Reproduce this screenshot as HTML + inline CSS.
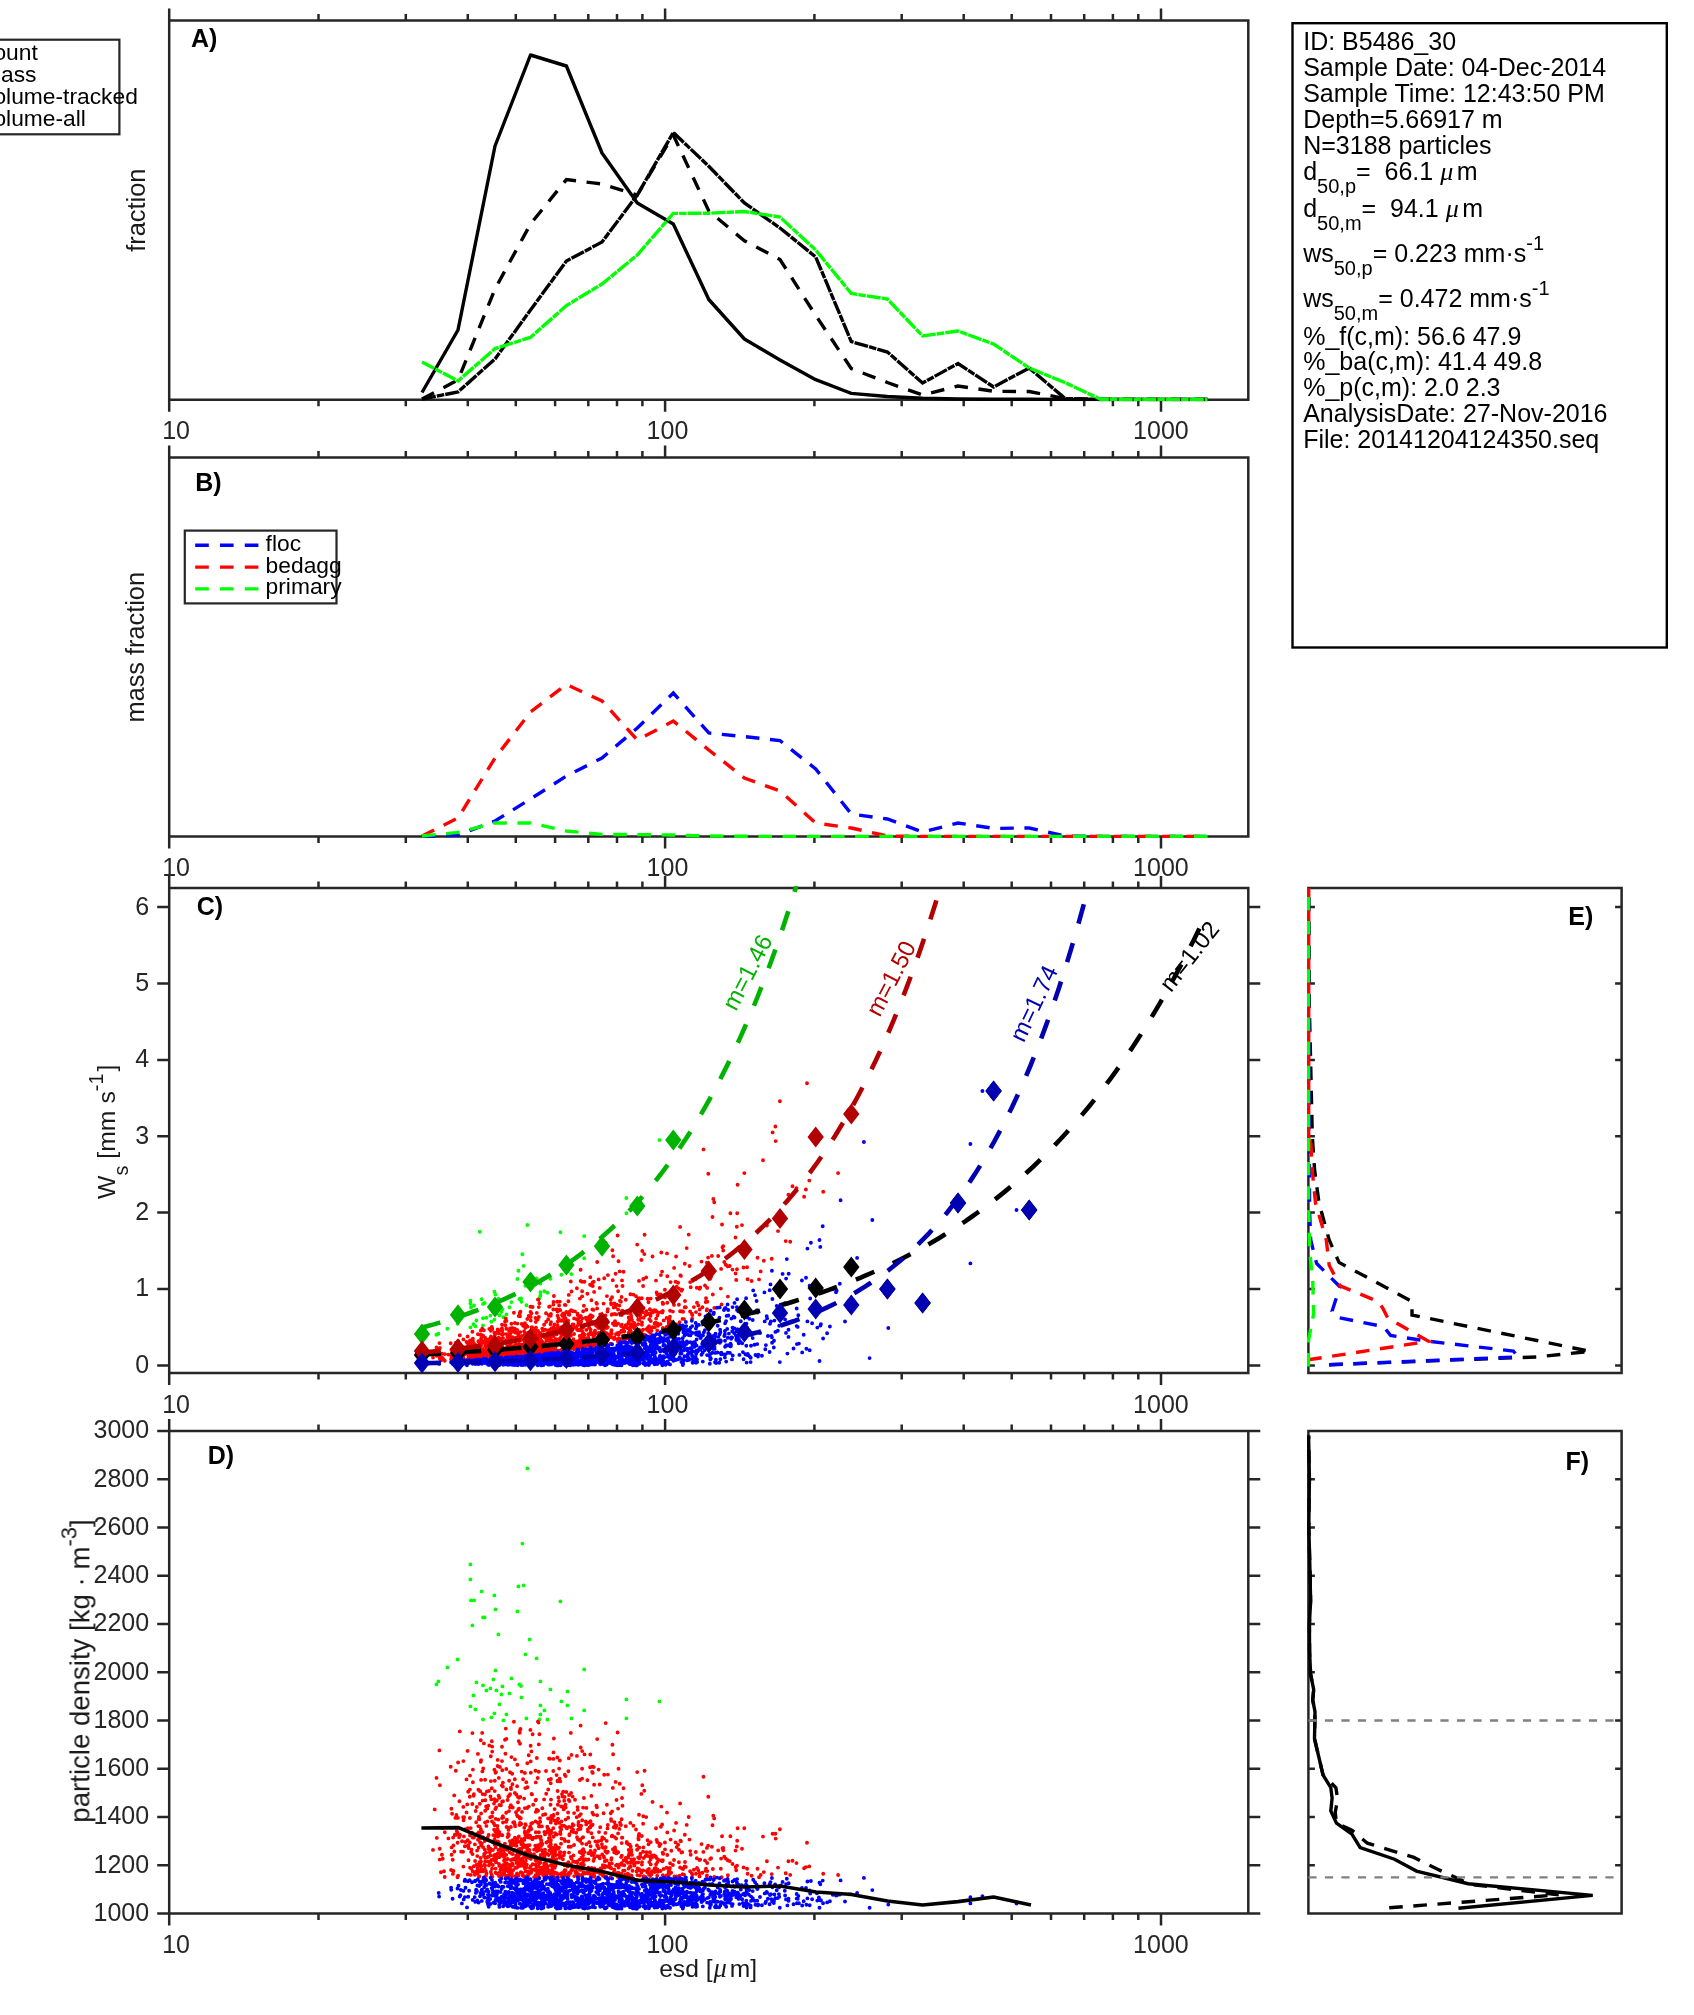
<!DOCTYPE html>
<html lang="en"><head><meta charset="utf-8"><title>Particle analysis B5486_30</title>
<style>html,body{margin:0;padding:0;background:#fff}svg{display:block}</style></head>
<body>
<svg width="1694" height="2015" viewBox="0 0 1694 2015">
<defs>
<clipPath id="cA"><rect x="167.6" y="19" width="1082.3" height="382.3"/></clipPath>
<clipPath id="cB"><rect x="167.6" y="456" width="1082.3" height="382.1"/></clipPath>
<clipPath id="cC"><rect x="167.6" y="886.3" width="1082.3" height="488.2"/></clipPath>
<clipPath id="cD"><rect x="167.6" y="1429.3" width="1082.3" height="485.8"/></clipPath>
<clipPath id="cE"><rect x="1306.8" y="886.3" width="316.4" height="488.2"/></clipPath>
<clipPath id="cF"><rect x="1306.8" y="1429.3" width="316.4" height="485.8"/></clipPath>
</defs>
<rect width="1694" height="2015" fill="#fff"/>
<g opacity="0.999">
<path d="M169.2 20.6H1248.3V399.7H169.2ZM169.2 399.7v12M169.2 20.6v-12M318.5 399.7v6.5M318.5 20.6v-6.5M405.8 399.7v6.5M405.8 20.6v-6.5M467.8 399.7v6.5M467.8 20.6v-6.5M515.8 399.7v6.5M515.8 20.6v-6.5M555.1 399.7v6.5M555.1 20.6v-6.5M588.3 399.7v6.5M588.3 20.6v-6.5M617 399.7v6.5M617 20.6v-6.5M642.4 399.7v6.5M642.4 20.6v-6.5M665.1 399.7v12M665.1 20.6v-12M814.4 399.7v6.5M814.4 20.6v-6.5M901.7 399.7v6.5M901.7 20.6v-6.5M963.7 399.7v6.5M963.7 20.6v-6.5M1011.7 399.7v6.5M1011.7 20.6v-6.5M1051 399.7v6.5M1051 20.6v-6.5M1084.2 399.7v6.5M1084.2 20.6v-6.5M1112.9 399.7v6.5M1112.9 20.6v-6.5M1138.3 399.7v6.5M1138.3 20.6v-6.5M1161 399.7v12M1161 20.6v-12M169.2 457.6H1248.3V836.5H169.2ZM169.2 836.5v12M169.2 457.6v-12M318.5 836.5v6.5M318.5 457.6v-6.5M405.8 836.5v6.5M405.8 457.6v-6.5M467.8 836.5v6.5M467.8 457.6v-6.5M515.8 836.5v6.5M515.8 457.6v-6.5M555.1 836.5v6.5M555.1 457.6v-6.5M588.3 836.5v6.5M588.3 457.6v-6.5M617 836.5v6.5M617 457.6v-6.5M642.4 836.5v6.5M642.4 457.6v-6.5M665.1 836.5v12M665.1 457.6v-12M814.4 836.5v6.5M814.4 457.6v-6.5M901.7 836.5v6.5M901.7 457.6v-6.5M963.7 836.5v6.5M963.7 457.6v-6.5M1011.7 836.5v6.5M1011.7 457.6v-6.5M1051 836.5v6.5M1051 457.6v-6.5M1084.2 836.5v6.5M1084.2 457.6v-6.5M1112.9 836.5v6.5M1112.9 457.6v-6.5M1138.3 836.5v6.5M1138.3 457.6v-6.5M1161 836.5v12M1161 457.6v-12M169.2 887.9H1248.3V1372.9H169.2ZM169.2 1372.9v12M169.2 887.9v-12M318.5 1372.9v6.5M318.5 887.9v-6.5M405.8 1372.9v6.5M405.8 887.9v-6.5M467.8 1372.9v6.5M467.8 887.9v-6.5M515.8 1372.9v6.5M515.8 887.9v-6.5M555.1 1372.9v6.5M555.1 887.9v-6.5M588.3 1372.9v6.5M588.3 887.9v-6.5M617 1372.9v6.5M617 887.9v-6.5M642.4 1372.9v6.5M642.4 887.9v-6.5M665.1 1372.9v12M665.1 887.9v-12M814.4 1372.9v6.5M814.4 887.9v-6.5M901.7 1372.9v6.5M901.7 887.9v-6.5M963.7 1372.9v6.5M963.7 887.9v-6.5M1011.7 1372.9v6.5M1011.7 887.9v-6.5M1051 1372.9v6.5M1051 887.9v-6.5M1084.2 1372.9v6.5M1084.2 887.9v-6.5M1112.9 1372.9v6.5M1112.9 887.9v-6.5M1138.3 1372.9v6.5M1138.3 887.9v-6.5M1161 1372.9v12M1161 887.9v-12M169.2 1430.9H1248.3V1913.5H169.2ZM169.2 1913.5v12M169.2 1430.9v-12M318.5 1913.5v6.5M318.5 1430.9v-6.5M405.8 1913.5v6.5M405.8 1430.9v-6.5M467.8 1913.5v6.5M467.8 1430.9v-6.5M515.8 1913.5v6.5M515.8 1430.9v-6.5M555.1 1913.5v6.5M555.1 1430.9v-6.5M588.3 1913.5v6.5M588.3 1430.9v-6.5M617 1913.5v6.5M617 1430.9v-6.5M642.4 1913.5v6.5M642.4 1430.9v-6.5M665.1 1913.5v12M665.1 1430.9v-12M814.4 1913.5v6.5M814.4 1430.9v-6.5M901.7 1913.5v6.5M901.7 1430.9v-6.5M963.7 1913.5v6.5M963.7 1430.9v-6.5M1011.7 1913.5v6.5M1011.7 1430.9v-6.5M1051 1913.5v6.5M1051 1430.9v-6.5M1084.2 1913.5v6.5M1084.2 1430.9v-6.5M1112.9 1913.5v6.5M1112.9 1430.9v-6.5M1138.3 1913.5v6.5M1138.3 1430.9v-6.5M1161 1913.5v12M1161 1430.9v-12M169.2 1365.4h-12M1248.3 1365.4h12M169.2 1289h-12M1248.3 1289h12M169.2 1212.6h-12M1248.3 1212.6h12M169.2 1136.3h-12M1248.3 1136.3h12M169.2 1059.9h-12M1248.3 1059.9h12M169.2 983.5h-12M1248.3 983.5h12M169.2 907.1h-12M1248.3 907.1h12M169.2 1913.5h-12M1248.3 1913.5h12M169.2 1865.2h-12M1248.3 1865.2h12M169.2 1817h-12M1248.3 1817h12M169.2 1768.7h-12M1248.3 1768.7h12M169.2 1720.5h-12M1248.3 1720.5h12M169.2 1672.2h-12M1248.3 1672.2h12M169.2 1623.9h-12M1248.3 1623.9h12M169.2 1575.7h-12M1248.3 1575.7h12M169.2 1527.4h-12M1248.3 1527.4h12M169.2 1479.2h-12M1248.3 1479.2h12M169.2 1430.9h-12M1248.3 1430.9h12M1308.4 887.9H1621.6V1372.9H1308.4ZM1308.4 1430.9H1621.6V1913.5H1308.4ZM1308.4 1365.4h6.5M1621.6 1365.4h-6.5M1308.4 1289h6.5M1621.6 1289h-6.5M1308.4 1212.6h6.5M1621.6 1212.6h-6.5M1308.4 1136.3h6.5M1621.6 1136.3h-6.5M1308.4 1059.9h6.5M1621.6 1059.9h-6.5M1308.4 983.5h6.5M1621.6 983.5h-6.5M1308.4 907.1h6.5M1621.6 907.1h-6.5M1308.4 1865.2h6.5M1621.6 1865.2h-6.5M1308.4 1817h6.5M1621.6 1817h-6.5M1308.4 1768.7h6.5M1621.6 1768.7h-6.5M1308.4 1720.5h6.5M1621.6 1720.5h-6.5M1308.4 1672.2h6.5M1621.6 1672.2h-6.5M1308.4 1623.9h6.5M1621.6 1623.9h-6.5M1308.4 1575.7h6.5M1621.6 1575.7h-6.5M1308.4 1527.4h6.5M1621.6 1527.4h-6.5M1308.4 1479.2h6.5M1621.6 1479.2h-6.5" fill="none" stroke="#262626" stroke-width="2.5" stroke-linecap="butt" stroke-linejoin="miter"/>
<g font-family="'Liberation Sans',Arial,Helvetica,sans-serif" font-size="25" fill="#262626">
<text x="162.2" y="439.3">10</text><text x="646.6" y="439.3">100</text><text x="1133.1" y="439.3">1000</text>
<text x="162.2" y="876.1">10</text><text x="646.6" y="876.1">100</text><text x="1133.1" y="876.1">1000</text>
<text x="162.2" y="1412.5">10</text><text x="646.6" y="1412.5">100</text><text x="1133.1" y="1412.5">1000</text>
<text x="162.2" y="1953.1">10</text><text x="646.6" y="1953.1">100</text><text x="1133.1" y="1953.1">1000</text>
<g text-anchor="end">
<text x="149.2" y="1372.8">0</text>
<text x="149.2" y="1296.4">1</text>
<text x="149.2" y="1220">2</text>
<text x="149.2" y="1143.7">3</text>
<text x="149.2" y="1067.3">4</text>
<text x="149.2" y="990.9">5</text>
<text x="149.2" y="914.5">6</text>
<text x="149.2" y="1920.9">1000</text>
<text x="149.2" y="1872.6">1200</text>
<text x="149.2" y="1824.4">1400</text>
<text x="149.2" y="1776.1">1600</text>
<text x="149.2" y="1727.9">1800</text>
<text x="149.2" y="1679.6">2000</text>
<text x="149.2" y="1631.3">2200</text>
<text x="149.2" y="1583.1">2400</text>
<text x="149.2" y="1534.8">2600</text>
<text x="149.2" y="1486.6">2800</text>
<text x="149.2" y="1438.3">3000</text>
</g></g>
<g font-family="'Liberation Sans',Arial,Helvetica,sans-serif" fill="#1a1a1a" text-anchor="middle">
<text transform="translate(144.6 210.2) rotate(-90)" font-size="25.4">fraction</text>
<text transform="translate(144.4 647.2) rotate(-90)" font-size="25.3">mass fraction</text>
<text transform="translate(115.2 1131.8) rotate(-90)" font-size="24.8">W<tspan font-size="19.8" dy="12.5">s</tspan><tspan dy="-12.5"> [mm s</tspan><tspan font-size="19.8" dy="-12">-1</tspan><tspan dy="12" dx="2">]</tspan></text>
<text transform="translate(89.4 1671.0) rotate(-90)" font-size="27.6">particle density [kg · m<tspan font-size="22" dy="-13.5">-3</tspan><tspan dy="13.5">]</tspan></text>
<text x="659.2" y="1976.8" font-size="24.6" text-anchor="start">esd [<tspan font-family="'Liberation Serif','DejaVu Serif',serif" font-style="italic" font-size="26.5" dx="1">μ</tspan><tspan dx="3">m]</tspan></text>
</g>
<g clip-path="url(#cA)" fill="none" stroke-width="3.4" stroke-linejoin="miter" stroke-miterlimit="3">
<path d="M422 392.5L458 330L495 146L530.5 55L566.4 66L602 153L637.3 203L673.3 224L708.8 299.5L744.4 339L780 360L815.7 379.7L851.3 393.4L887.4 396.5L922.6 398.3L958 399L993.6 399.2L1029.2 399.2L1064.8 399.4L1100.5 399.5L1136.2 399.5L1171.9 399.5L1207.6 399.5" stroke="#000" stroke-linejoin="round"/>
<path d="M422 399L458 380L495 289L530.5 224L566.4 179.6L602 184L637.3 195L673.3 135L708.8 211L744.4 240.8L780 259.5L815.7 315.4L851.3 368.6L887.4 382.5L922.6 395L958 386L993.6 391.3L1029.2 391.5L1064.8 398.5L1100.5 399.5L1136.2 399.5L1171.9 399.5L1207.6 399.5" stroke="#000" stroke-dasharray="13.6 10.6"/>
<path d="M422 399L458 392L495 359L530.5 310L566.4 261L602 242L637.3 195L673.3 132.5L708.8 166.3L744.4 203L780 228L815.7 257L851.3 341.6L887.4 352L922.6 383L958 363.5L993.6 387L1029.2 368L1064.8 398.3L1100.5 399.5L1136.2 399.5L1171.9 399.5L1207.6 399.5" stroke="#000" stroke-dasharray="14 1.1 7.5 1.1"/>
<path d="M422 362L458 381L495 348.6L530.5 337.4L566.4 305.6L602 284L637.3 255L673.3 213.4L708.8 213.2L744.4 211.5L780 217L815.7 250L851.3 293.5L887.4 299L922.6 336L958 331L993.6 344L1029.2 368L1064.8 382.5L1100.5 399.2L1136.2 399.5L1171.9 399.5L1207.6 399.5" stroke="#00ff00" stroke-dasharray="14 1.1 7.5 1.1"/>
</g>
<rect x="-60" y="39.7" width="179.4" height="94.6" fill="#fff" stroke="#262626" stroke-width="2.2"/>
<g font-family="'Liberation Sans',Arial,Helvetica,sans-serif" font-size="22.8" fill="#000">
<text x="-18.0" y="60.1">count</text>
<text x="-18.0" y="81.9">mass</text>
<text x="-18.0" y="103.7">volume-tracked</text>
<text x="-18.0" y="125.5">volume-all</text>
</g>
<g clip-path="url(#cB)" fill="none" stroke-width="3.4" stroke-dasharray="13.6 10.6">
<path d="M422 836.5L458 835L495 821L530.5 799L566.4 776L602 758L637.3 728L673.3 693L708.8 733L744.4 736.6L780 740.6L815.7 769L851.3 814L887.4 819L922.6 832L958 823L993.6 828.4L1029.2 828L1064.8 836L1100.5 836.5L1136.2 836.5L1171.9 836.5L1207.6 836.5" stroke="#0000ff"/>
<path d="M422 836L458 818L495 758L530.5 712L566.4 684.4L602 701L637.3 740L673.3 721L708.8 750L744.4 778L780 791L815.7 823L851.3 828L887.4 836L922.6 836.5L958 836.5L993.6 836.5L1029.2 836.5L1064.8 836.5L1100.5 836.5L1136.2 836.5L1171.9 836.5L1207.6 836.5" stroke="#ff0000"/>
<path d="M422 836L458 832.4L495 823L530.5 823L566.4 831L602 834.4L637.3 834.6L673.3 835L708.8 836L744.4 836.3L780 836.5L815.7 836.5L851.3 836.5L887.4 836.5L922.6 836.5L958 836.5L993.6 836.5L1029.2 836.5L1064.8 836.5L1100.5 836.5L1136.2 836.5L1171.9 836.5L1207.6 836.5" stroke="#00ff00"/>
</g>
<rect x="184.8" y="530.6" width="151.7" height="72.8" fill="#fff" stroke="#262626" stroke-width="2.2"/>
<path d="M195.2 545.3H259" stroke="#0000ff" stroke-width="3.4" stroke-dasharray="13.6 11.2" fill="none"/>
<path d="M195.2 567.1H259" stroke="#ff0000" stroke-width="3.4" stroke-dasharray="13.6 11.2" fill="none"/>
<path d="M195.2 588.9H259" stroke="#00ff00" stroke-width="3.4" stroke-dasharray="13.6 11.2" fill="none"/>
<g font-family="'Liberation Sans',Arial,Helvetica,sans-serif" font-size="22.8" fill="#000">
<text x="265.6" y="550.8">floc</text>
<text x="265.6" y="572.6">bedagg</text>
<text x="265.6" y="594.4">primary</text>
</g>
<g clip-path="url(#cC)" fill="none" stroke-width="3.9" stroke-linecap="round">
<path d="M527.4 1225h0M522.4 1254.2h0M470.4 1300.7h0M470.4 1303.5h0M518.4 1270.8h0M523.6 1265.9h0M481.6 1299.3h0M494.4 1291.8h0M471 1307.2h0M474 1305.5h0M560.4 1232.2h0M495.4 1294.5h0M517.4 1279h0M483 1303.9h0M484.6 1303h0M472.4 1311.2h0M498.4 1298.6h0M529.6 1277.7h0M525.4 1285.8h0M536.6 1278.4h0M457.6 1323.8h0M447.4 1328.8h0M495.4 1308.9h0M584.2 1236.1h0M511.4 1302.1h0M493.4 1312.1h0M438.4 1333.7h0M436.4 1334.7h0M476.4 1320.5h0M540.4 1283.6h0M483 1318.2h0M502.4 1309.2h0M519.4 1299h0M521 1298.5h0M490.4 1315.6h0M486.4 1317.8h0M496.4 1313.2h0M550.4 1278.8h0M567.4 1264.9h0M509.4 1307.3h0M501.4 1311.7h0M473.4 1324.2h0M521.4 1301.7h0M626.4 1198h0M659.4 1140.1h0M561.4 1274.7h0M499.4 1315.2h0M540.4 1292.2h0M567.4 1271.4h0M470.4 1327.4h0M475.4 1326.2h0M544.4 1291.3h0M584.2 1258.2h0M494.4 1319.6h0M506.4 1314.4h0M540.4 1295.5h0M491.4 1321.7h0M483 1325.4h0M526.4 1305.3h0M539.4 1297.9h0M547.4 1292.7h0M503.4 1317.3h0M571.4 1274.1h0M626.4 1213.2h0M479.8 1231.7h0" stroke="#00ff00"/>
<path d="M450.7 1343.2h0M439.7 1356.9h0M577.6 1313.8h0M584.5 1281.8h0M479.5 1355.9h0M690.7 1287.2h0M706.9 1262.8h0M550.8 1339.9h0M579.6 1340h0M442 1353.8h0M545 1337.5h0M557.8 1321.5h0M496 1354.2h0M508.7 1345.5h0M583.9 1305.8h0M592.2 1285.8h0M507.5 1354.8h0M541.8 1352.1h0M535.9 1352.3h0M500.2 1351h0M550.7 1315.7h0M634.1 1322.9h0M718.2 1256h0M511.1 1353.7h0M467.6 1336.5h0M478.7 1347.2h0M618 1341.8h0M606.4 1337.3h0M511.5 1348h0M522.6 1355.2h0M714.2 1202.3h0M523.7 1355.5h0M647.6 1314h0M490.1 1351.8h0M558.4 1318.1h0M454.8 1353.4h0M580.5 1323.7h0M551.6 1351.6h0M671.1 1321.7h0M631.2 1316h0M588.4 1342.3h0M512.5 1347.2h0M546.2 1348.6h0M550.2 1329.7h0M650.7 1298.6h0M480.7 1357.7h0M454.3 1356.2h0M512.7 1350.2h0M507.6 1343.9h0M616.2 1314.4h0M591.4 1300.2h0M457.9 1350.2h0M666.6 1326.9h0M538.5 1299.6h0M626.7 1327.6h0M484.9 1340.9h0M482.2 1328.6h0M603.9 1331.5h0M555.9 1343.1h0M588.5 1337.7h0M542.2 1346.6h0M509.8 1350.2h0M476.8 1345.1h0M526.9 1341h0M504 1352.2h0M625.8 1299.7h0M542.2 1341.8h0M550.5 1338.9h0M561.8 1351.4h0M536.8 1312.9h0M513.1 1354.7h0M486.7 1354.2h0M472.6 1358.2h0M541.3 1341.3h0M516.6 1350.4h0M464.8 1354.3h0M488.6 1352.1h0M492.4 1343.2h0M499.9 1356.4h0M511 1332.6h0M702.4 1307.3h0M491.3 1340.5h0M498.8 1333.4h0M636.9 1309.6h0M626.7 1312.8h0M478.7 1349.9h0M457.6 1354.4h0M614.2 1325.1h0M568.4 1334h0M528.1 1342.5h0M516.8 1345.8h0M513.7 1346.6h0M616.5 1286.1h0M537.9 1352h0M536.3 1348.7h0M496.1 1341.3h0M510.8 1352.1h0M625.7 1325.1h0M586.2 1319h0M497.4 1352.2h0M535.5 1347.4h0M596.9 1343.2h0M478.9 1357.7h0M548.1 1351.6h0M613.7 1307.5h0M557 1328.5h0M570.7 1340.7h0M723.2 1246.2h0M433 1357.6h0M628.1 1323.9h0M676.7 1286.8h0M552.4 1348.9h0M499.3 1354.7h0M603 1344.3h0M585.8 1317.6h0M485.1 1355.3h0M510.9 1343h0M544.5 1345.4h0M564 1348.9h0M621.5 1340.9h0M616.8 1304.7h0M568.1 1320.6h0M528.7 1315.9h0M582.1 1330.9h0M456.8 1352.6h0M614.4 1303.5h0M499.4 1339.9h0M548.2 1334.4h0M533.8 1352.2h0M556 1340.1h0M506.2 1342.6h0M621.6 1297h0M686.7 1248.1h0M542.7 1350.9h0M471.2 1357.8h0M805.9 1189.5h0M492.9 1351.8h0M553.7 1343.8h0M607.8 1327.1h0M502 1324.6h0M548.9 1337.9h0M608.9 1337h0M568.6 1336.4h0M480.8 1348.9h0M582.8 1341h0M535.8 1339h0M550.9 1335.7h0M482.9 1350.3h0M579.2 1348.4h0M451.6 1356.9h0M527.3 1319h0M556.5 1350.6h0M524.4 1343.6h0M532 1327.3h0M707 1309.2h0M481.1 1345.7h0M452.9 1359.8h0M549.6 1336.2h0M590.4 1318.7h0M472.9 1341.1h0M771.7 1258.8h0M724.3 1262h0M510.9 1332.3h0M573.3 1342.3h0M525.8 1350.4h0M542.3 1328.6h0M582.2 1338.5h0M557.4 1327.9h0M494.7 1337.7h0M547.7 1335.4h0M588.2 1345.7h0M667 1253.4h0M641.4 1259.9h0M591.6 1334.4h0M535.3 1343.8h0M573.1 1326.9h0M536.6 1353.8h0M526.5 1355.2h0M648.5 1302.2h0M712.5 1217h0M481.2 1357.3h0M511.1 1348.3h0M680.9 1275.9h0M605.7 1324.8h0M619.4 1305.6h0M500.9 1351.8h0M453.1 1354h0M518 1355.5h0M540.6 1339.5h0M458.1 1340.9h0M684.8 1263.7h0M488.6 1353.9h0M530.2 1338.6h0M545 1343.2h0M678.1 1282.8h0M680.4 1275.5h0M582.1 1296.4h0M615.6 1273.7h0M683.1 1311.7h0M505 1321.6h0M550.5 1324.3h0M615 1321.3h0M648 1327.4h0M644.6 1234.8h0M606.7 1333.3h0M535.5 1348.7h0M549.1 1341.1h0M531.2 1337.3h0M509.7 1353.6h0M481.1 1352.2h0M617.6 1235.5h0M534 1347h0M514 1351.5h0M680.1 1226.9h0M492.4 1358h0M535.6 1328.1h0M640.1 1330.8h0M528.9 1347.2h0M582.5 1336.3h0M553.2 1350.9h0M550.8 1351.3h0M514.9 1323h0M553.4 1345.1h0M597.8 1327.1h0M529.6 1344.7h0M510.6 1355h0M590.9 1343.7h0M571 1344.3h0M730.4 1213.2h0M559.1 1305.4h0M576.9 1345.3h0M550.9 1334.5h0M757.5 1257.7h0M699.7 1309.5h0M525.2 1346h0M436.5 1347.5h0M525.7 1353.6h0M511.5 1355.9h0M493.9 1353h0M540.7 1352.5h0M568.2 1323h0M525.8 1339.1h0M564.7 1345.3h0M542.3 1341.7h0M488.2 1342.6h0M597.9 1341.5h0M580.9 1342h0M544.2 1348.8h0M495.3 1341.8h0M485.2 1344.3h0M518.7 1350.2h0M561.6 1342.4h0M785.7 1241.1h0M657.4 1323.5h0M439.7 1358.5h0M515.7 1356.1h0M590.6 1332.3h0M539.5 1348.3h0M676.1 1256.5h0M554.6 1324.5h0M554.7 1348.6h0M582.2 1281.8h0M504 1353.1h0M630.3 1327.3h0M516.9 1338.3h0M685 1301h0M604.8 1334.3h0M471.1 1354.7h0M685.8 1307.3h0M823.2 1191.7h0M554.9 1341.8h0M599 1333h0M549.5 1341h0M472.3 1345.4h0M492.1 1344.2h0M809.3 1180.6h0M550.2 1346.3h0M632 1320.1h0M700.2 1287.5h0M540 1332.9h0M582.6 1327.6h0M594.3 1332.4h0M536.9 1343.9h0M553.5 1327.3h0M627.7 1337.1h0M552.6 1340.9h0M530.8 1349h0M508.3 1354.9h0M560.3 1332.8h0M646.2 1277.4h0M529.4 1346.3h0M545.5 1344.3h0M521.4 1350.9h0M455.4 1350.6h0M525 1345.7h0M524.7 1341.7h0M540.2 1342.2h0M525 1352.9h0M478 1351.5h0M661.4 1311.9h0M649 1331.5h0M518.5 1355.7h0M434.7 1352h0M595.4 1325.1h0M560.5 1342.8h0M552.3 1329h0M708.1 1257.6h0M559.8 1343.5h0M537.4 1353.1h0M671.1 1321.9h0M590.5 1315.3h0M668.7 1323.9h0M659.4 1297.2h0M620.9 1301.8h0M578.1 1347.7h0M618.5 1261.3h0M528.6 1354.6h0M643.1 1329.8h0M530.8 1351.4h0M547.9 1350.5h0M550.6 1340.9h0M526.4 1351.7h0M557.6 1311.6h0M524.1 1331.3h0M536.2 1354.4h0M507.5 1349h0M530.5 1347.4h0M555.7 1342.8h0M569.1 1327h0M486 1353.2h0M564.4 1340.1h0M530.6 1342.1h0M505.4 1325.2h0M527.8 1345.3h0M592.7 1323.7h0M566.6 1350.1h0M499.4 1346.6h0M538.2 1344.1h0M492.2 1329.3h0M488.9 1339.1h0M548.8 1315.2h0M570.8 1281.5h0M453.4 1355.3h0M621.8 1324.7h0M487.3 1350.1h0M519 1332.6h0M576.2 1327.3h0M544.6 1346.2h0M553.4 1304.6h0M585.1 1338.4h0M490.8 1357.1h0M541.7 1351.9h0M476.2 1358h0M688.7 1234.6h0M523.1 1325.7h0M736.2 1280h0M531.6 1327.4h0M582.1 1291.2h0M550.1 1335.4h0M540.7 1346h0M541.9 1335.4h0M553.3 1332.8h0M547.9 1351.6h0M604.9 1344.3h0M566.3 1345.1h0M523.4 1355.3h0M564.6 1315.1h0M452.7 1357.6h0M501.9 1357h0M507.6 1346.4h0M535.8 1348.8h0M575.6 1347.3h0M476.2 1348.3h0M497.4 1345.4h0M567.9 1349.9h0M591.8 1317.1h0M480.8 1350.8h0M593.5 1309.9h0M516.4 1353.7h0M559.6 1309.6h0M536.7 1340.4h0M515.1 1341.9h0M548.1 1350.6h0M625.3 1339.3h0M467.8 1350.6h0M574.1 1334h0M524.8 1334.1h0M439.9 1347.9h0M550.9 1338.2h0M480.8 1330.6h0M582.2 1318.5h0M638.6 1303.3h0M498.3 1343.7h0M674.4 1325h0M573.3 1328h0M543 1330.8h0M695.8 1279h0M578.4 1322.3h0M666.7 1317.9h0M488.4 1351.6h0M711.1 1276.7h0M540.5 1339.9h0M485.4 1354.5h0M497.5 1346.2h0M650.2 1332.9h0M481.1 1338.7h0M499 1354.4h0M568.3 1345.1h0M727.7 1266.3h0M551.4 1340.9h0M537.1 1350.6h0M514.9 1345.3h0M566.3 1312h0M526.3 1352.3h0M721.6 1304.4h0M611.1 1337.1h0M639.1 1298.1h0M624.9 1338.5h0M557.6 1315.7h0M451.7 1355.7h0M550.9 1330.9h0M606.7 1320.2h0M583.1 1311.3h0M538.9 1335.2h0M642.3 1251h0M463.4 1358h0M531.4 1313.3h0M517.6 1338.5h0M499 1357.4h0M639.3 1310.4h0M468.5 1354.1h0M485.3 1342h0M553.6 1346.3h0M668.6 1321.9h0M580.2 1336.1h0M555.9 1343h0M475.1 1356.1h0M517.5 1353.3h0M672.9 1311.6h0M535.8 1332h0M640.3 1317.9h0M629.1 1338.9h0M455.8 1342.8h0M665.8 1329h0M535.4 1345.1h0M744.3 1173.1h0M551 1322.1h0M522.1 1344.9h0M691.9 1313.7h0M521.7 1323.9h0M509.2 1348.7h0M544.6 1351h0M617.3 1339.2h0M509 1355.8h0M515.3 1353.8h0M507.1 1356.7h0M553.5 1301.9h0M479.8 1343.9h0M492.2 1328.1h0M655.5 1310.9h0M467.8 1359.1h0M495.5 1348.2h0M598.7 1328.1h0M492 1356.3h0M623.7 1340.4h0M778 1231.1h0M493 1354.1h0M517.2 1345h0M560.2 1310.3h0M615.5 1306.9h0M680.1 1311.2h0M578.5 1321h0M583.4 1339.8h0M684 1319.1h0M651 1329h0M510.8 1347.1h0M578.1 1325h0M463.6 1349.8h0M643 1312.3h0M478.9 1346.8h0M609.6 1334.4h0M458.1 1359.9h0M517.8 1352.1h0M660.6 1294.4h0M594 1343.9h0M759 1279.4h0M484.2 1353.7h0M630.6 1330.5h0M492.9 1349.9h0M631.3 1337.9h0M643.4 1308h0M482.6 1342.7h0M522.2 1345.7h0M444 1359.9h0M593.1 1346.5h0M602.4 1326h0M618.1 1309.6h0M505.3 1353.9h0M671.3 1295.1h0M568.8 1294.9h0M505.6 1352.6h0M588 1337.9h0M473.9 1357.2h0M480.4 1356.4h0M537.4 1343.3h0M506.2 1340.2h0M518.7 1316.1h0M516.4 1351.7h0M549 1335.1h0M595 1342.7h0M572.5 1346.4h0M466.5 1348h0M643.3 1279h0M602.3 1319.9h0M611.8 1333.8h0M766.9 1225.5h0M508.2 1345.4h0M539.1 1347.9h0M583.3 1333.5h0M524.4 1344.1h0M487.7 1355h0M493.9 1353.7h0M513.9 1312.8h0M603.1 1343.9h0M546.2 1321.8h0M571.3 1347h0M463.4 1339.4h0M546 1313.2h0M479.3 1347.2h0M838.1 1173.1h0M555.8 1345.8h0M779.9 1101.2h0M555.9 1330h0M552.5 1345.1h0M470 1340.5h0M518.2 1352.6h0M580.8 1345h0M484.8 1352.7h0M548.7 1344.5h0M522.9 1352.3h0M538.4 1350.5h0M577.9 1348h0M502.1 1338.4h0M633.4 1294.6h0M567.2 1344.5h0M494.8 1335.3h0M651.5 1330.8h0M612.8 1280.2h0M568.8 1349.8h0M615.5 1322.9h0M561.5 1327.2h0M699.5 1288.8h0M495.5 1333.2h0M576.7 1319.3h0M483.2 1335.7h0M577.1 1341.5h0M521.5 1348h0M707.2 1287.9h0M494.6 1339.6h0M526.9 1333.4h0M722.5 1247.2h0M614.4 1337.4h0M582.3 1341.7h0M590.8 1345.8h0M521.4 1346h0M470.7 1350.2h0M581.4 1338.6h0M525.3 1350.8h0M546.6 1353.3h0M562.4 1320.3h0M568.4 1343.8h0M587 1345.4h0M623.6 1327.9h0M544.4 1350.3h0M501.9 1334.4h0M490.8 1330.8h0M503.4 1350.5h0M601.8 1339.7h0M517.1 1355.2h0M525.3 1327.7h0M500.3 1351.2h0M551.5 1334.9h0M623.1 1336h0M506.2 1351.3h0M472.7 1351.8h0M525.8 1352.2h0M713.3 1198.9h0M530.7 1317h0M569.4 1314.7h0M598.2 1323.8h0M682.1 1311.3h0M623.5 1271.7h0M732.5 1269.6h0M662.8 1327.9h0M512.1 1350.2h0M504.3 1350h0M660.5 1324.1h0M602.2 1330.8h0M495.9 1352.6h0M548.2 1319.3h0M485.9 1357.3h0M605.4 1315.5h0M511.4 1323.7h0M654.6 1323.5h0M546.6 1352.2h0M503.4 1356.2h0M509.4 1334.8h0M472.4 1331.8h0M469.8 1344.5h0M475.7 1350.7h0M631.6 1337.8h0M616 1334.1h0M535.2 1354.5h0M504.4 1356.5h0M521.3 1339.9h0M737.6 1184.8h0M569.3 1330.9h0M692.1 1318.6h0M530.6 1311.9h0M494.7 1345.7h0M594.1 1346.4h0M552.9 1344.1h0M509 1339.2h0M498 1347.1h0M583.1 1336.8h0M546.5 1353.1h0M721.1 1268.9h0M515.2 1346.3h0M505.8 1318.4h0M512.1 1356.4h0M508.5 1344.3h0M606.9 1328.1h0M545.1 1349.7h0M602.9 1337.5h0M649.9 1309.5h0M618.8 1338.7h0M517.8 1349.2h0M593.4 1333.7h0M597.2 1262h0M590.5 1342.7h0M638.4 1302.6h0M606.3 1344.3h0M532.3 1336.7h0M541.4 1340.7h0M520 1339.9h0M554.6 1329.2h0M498 1347.9h0M591.4 1321.8h0M507.6 1355h0M496 1354.3h0M538.8 1316.9h0M536.4 1351.2h0M590.3 1277.2h0M491.4 1354.3h0M557.5 1325.2h0M494.5 1349.1h0M644.3 1254.1h0M487.3 1343.4h0M614 1339h0M639.4 1319.9h0M670.1 1310.8h0M481.1 1356.6h0M577.2 1342h0M624.3 1331.3h0M650.6 1315.8h0M639 1280.9h0M591.6 1346.1h0M512.7 1337.2h0M607.5 1311.5h0M659.4 1294.8h0M556.6 1329.3h0M542.6 1344.9h0M538.5 1352.3h0M522.5 1354.6h0M510 1328.4h0M583.9 1338.9h0M712.8 1294.5h0M706.7 1310.4h0M560.8 1350.3h0M484 1354.2h0M490.5 1353.3h0M622.4 1310.6h0M600.6 1343.2h0M582.6 1347.1h0M570.8 1335.8h0M522.6 1354.9h0M496.5 1346.6h0M616.4 1325.1h0M579.7 1336h0M535.7 1350.3h0M533.5 1341.4h0M632.5 1333.2h0M536.7 1331h0M561.2 1330.7h0M643.6 1334.8h0M519.9 1350.8h0M480.1 1351.8h0M469.9 1343.1h0M663.7 1320.4h0M544.4 1348.5h0M456.9 1353h0M512.2 1352.9h0M705.7 1302h0M503 1338.1h0M514.8 1328.7h0M703.4 1272.6h0M582.4 1334.4h0M512.6 1346.4h0M473.9 1351.6h0M617.1 1333.1h0M747.1 1267.3h0M566.9 1328.5h0M512.2 1328h0M543.8 1352.8h0M656.6 1311.8h0M469.9 1348.4h0M517.1 1329.9h0M612.3 1314.3h0M570.6 1348h0M601.8 1343.3h0M611 1337.4h0M629.3 1319.9h0M662.8 1311h0M518.3 1336.4h0M509.9 1347.1h0M626.8 1311.9h0M485.9 1358.3h0M551.4 1328.4h0M562.2 1328.9h0M440.9 1360.2h0M506.4 1334.1h0M594.2 1335.5h0M502.9 1334.4h0M549.1 1306.8h0M604.9 1338.4h0M514.3 1341h0M592.4 1309.4h0M479.8 1348.6h0M477.1 1353.8h0M504.5 1354h0M526.3 1325.5h0M487 1354.1h0M605.3 1327.7h0M613.1 1256.3h0M467.7 1352.9h0M540.2 1350.7h0M708.3 1173.7h0M628.7 1317.4h0M559.3 1342.4h0M597.1 1308.5h0M500.3 1354.7h0M550.8 1331.3h0M504.1 1351.2h0M489 1355.7h0M441.9 1357.6h0M531.4 1339h0M619.4 1332.6h0M464.1 1349.2h0M489.8 1352.7h0M495.2 1347.1h0M540.9 1346.5h0M638.2 1324.1h0M760.7 1271.4h0M638.6 1300.2h0M495.6 1356.9h0M471.5 1354.2h0M457.5 1352.7h0M560.2 1330.2h0M544.4 1336.7h0M668.8 1320.7h0M656 1280.6h0M507.2 1349.9h0M545.3 1329.8h0M492 1345.4h0M543.7 1351.2h0M530.7 1353.2h0M722 1224.5h0M594.1 1291.9h0M442.7 1358.1h0M599 1317.9h0M462 1353.7h0M555.2 1334.3h0M527.5 1326.6h0M517.1 1349.9h0M494.4 1332.8h0M775.4 1126.5h0M510 1337.9h0M481.8 1351.8h0M727.9 1296.6h0M454.2 1347.1h0M693.9 1307.1h0M544.2 1344.2h0M463.2 1349.3h0M555.1 1340.6h0M658.6 1312.8h0M541.4 1344h0M543.2 1353.1h0M570.6 1348.4h0M652.1 1311.3h0M588.4 1334.2h0M483.1 1352.4h0M610.4 1343.7h0M604.2 1278.3h0M519.7 1313.2h0M607.8 1309.1h0M510.1 1354.9h0M593.5 1337.2h0M482.9 1357.5h0M468.6 1354.2h0M572.7 1324.4h0M699.6 1314.5h0M544.6 1344.8h0M483.9 1330.2h0M515.8 1350.8h0M528.9 1341.6h0M477.3 1354.9h0M539 1336.2h0M540.1 1351.8h0M488.6 1355h0M528.6 1354h0M548.7 1346.4h0M737 1269.2h0M550.9 1314h0M569.1 1312h0M645.6 1315h0M476.6 1356.6h0M514.8 1347.4h0M538.6 1353.7h0M502 1342.6h0M508.6 1345.9h0M649 1326.2h0M494.1 1346.9h0M528.8 1332.4h0M630.4 1294.2h0M692.3 1315.1h0M538.9 1338.3h0M684.7 1307.3h0M498.8 1349.2h0M537 1345.3h0M518.3 1348.1h0M519.6 1340.6h0M550.8 1346.4h0M455.8 1353.3h0M654.2 1310.3h0M587.8 1321.2h0M658 1325.8h0M706 1298.2h0M502.4 1352h0M637.2 1244.6h0M559.6 1328.5h0M665 1297.5h0M554.9 1352.4h0M560.6 1340.9h0M504.3 1356h0M679 1288.7h0M532.4 1342.2h0M474.9 1352.8h0M743.5 1267.5h0M553.9 1296h0M611.7 1314.8h0M610.5 1337.2h0M553.3 1309.5h0M560.7 1330h0M493.8 1345.5h0M556.7 1334.3h0M553.3 1348h0M451.4 1349.7h0M527.4 1346.3h0M488.6 1349h0M576.9 1347.2h0M519.8 1351.8h0M564.8 1304.9h0M682.2 1289.6h0M520.8 1338.3h0M511.9 1355.7h0M552.5 1342.3h0M448.4 1354.6h0M636.6 1332.6h0M508.8 1345.7h0M580.1 1330.2h0M503 1343.5h0M689.5 1266h0M520.1 1352.7h0M506.8 1353.4h0M562 1315h0M603.2 1326.1h0M696 1312.1h0M495.7 1344.1h0M477.5 1350.6h0M520.1 1345.5h0M682.6 1318.9h0M629.9 1337.8h0M468.5 1356.5h0M530.5 1348.8h0M557.9 1350.7h0M536 1327.7h0M478.9 1358.9h0M747.6 1279.2h0M520.8 1354.5h0M473.9 1343.2h0M474.8 1358.4h0M459.1 1353.3h0M729.7 1266h0M574.1 1318.4h0M489.8 1355h0M618.7 1334.8h0M642 1322.5h0M550.9 1341.4h0M553.6 1327.6h0M466.5 1342h0M482.6 1341.3h0M637.4 1335.6h0M621.7 1315.1h0M453.4 1359.4h0M503.4 1354.2h0M707.3 1301.7h0M564.9 1349.5h0M544.1 1324.7h0M554.8 1350.5h0M508.3 1335.4h0M639.1 1329.8h0M486.4 1347.4h0M537.2 1343.4h0M491.6 1352h0M530.8 1320.6h0M624.6 1335.5h0M643.1 1286h0M495.6 1350.8h0M526.9 1342.5h0M543.2 1344h0M518 1334.3h0M463.9 1352.6h0M529.2 1347.4h0M612.9 1323.5h0M547.3 1336h0M564.2 1316.9h0M564.1 1349.8h0M595 1330.6h0M638.6 1330h0M524.3 1340.3h0M599.8 1333.9h0M474.8 1358.8h0M517 1346.2h0M597.1 1326.6h0M568.7 1314.5h0M499.9 1330.4h0M497.6 1330.9h0M554.9 1341.6h0M584.5 1334.7h0M568.4 1301.2h0M496 1347.2h0M742 1225.1h0M655.5 1322.6h0M520.4 1311.7h0M482.4 1336.6h0M619.7 1271.4h0M657.2 1330.4h0M575.4 1347h0M564.1 1328.2h0M612.4 1250.3h0M496 1332.9h0M690.1 1311.5h0M507.5 1352.2h0M552.4 1350.1h0M565.5 1318.1h0M517.1 1345.2h0M491.8 1327h0M530.1 1341.6h0M507.3 1355.4h0M478.5 1353h0M480.2 1341.2h0M669.9 1316.7h0M611.5 1330.2h0M479.5 1358.8h0M539.4 1303.2h0M506.6 1343.9h0M638.2 1319.7h0M492.9 1355.3h0M538.8 1307.1h0M518 1332.8h0M516.3 1350.1h0M510.1 1334.3h0M561.2 1320.8h0M587.4 1293.8h0M527.5 1353.5h0M574.2 1349.4h0M589.3 1327.7h0M478.9 1356.6h0M496.3 1353.5h0M634.4 1328.2h0M711.9 1255.9h0M600 1343.6h0M516 1337.8h0M556.3 1344.8h0M529.9 1352.1h0M621.2 1338.9h0M451.1 1359.3h0M541 1342.8h0M484.2 1356h0M676.3 1324.4h0M575.4 1342.1h0M583.1 1327.2h0M439.4 1343.1h0M583.6 1345.8h0M522.4 1350.9h0M581.5 1342.6h0M618.1 1291.2h0M549.8 1306.5h0M501 1350.1h0M547.1 1349.9h0M656.1 1318.6h0M527.2 1355h0M518.9 1335.9h0M571.7 1326.3h0M528.1 1354.7h0M630.7 1313.5h0M571.1 1310.1h0M502 1328.2h0M547.8 1349h0M594.2 1345.9h0M496.8 1339.4h0M559 1339.3h0M592.6 1316.2h0M632.8 1326.7h0M499.4 1338.1h0M580.8 1315.9h0M637.1 1313.3h0M579.9 1298.6h0M674 1304.9h0M714.3 1307.9h0M470.1 1357.7h0M487.7 1349.7h0M500.9 1339.6h0M528.8 1340.3h0M482.5 1349.3h0M625.9 1338.8h0M519.9 1338.6h0M558.1 1327.3h0M646.6 1329.1h0M775.7 1141.1h0M646.4 1311.2h0M548.2 1339.4h0M586.9 1338.3h0M751.6 1281h0M502.6 1355.1h0M507.6 1336.6h0M628.3 1312.9h0M516.1 1353.7h0M621.8 1331.7h0M461.1 1355.6h0M477.4 1358.3h0M663.3 1303.6h0M479.8 1357.8h0M524.2 1349.2h0M565.6 1305.1h0M535.5 1335.4h0M517.4 1323.6h0M539.4 1349.3h0M675.6 1281.7h0M599.7 1287.9h0M652.5 1256.5h0M522.9 1346.6h0M490.9 1336.4h0M516.4 1352.2h0M459.8 1335.2h0M670.6 1282.1h0M561.5 1334.7h0M594.6 1341.5h0M662.1 1271.6h0M534.1 1354.7h0M654.7 1327.2h0M590.6 1329.6h0M550.8 1351.8h0M519.8 1312.6h0M560.3 1332h0M554.9 1348.1h0M502.8 1342h0M536 1340.8h0M507.1 1354.4h0M625.9 1326.2h0M549.2 1350.5h0M667.3 1276.2h0M563.7 1321h0M621.9 1310.9h0M506 1357h0M601.9 1324.3h0M710.2 1278.7h0M523.2 1351.6h0M622 1280.4h0M512.4 1330.9h0M655.7 1310.5h0M506.9 1341.9h0M565 1334.8h0M516.5 1347.2h0M555.2 1341.5h0M528.8 1340h0M580.6 1269.7h0M573.6 1324.5h0M554.8 1350.7h0M490.5 1340h0M527.2 1333.3h0M629.8 1330.9h0M484.1 1357h0M472.9 1338.7h0M495.2 1340h0M514.7 1348.8h0M465.4 1351.1h0M556.6 1309.5h0M571.5 1341.3h0M736.8 1226.8h0M516.2 1355.8h0M661.3 1252.5h0M586.4 1309.8h0M501.2 1347h0M565.5 1347.9h0M549.4 1342.7h0M591.7 1341.8h0M649.3 1319.3h0M577.7 1315.1h0M469.8 1353h0M459.4 1347.2h0M478.4 1341.3h0M641.8 1298.3h0M585.1 1346.2h0M551.7 1342.8h0M463.3 1347.5h0M521.9 1354.7h0M603.6 1303.6h0M643.7 1317.8h0M587.8 1345.3h0M581.1 1321.8h0M790.2 1241.7h0M667.3 1302.7h0M737.2 1213.3h0M540.5 1340.2h0M514.1 1349h0M690.2 1282.1h0M652.9 1312.4h0M725.7 1264.7h0M517.3 1350.7h0M669.5 1318.4h0M628.6 1322.3h0M524.8 1341.4h0M610.7 1299.5h0M763 1160.3h0M487.4 1346.2h0M490.6 1355h0M662.6 1302.6h0M555.5 1347.6h0M735.6 1273.5h0M562.5 1315.9h0M657.2 1294.4h0M621.1 1326.1h0M572.6 1311h0M563.1 1313.4h0M618.2 1323.6h0M605.2 1344.3h0M763.8 1260.7h0M494.6 1352.7h0M552.8 1351.8h0M649.8 1313.6h0M499.1 1346.6h0M503.9 1355.6h0M535.5 1318h0M497.5 1349.1h0M569 1339.1h0M629.8 1312.7h0M541.2 1340.6h0M664.9 1289.7h0M517.5 1350h0M516.3 1332.6h0M641.9 1324.7h0M705 1285.5h0M567.5 1345.9h0M589.1 1327.8h0M481.1 1357.5h0M655 1323.5h0M548.1 1330.5h0M590.1 1284.7h0M512 1351.8h0M604.4 1325.4h0M682.1 1311.4h0M557.3 1301.7h0M497.7 1329.4h0M502.9 1355h0M514.9 1332.5h0M540.2 1334.2h0M522.9 1345.5h0M525.4 1342.2h0M498.6 1337.8h0M560.5 1333.1h0M632.5 1326.4h0M580.4 1323.8h0M477.9 1334.2h0M526.1 1349.4h0M580.3 1329.3h0M506.2 1354.7h0M537.9 1335.2h0M475.7 1346.1h0M652.4 1327.3h0M591.4 1333.1h0M580 1345.2h0M639.8 1335.4h0M520.3 1332.1h0M503.2 1342.2h0M545.2 1351.1h0M557.5 1311.4h0M520.4 1349.1h0M551.2 1341.2h0M527.8 1345.1h0M561 1337.1h0M540.5 1348.8h0M547.3 1333.9h0M566.1 1328.1h0M591 1317.6h0M576.7 1347.2h0M647.6 1298.8h0M559.8 1341.1h0M489.3 1328.9h0M522 1336h0M543.4 1351.7h0M547.6 1344.4h0M493.3 1348.3h0M494.6 1350.3h0M703.5 1149.4h0M592.6 1282.4h0M486.1 1343.2h0M530.4 1306.8h0M628.6 1332.6h0M444.7 1360.7h0M568.8 1348.7h0M465.4 1353.5h0M520 1316.3h0M622.5 1286h0M472.1 1350.9h0M567 1350.3h0M502.3 1330.4h0M510.7 1347.5h0M512.8 1353.2h0M611.2 1304.3h0M490.2 1344.8h0M552 1329.3h0M504.9 1348.6h0M547.8 1334.4h0M510.8 1337.1h0M525.7 1347.6h0M485.1 1356.1h0M577 1329.3h0M467.2 1346.4h0M589.3 1316.5h0M562.9 1351.4h0M571.5 1291.5h0M526.8 1346h0M463 1355.4h0M555.4 1339.1h0M635.5 1325.5h0M513.6 1351.5h0M499.2 1352.8h0M538.1 1330.9h0M697 1302.8h0M486.9 1339.7h0M481.1 1334.6h0M502.3 1346.8h0M600.2 1314.4h0M650.7 1321h0M575 1311.4h0M614.8 1314h0M538.4 1349h0M484.8 1350.9h0M577.6 1343.9h0M533.2 1330.4h0M495.6 1355.9h0M526.8 1351.4h0M569.4 1348.5h0M631.4 1324.2h0M535.7 1348.6h0M735.5 1237.5h0M541.5 1352.3h0M496.8 1357h0M525.7 1348.5h0M605.4 1337.3h0M579.4 1348h0M521.4 1344.4h0M513.2 1341.3h0M525.8 1346h0M557.4 1352.1h0M640.4 1315.3h0M553.6 1336.1h0M657.5 1315.6h0M452.1 1350.4h0M577.9 1330.2h0M604.1 1319.9h0M470 1351.7h0M481 1355.7h0M510 1354.5h0M568 1350.7h0M551 1348h0M497.9 1346.5h0M586.3 1329.9h0M792.5 1186.3h0M539 1339.8h0M636 1296.2h0M788.4 1194.7h0M574 1345.2h0M538.4 1344.8h0M530 1338.7h0M508.5 1355.4h0M563.9 1341.4h0M656.6 1292.5h0M572.6 1346h0M772.6 1132.4h0M537.9 1299.6h0M588 1322.3h0M499.3 1354.9h0M484.9 1356.9h0M537.1 1353.4h0M679.6 1322.3h0M571.4 1346.8h0M531.1 1353.5h0M514.9 1341.5h0M564.4 1345.8h0M606.9 1296.1h0M477.6 1357.3h0M565.7 1319.4h0M505 1353.8h0M593.7 1281.8h0M573.5 1339.3h0M457.5 1360.2h0M647.3 1330.1h0M641.4 1332.2h0M804.1 1196.8h0M512.3 1347.4h0M662.3 1312.6h0M518.8 1344.1h0M497.2 1352.7h0M556.1 1339.3h0M551.9 1343.2h0M660.9 1275.1h0M480.6 1354.9h0M485.1 1346.8h0M627.9 1328.2h0M472.5 1354.9h0M578.6 1322.9h0M630.4 1337.8h0M473.6 1343.5h0M549.8 1337.5h0M600.5 1340.1h0M611 1303.3h0M468.2 1343.9h0M645.4 1335.2h0M621.5 1330.6h0M529.2 1346.6h0M546.2 1347.4h0M542.9 1351.7h0M607.9 1275.1h0M604.1 1332.2h0M612.1 1297.3h0M572.6 1327.5h0M468.2 1353.7h0M674.1 1267.9h0M564.7 1348h0M508.7 1356.6h0M509.1 1331h0M698.3 1305.5h0M535.8 1321.9h0M544.6 1351.9h0M529.4 1348.9h0M480.5 1349.8h0M723.2 1250.5h0M592.7 1286h0M562.9 1343.5h0M576.9 1288.2h0M577.9 1344h0M494.9 1354h0M583.8 1341.9h0M589.4 1319.5h0M527.2 1346.6h0M532.8 1352.3h0M491.8 1337.8h0M510.5 1355h0M546.4 1340.2h0M615.5 1323.2h0M649.9 1309.2h0M720.8 1288.6h0M485.1 1337.6h0M606.9 1327.9h0M594.1 1344.1h0M478.3 1348.7h0M569.5 1330.3h0M611.3 1331.2h0M532.6 1350.5h0M495.3 1348.1h0M498.4 1351.1h0M506.3 1328.8h0M631.3 1318h0M480.8 1335h0M701.5 1261.6h0M637.5 1329.8h0M559 1319.4h0M579.3 1317.4h0M601.4 1322h0M807 1083.3h0M620 1300.7h0M524.9 1323.1h0M564.2 1334.3h0M444.8 1354.1h0M491.5 1357.6h0M561.7 1349.9h0M580.7 1281h0M520.1 1347.5h0M571.5 1328.1h0M615.2 1305.3h0M681.4 1290.7h0M796.5 1188.3h0M532.6 1307h0M522.5 1350.1h0M596.4 1303h0M597.2 1333.5h0M543 1350.1h0M470.8 1359h0M609.5 1335.3h0M596.9 1303.7h0M678.9 1304.8h0M436.8 1355.7h0M537.7 1319.5h0M565.6 1324.9h0M506.4 1320.9h0M456.4 1349.9h0M605.7 1242.9h0M668.9 1325h0M502.9 1333.4h0M525.4 1339h0M500.5 1355.6h0M563.7 1350.5h0M558.2 1340h0M696.8 1287.7h0M534.1 1345.4h0M477.1 1350.4h0M662.9 1303.9h0M559.8 1301.6h0M598.6 1279.4h0M526.9 1355h0M535.7 1353.9h0M486.5 1357.7h0M460.1 1352.8h0M554.9 1342.1h0M519.5 1338.3h0M576.7 1348h0M494 1340.8h0" stroke="#ff0000"/>
<path d="M605.5 1360.6h0M690.3 1348.3h0M536.6 1362h0M587.4 1365h0M601.9 1352.2h0M715.9 1359.8h0M551.5 1360.2h0M620 1357.1h0M491.6 1360.7h0M586.9 1353.4h0M568.8 1351.7h0M549.9 1361.8h0M690 1331.1h0M666.7 1353.5h0M635.5 1365.2h0M746.4 1323.7h0M702.5 1347.2h0M745.1 1333h0M606.8 1353.8h0M476.1 1361.8h0M599.7 1352.7h0M757.3 1312.5h0M480.5 1362.2h0M714.7 1335.2h0M526 1359.4h0M476.2 1361.7h0M660.3 1337.1h0M649.6 1363.5h0M601.1 1350.2h0M662.5 1357.9h0M566.6 1353h0M616 1365.1h0M673.4 1360.7h0M670.7 1334.7h0M646.2 1349.7h0M702.4 1347.5h0M554.5 1355.2h0M634 1356.8h0M677.8 1347.6h0M551.9 1355.5h0M647.4 1358.9h0M713.9 1336.9h0M554.2 1360h0M498.3 1361.2h0M536.3 1357.6h0M597.8 1352.6h0M662 1361h0M518.1 1362.9h0M727.2 1328.9h0M484.7 1363h0M515.7 1360.1h0M663.8 1356.5h0M610 1351.4h0M529.8 1362.6h0M687.1 1360.2h0M671.6 1348.8h0M608.7 1349.9h0M516.9 1360.9h0M482.5 1361.9h0M501.7 1360.5h0M614.2 1348.5h0M527.7 1356.8h0M609.4 1355.5h0M757.6 1311.4h0M696.6 1339.4h0M714.5 1347h0M645.6 1347.4h0M536.8 1356.8h0M621.3 1349.2h0M525.4 1361.6h0M529.9 1359.7h0M678.6 1331.2h0M646.4 1346.8h0M517.2 1360.1h0M564.8 1358.1h0M530.4 1361.5h0M640 1360.2h0M484.3 1360.8h0M766.7 1316.2h0M487.2 1361.2h0M540.6 1360.7h0M586.5 1362.1h0M526.2 1355.7h0M788.5 1336.9h0M654.5 1336.2h0M615.7 1349.7h0M542.1 1356.5h0M556.8 1357.2h0M482.3 1359.7h0M620.8 1363.9h0M655.4 1348.6h0M736.9 1307.1h0M618.8 1363.8h0M608.3 1359h0M545.4 1358.3h0M809.7 1350.2h0M562.2 1354.3h0M756.6 1301h0M492.4 1362.4h0M609.7 1351h0M686.9 1334.4h0M563.7 1352.7h0M577.8 1357.3h0M633.6 1360.8h0M663.9 1330.5h0M786.1 1278.6h0M579.6 1352.3h0M719.6 1334.3h0M618.9 1365.3h0M488.5 1361.6h0M665.3 1334.7h0M606.6 1344.8h0M810.9 1242.8h0M568.9 1357.2h0M819.5 1361h0M669.5 1357.9h0M550.1 1363h0M534.9 1355.8h0M690.4 1342.2h0M596.5 1352.5h0M598.1 1346.1h0M595.5 1359.4h0M696.9 1359.5h0M760 1333h0M679 1329.4h0M482 1361.4h0M696.4 1360.7h0M713.9 1312.8h0M534.8 1361.2h0M533.1 1364.9h0M598.3 1354.6h0M575.3 1364.4h0M582.5 1359.4h0M632 1355.3h0M504.5 1362.8h0M617 1349.3h0M592.8 1364.1h0M604.9 1352.3h0M620.3 1357.4h0M497 1361.9h0M668.5 1363.3h0M520.6 1360.3h0M554.4 1356.8h0M523.2 1363.9h0M523.4 1359.5h0M611.5 1362.2h0M535.6 1363.2h0M490.3 1364.3h0M576.6 1355.9h0M681.5 1358.9h0M493.3 1360.2h0M807.4 1248.6h0M612.9 1361h0M654.3 1359.2h0M485.1 1360.1h0M635.2 1360.5h0M645.7 1355.1h0M662.5 1358.1h0M548.2 1361.7h0M683.7 1347h0M573.2 1353.1h0M542.9 1355.4h0M552.2 1362h0M636.9 1365.4h0M673.3 1359.6h0M634.8 1340.4h0M606.5 1348.7h0M578.1 1350.7h0M556.6 1354.3h0M578.2 1350.5h0M665.4 1331.2h0M527.2 1355.5h0M614.4 1349.2h0M675.3 1345.6h0M510 1358h0M623 1359.9h0M654.4 1358.9h0M477.4 1360.7h0M550.2 1359.2h0M619.6 1343.7h0M552.7 1354.2h0M534.2 1357.7h0M612.1 1363h0M507.8 1359.5h0M654.6 1364.2h0M655 1352.4h0M681.1 1325.7h0M746 1307.5h0M699.1 1332.2h0M725.1 1346.7h0M545 1360.4h0M625.2 1361.8h0M593.4 1362.1h0M638.1 1363.4h0M779.8 1362.1h0M563.1 1353.1h0M654.8 1342.1h0M609.4 1359.8h0M495.3 1359.2h0M671.3 1333h0M710.9 1358.6h0M488.7 1364h0M720.6 1353.1h0M703 1335.3h0M645.2 1348.1h0M511 1357.3h0M696.5 1350.9h0M533 1365.1h0M656.7 1347.3h0M592.3 1352.4h0M736.3 1339.9h0M608.1 1354.3h0M722.6 1354.1h0M806.4 1348.8h0M638.3 1362h0M640.9 1358.5h0M593.9 1357.7h0M604.9 1361.1h0M499.2 1362.9h0M777.8 1330.8h0M568.4 1353.8h0M625.9 1346.4h0M543.7 1360.9h0M802.2 1352.4h0M628.4 1355.5h0M524.8 1356.5h0M571.8 1359.9h0M818.9 1311.9h0M585.1 1364h0M535.3 1359.8h0M636.2 1359.3h0M621.8 1352.9h0M628.4 1359.4h0M643.1 1358.8h0M601.8 1359h0M643.1 1358.9h0M621.7 1346.7h0M560.1 1362.4h0M729.9 1352.9h0M717.7 1325.7h0M671 1336.8h0M603.1 1362.6h0M626.4 1358.7h0M615 1359.3h0M528.1 1357.8h0M530.2 1361.9h0M535.3 1360.2h0M652.8 1335.2h0M649.5 1351.8h0M752.7 1338.1h0M689.1 1331.1h0M524.6 1364h0M551.8 1363.4h0M589.6 1355.9h0M673.5 1328.9h0M627.3 1362.3h0M694.3 1346.9h0M647 1358.1h0M578.2 1354.7h0M617.1 1357h0M665.6 1364.7h0M707.4 1347.4h0M631.9 1361.4h0M806 1277.8h0M631 1357h0M767.1 1318.4h0M522.2 1364.5h0M559.4 1356.9h0M683.2 1363.9h0M589.8 1357.4h0M684.6 1328.4h0M555.8 1362.9h0M648.1 1348.3h0M557.6 1357.9h0M554.7 1355.9h0M696.6 1326.4h0M654.6 1352.4h0M520.7 1360.8h0M758 1356.6h0M529.5 1363.5h0M696.2 1334.5h0M633.7 1361.2h0M663.1 1360.6h0M676.9 1359.6h0M559.6 1362.9h0M507.7 1363.8h0M573.7 1363.2h0M646.1 1364.6h0M478.6 1364.1h0M492 1358.8h0M668.9 1328.8h0M505.1 1358.6h0M493.2 1359.8h0M747.2 1316.4h0M663 1342h0M724 1310h0M565.6 1364.7h0M475.9 1362.3h0M545 1362.4h0M657 1345.6h0M674.8 1333.5h0M491.3 1359.8h0M563.1 1351.8h0M671.4 1359h0M670.3 1336.5h0M555.7 1364.9h0M489.4 1359.8h0M541.2 1363.1h0M635 1342.3h0M666.4 1347.3h0M719.2 1362.8h0M551.2 1364.4h0M564.7 1364.2h0M654.3 1363.7h0M619.7 1356.7h0M587.1 1360.2h0M771.9 1270.8h0M571.1 1364.1h0M607.4 1345.5h0M727.9 1345.4h0M552.2 1354.3h0M567.5 1352h0M637 1340.4h0M691.8 1320.7h0M641.9 1351.6h0M519.8 1363.9h0M730.8 1346.2h0M659.3 1349.9h0M663.6 1356.2h0M622.7 1360.7h0M693.2 1360.4h0M590.3 1348.9h0M547.4 1358.4h0M566.9 1360.2h0M677.7 1333.5h0M527.4 1364.2h0M544.9 1361.5h0M632.8 1365.2h0M526 1362.1h0M738.7 1343.3h0M587 1358.8h0M572.4 1356h0M508.7 1360.9h0M636.5 1349.2h0M548.7 1359.8h0M645.8 1363.1h0M512.2 1360.9h0M579 1356.4h0M680.3 1353.4h0M673.8 1341.1h0M638.1 1351h0M568.1 1351.6h0M685.8 1332.6h0M629.4 1347.2h0M728.2 1310h0M626.8 1361.8h0M649.5 1358.4h0M632.9 1352h0M648.9 1365h0M601.4 1361.5h0M673.1 1345.1h0M650.8 1337h0M581.9 1360.1h0M544.4 1357.9h0M524.2 1362.9h0M712.5 1352.8h0M573.5 1357h0M559.4 1365.1h0M529.4 1359.6h0M563.1 1357.2h0M626.3 1346.8h0M727.8 1337.8h0M537.8 1364.4h0M686.9 1341.5h0M692.2 1326.1h0M604.2 1364.4h0M588.7 1362.8h0M662.5 1339h0M784.8 1303.3h0M572.5 1362.2h0M602.4 1357.6h0M655 1344.7h0M581.2 1362.8h0M598.9 1356.7h0M612 1363.8h0M559.6 1359.2h0M692.5 1332.9h0M584.9 1364.7h0M561.8 1361.4h0M481.6 1362.2h0M609.4 1363h0M832.8 1289.4h0M559.8 1356.2h0M599.8 1362.9h0M523.9 1363.2h0M626.4 1359.9h0M695.6 1357.3h0M479.6 1359.9h0M568.7 1362.6h0M569.8 1356.9h0M541.3 1365.4h0M505.4 1361h0M612.1 1344.3h0M585.3 1358h0M737 1310.1h0M497.4 1359.8h0M484.9 1359.7h0M681.5 1328.6h0M599.9 1352h0M483.9 1358.8h0M568.7 1365.1h0M538.6 1361.1h0M697.7 1351.5h0M555.9 1354.6h0M507.9 1364.8h0M687.3 1342.7h0M575.4 1360.6h0M597.5 1354.3h0M530.5 1355.7h0M532.8 1362.5h0M577.7 1357.6h0M619.2 1358.3h0M572.9 1354.5h0M587.9 1349.6h0M536 1361.2h0M541.3 1357.1h0M692.7 1342.6h0M716 1363.1h0M438.7 1363.2h0M585.7 1355.3h0M518.6 1360.3h0M529.6 1362.3h0M560.1 1364.4h0M525.8 1358.4h0M605.4 1355.5h0M616.6 1362.3h0M698.9 1349.3h0M677 1348.5h0M553 1354.8h0M676.6 1343.3h0M703.9 1332.2h0M573.1 1364h0M526 1359.4h0M700.2 1347.5h0M521.6 1362.7h0M575.9 1355.5h0M524.1 1361h0M688.6 1357.9h0M548.7 1358.6h0M796.7 1326.1h0M496.5 1362.5h0M613.9 1361.3h0M678.2 1359.2h0M533.5 1358.4h0M622.4 1363.2h0M530.1 1355.8h0M523.9 1362.4h0M530.2 1364.8h0M515.6 1364.1h0M624.8 1342.1h0M683.4 1332.2h0M747 1327.6h0M468.2 1363.2h0M566.8 1352.9h0M605.7 1365.1h0M532.9 1363.9h0M510.6 1359.8h0M603.1 1355.4h0M582.6 1361.1h0M482.4 1362.3h0M549.3 1363.6h0M555.1 1359.9h0M582.3 1355.9h0M654.6 1341.4h0M542.5 1362.3h0M660.4 1351.5h0M524.7 1359.5h0M675.3 1353.5h0M664.3 1357.4h0M531.5 1365.3h0M517.5 1365.2h0M567.9 1352.9h0M547.7 1358.6h0M512.9 1357.5h0M692.6 1362.7h0M560.7 1365.2h0M527 1356.7h0M667.5 1361.8h0M727.6 1304.4h0M652.1 1344.2h0M728.3 1315.5h0M698.9 1324.9h0M527.1 1358.9h0M636.6 1355.5h0M774.4 1320.6h0M549.5 1361.1h0M709.8 1363.7h0M724.3 1336.1h0M563.4 1360.7h0M638.7 1362.4h0M674.6 1345.4h0M773.8 1347.5h0M587.6 1352.8h0M634.8 1342.5h0M509.1 1358.4h0M530.7 1362.2h0M535.8 1355.4h0M637.2 1362.9h0M650 1339.7h0M644.7 1357.5h0M570.6 1352.4h0M483.4 1359.2h0M604.5 1351.7h0M591.9 1349.4h0M704.9 1330.1h0M582.6 1350.1h0M605.8 1359.8h0M669.9 1359h0M610.5 1361.7h0M609.9 1355.3h0M599.5 1353.4h0M527.3 1360.9h0M619.3 1360h0M508.4 1362.8h0M656.2 1348.1h0M673.5 1356.2h0M541.6 1361.9h0M516 1356.7h0M488.1 1364.5h0M560.4 1360.7h0M525.3 1356.8h0M620.5 1355.2h0M719.7 1307.4h0M627.9 1343h0M677.5 1328.8h0M645.2 1344.2h0M516.5 1362h0M659.5 1358.7h0M483.4 1362.3h0M755.5 1355h0M603 1350.9h0M636.5 1358.1h0M522.9 1361.8h0M637 1354.1h0M529.9 1362.9h0M690.6 1327.7h0M746.3 1345.8h0M646.3 1336h0M719.4 1317.6h0M776.7 1305.9h0M738.8 1332.9h0M754.5 1344.8h0M676.5 1342h0M542.3 1360.6h0M580.9 1356.1h0M527.7 1358.7h0M584.9 1353.4h0M517.4 1361.6h0M504.2 1363.7h0M564.9 1363.4h0M602 1363.5h0M679.5 1343.1h0M752.7 1320h0M487.8 1362.3h0M516.9 1358.1h0M475.1 1360h0M534 1364.3h0M539.9 1359.9h0M557.3 1357.3h0M584.5 1365.4h0M657.3 1361.3h0M708.8 1346h0M668.3 1340.8h0M525.7 1357h0M733.6 1316.6h0M614.7 1356.5h0M682.8 1325.5h0M617.3 1345.5h0M575.7 1357.3h0M635.7 1353.2h0M671.4 1349.4h0M750.6 1362.1h0M686.7 1349.4h0M710.3 1359.5h0M488.7 1365h0M710.3 1341.2h0M606.9 1355.9h0M543.9 1357.3h0M463.4 1362.3h0M700.1 1334.9h0M713.5 1343.5h0M648.8 1336.9h0M659.3 1342.2h0M594.9 1349.3h0M569.5 1362.5h0M591.6 1360.7h0M584.2 1349.6h0M583.8 1356.8h0M512.9 1357.8h0M557.6 1358.6h0M667.2 1363.2h0M679.8 1325.3h0M518 1358.3h0M632.9 1348.1h0M451.2 1362.4h0M618.1 1347.9h0M618.8 1353.8h0M527.6 1363.2h0M686.6 1343.9h0M712.4 1321.4h0M588 1354.4h0M558.5 1358.2h0M532.4 1356.6h0M510.8 1359.5h0M542.4 1355.6h0M632.4 1364.5h0M564 1363.1h0M647.3 1355.4h0M725.5 1308h0M690.5 1335.2h0M695.9 1328.6h0M647.3 1339.5h0M659.1 1360.2h0M569.7 1354.8h0M536.5 1357.8h0M684.5 1356.3h0M573 1362.3h0M751 1345.7h0M556 1362h0M630 1364.2h0M538.4 1357.7h0M517.6 1361.7h0M662.3 1365.3h0M584.4 1362.7h0M541.1 1360.6h0M515 1357.5h0M718.4 1336.9h0M713.5 1348.9h0M745.4 1354.2h0M604.7 1354h0M526.8 1361.4h0M685.7 1342.9h0M496.6 1361.3h0M588.5 1349.1h0M556.2 1361.4h0M655 1345.8h0M463.7 1363.8h0M739.2 1311.6h0M667.6 1330.7h0M600.6 1350.9h0M715 1362.3h0M651.2 1348.8h0M630 1356.5h0M770.5 1284.4h0M702.7 1352.8h0M574.3 1364.5h0M557.2 1363.3h0M465 1360.2h0M622 1358.4h0M561.6 1353.9h0M526 1364.5h0M635.7 1347.6h0M672 1354.2h0M608.3 1357.4h0M624.5 1355.1h0M568.4 1353.2h0M520.3 1361.5h0M553 1360.4h0M624.8 1363h0M556.5 1361.1h0M680.5 1325.8h0M719.9 1342.8h0M650.1 1340.7h0M596.6 1347.8h0M590.2 1350.9h0M517.8 1357.3h0M586.9 1362.8h0M529.1 1356h0M611.7 1363h0M731.4 1318.6h0M717.4 1352.5h0M533.5 1361.7h0M734.1 1333.1h0M620.7 1344.1h0M691.2 1348.9h0M695.7 1323h0M518.2 1362.5h0M574.1 1353.8h0M772.4 1299h0M684 1350.3h0M549.2 1360.6h0M683.2 1344.7h0M573 1359h0M567.8 1355h0M702.4 1321.8h0M612.5 1364.2h0M635.9 1359.6h0M624.7 1360.4h0M632.1 1360.7h0M515 1365h0M696 1359.5h0M653.3 1354.4h0M642.9 1356.9h0M564.8 1358.7h0M645.5 1343.9h0M593.2 1363.1h0M673.5 1329h0M612.8 1351.4h0M693.2 1351.4h0M586.9 1362.3h0M625.4 1355.3h0M495.8 1361.5h0M697.4 1332.5h0M750.7 1357.8h0M608.1 1362.1h0M503.5 1359.8h0M577 1363.4h0M770.8 1321.5h0M539.5 1361.3h0M531.8 1359.8h0M557.8 1359.8h0M641.2 1354.7h0M569.1 1362.7h0M724.9 1308.3h0M477 1361.9h0M617.4 1349.7h0M495.5 1363.4h0M539.1 1356.9h0M628.9 1359.2h0M610.3 1357.7h0M748.9 1330.6h0M651.9 1349.7h0M581.8 1363h0M598.1 1359.3h0M653.9 1350.4h0M540.1 1358.9h0M735.9 1335.5h0M579.3 1353.5h0M648.2 1359.1h0M740.8 1321.2h0M633.3 1357.5h0M739.4 1354.9h0M601.9 1362.8h0M553 1360.2h0M589.6 1358.1h0M513.4 1358.1h0M761.9 1355.7h0M545.5 1354.4h0M525.6 1363.2h0M675.4 1344.7h0M564.6 1352.7h0M621.7 1348.7h0M547.8 1358.7h0M667.6 1333.7h0M618.1 1346.9h0M566.5 1362.7h0M782.6 1273.9h0M537.1 1356.3h0M536.8 1358.4h0M624.8 1347h0M628.6 1351.5h0M519.1 1361.2h0M785.1 1319.4h0M692.1 1355.4h0M554.4 1359.5h0M737 1336.2h0M475.3 1364.1h0M505.2 1362.3h0M530 1360.9h0M551.2 1362h0M629.7 1349.7h0M651.8 1362.1h0M620.8 1343.4h0M577.1 1358h0M705.5 1316.5h0M566.1 1358.4h0M643.9 1360.4h0M583.3 1356.4h0M661 1363h0M682.7 1338.2h0M732.7 1355.5h0M704.9 1323.3h0M544.9 1361.9h0M529.3 1359h0M499.2 1364.4h0M648 1337.2h0M836 1292.2h0M507.9 1357.2h0M650.8 1359h0M602.5 1363.7h0M578.7 1362.1h0M631.2 1347.3h0M525 1360.7h0M629.1 1346.7h0M568.6 1353h0M641.2 1357.7h0M480 1362.8h0M558.1 1355.3h0M585.5 1354.7h0M530.7 1357.2h0M613.9 1355h0M869.6 1358.1h0M595 1349.3h0M676.9 1344.7h0M584.1 1362.1h0M670.1 1355.1h0M566.2 1355.6h0M629.4 1357.7h0M513.7 1361.2h0M556.1 1361.5h0M654 1343h0M551.8 1355.3h0M612.2 1350.6h0M587.9 1360.3h0M508 1364.2h0M490.7 1358.4h0M500.7 1358.7h0M594.8 1349.2h0M569.1 1363.2h0M694.8 1342.3h0M654.6 1335.4h0M724.9 1331h0M592.6 1359.3h0M460.4 1363.1h0M531.9 1359h0M570.2 1363.9h0M747.3 1355.1h0M654.4 1363.5h0M481.8 1363.8h0M621.8 1355.4h0M540.5 1361.5h0M743.6 1359.2h0M696.6 1345.6h0M598.1 1355.9h0M568.2 1363.1h0M645.2 1363.6h0M549.5 1361.2h0M757.2 1344.1h0M596.6 1361.8h0M609.8 1353h0M650 1341.6h0M567.3 1359.8h0M514.3 1363.4h0M779.2 1325.8h0M642.2 1354.5h0M543.3 1364.6h0M458.5 1361.5h0M545.2 1361.4h0M682.7 1341.6h0M509.3 1361.8h0M820.3 1246.9h0M658.8 1359.7h0M666.5 1340.7h0M738.9 1339.3h0M663.6 1363.9h0M477.8 1359.5h0M793.5 1348.5h0M659.9 1339.9h0M629.9 1340.6h0M617.6 1364.5h0M715.3 1343.6h0M675.9 1326.9h0M836.7 1290.7h0M556.9 1365.4h0M664.9 1345.1h0M742.2 1343.2h0M609.1 1358.4h0M554.9 1354.5h0M692.5 1345h0M742.9 1352.1h0M547.6 1359h0M796.7 1308.5h0M621 1361.4h0M769.6 1352h0M571.6 1364.6h0M614.4 1349.5h0M677.7 1342.9h0M839.8 1283.8h0M655.6 1358.4h0M720.4 1359.3h0M726.2 1345.1h0M562.5 1360h0M709.6 1334.5h0M600.3 1358.8h0M565.2 1363.5h0M555.7 1364.2h0M730.5 1343.6h0M493.4 1359.5h0M578.1 1360h0M563.2 1363.6h0M700.4 1349.7h0M549.5 1355.9h0M570.9 1353.8h0M583.9 1361.3h0M479.2 1360.8h0M689 1359.9h0M538.5 1356.9h0M501.1 1363.4h0M624.5 1354.2h0M609.9 1348.8h0M686.2 1326.1h0M618.7 1363.2h0M653.1 1347.5h0M507.7 1362.5h0M532.7 1358.7h0M586 1349.1h0M543.2 1364.5h0M487.6 1364.1h0M715.5 1333.8h0M652.6 1337.1h0M578.1 1364h0M630.3 1353.5h0M599.4 1360.3h0M695.7 1358.5h0M600.8 1362.7h0M522.1 1364.3h0M743.8 1329.8h0M753.2 1290.4h0M594.2 1360.8h0M653.2 1338.1h0M583 1365.1h0M668.5 1346.1h0M563.2 1356.1h0M617.2 1364.5h0M798.3 1315.3h0M564.3 1354.1h0M685.9 1322h0M740.2 1341.6h0M601.4 1351.2h0M457.5 1362h0M643.4 1363.5h0M567 1353.3h0M504.7 1363.3h0M631.9 1352h0M726.1 1321.1h0M598.7 1350.9h0M812.1 1323.3h0M583.7 1363.3h0M732.1 1337.4h0M772.1 1342.8h0M770 1323.8h0M635.4 1352h0M512.4 1362.5h0M656.3 1344.2h0M489.5 1362.4h0M554.5 1360.4h0M555.5 1355.3h0M683.5 1329.2h0M509.2 1364h0M548.1 1364.6h0M525.4 1364.7h0M820.5 1325.5h0M650.8 1344.6h0M743 1331.5h0M589.9 1359.1h0M552 1355.8h0M652.2 1336h0M619.8 1349.3h0M617.6 1363.8h0M612.7 1360.1h0M540.5 1364.1h0M720.4 1332.3h0M725.1 1323.2h0M703 1341.7h0M609.8 1350.8h0M582.9 1360.7h0M556.1 1360.6h0M531.6 1362h0M681.4 1362.1h0M589.8 1352.2h0M546.7 1360.7h0M583.6 1365.1h0M578.1 1361.2h0M516.5 1363.2h0M612.9 1358h0M732 1359.4h0M659.4 1334.3h0M630.8 1353.8h0M598 1346.8h0M549.3 1364.5h0M510.3 1357.5h0M530.9 1357.8h0M658.8 1341.1h0M602.9 1358.5h0M646.6 1339.5h0M533.1 1364.7h0M617.1 1365.3h0M771.9 1337.2h0M552.1 1352.9h0M511.3 1363.7h0M658.6 1362.2h0M721.3 1352.8h0M593.3 1358.7h0M562.2 1356.5h0M774 1340.8h0M622.7 1342.6h0M658.3 1362.6h0M508.3 1358.4h0M526.8 1356.7h0M558.9 1365.2h0M817.3 1327.6h0M540.6 1360.9h0M643.1 1337.6h0M513.9 1359.7h0M610.4 1356.9h0M592.2 1364.4h0M614.5 1364.8h0M540.9 1363.3h0M589.3 1358.3h0M533 1364.1h0M581.9 1361.7h0M581.7 1353.8h0M682.6 1343.8h0M666.2 1339.6h0M717 1307.7h0M653.5 1347.2h0M689.7 1352.9h0M515.4 1363.3h0M600.1 1363.9h0M633.7 1361.5h0M712.5 1336.1h0M464.6 1360.5h0M775.1 1288.2h0M525.5 1357.2h0M607.7 1352.4h0M559.5 1363.4h0M737.1 1299.2h0M596.2 1355.4h0M543.3 1359.6h0M525.7 1363.6h0M588.2 1357.7h0M683.8 1328.1h0M474.7 1363.1h0M565.1 1354.1h0M545.4 1353.6h0M537.2 1363.8h0M452.6 1363.8h0M765.3 1349.2h0M553.5 1361.8h0M515.4 1358.3h0M577.9 1362.8h0M666.4 1352h0M495.4 1361.6h0M495.9 1359.9h0M619.3 1364.9h0M505.2 1364.4h0M667.8 1356.7h0M630.1 1351.9h0M654.4 1358.2h0M567.5 1358.4h0M710.2 1353.9h0M669.5 1346.8h0M820.9 1324.1h0M611.9 1348.6h0M621.5 1365.3h0M605.2 1358.3h0M594 1349.8h0M509.6 1362.3h0M488 1363.4h0M714.6 1348.9h0M561.2 1357.6h0M713.5 1339.1h0M646.6 1350h0M614.1 1357.5h0M797.7 1326.9h0M558.7 1363.1h0M534.5 1362.7h0M533.3 1363.8h0M643 1356.9h0M693.9 1342.2h0M590 1353.8h0M502.2 1359.8h0M531.1 1359h0M731.4 1337.5h0M696.4 1350.8h0M541.8 1364.8h0M590.6 1354.7h0M671.1 1329.4h0M635.7 1341.5h0M638.9 1347.6h0M488 1363h0M565.4 1365.3h0M576.7 1352.2h0M542.9 1363.8h0M602.8 1356h0M524.1 1359.7h0M592.3 1353.3h0M779 1295.3h0M707.1 1355.1h0M780.9 1287.4h0M605.4 1345h0M737.4 1329.4h0M595.7 1350.3h0M557.1 1355.8h0M608.5 1351.9h0M695.7 1333h0M494.5 1363.9h0M521.1 1365.1h0M567.7 1360.9h0M672.8 1356.8h0M691.8 1351.3h0M702.8 1361.6h0M521.5 1356.8h0M726.6 1315.9h0M485.9 1359.1h0M501.3 1357.8h0M651.2 1338.3h0M659.9 1355.9h0M517.3 1362.4h0M659.8 1347.9h0M607 1353.4h0M464.9 1363.3h0M683.2 1361.6h0M655 1351.7h0M581.9 1352.1h0M548.9 1364.1h0M539.3 1354.5h0M539.3 1356h0M664.4 1351.5h0M575 1357.4h0M558.1 1355.9h0M687.6 1350.6h0M840.6 1200.2h0M663.4 1345.4h0M744.4 1311.4h0M738.2 1311.3h0M567.1 1353.8h0M545 1361.4h0M602.8 1361.5h0M686.8 1343.6h0M570.8 1365h0M500.4 1361.3h0M523.4 1357.6h0M613.3 1360.8h0M618.7 1363.1h0M549.9 1355.5h0M547.8 1357.7h0M581.1 1362h0M769.7 1290.3h0M653 1342.4h0M599.1 1361.7h0M702.2 1343.9h0M659.5 1357.6h0M612.5 1362.2h0M557.9 1353.4h0M755 1295.3h0M642.8 1344.9h0M725.1 1354.4h0M487.2 1363.8h0M736.4 1331.3h0M530.5 1360.9h0M524.4 1359.2h0M613.7 1353.5h0M664.9 1339.2h0M737.7 1335.6h0M509.8 1364.6h0M788.7 1273.8h0M736.4 1338.6h0M674.2 1354.6h0M654.3 1352.8h0M516.8 1356.6h0M537.3 1361.2h0M612 1356.1h0M477.3 1363.8h0M601.4 1352h0M556.8 1359h0M512.7 1362.7h0M523.5 1364.2h0M531.9 1356.8h0M584.6 1363.5h0M580 1360.7h0M537.7 1365.2h0M588.9 1360.6h0M589.4 1364.8h0M721.1 1354.2h0M624.6 1348.8h0M687.8 1330h0M580.2 1361.4h0M511.3 1358.5h0M775.4 1331.9h0M595.2 1358.7h0M510.2 1361.8h0M586.2 1360.2h0M655 1358.5h0M604.9 1365.2h0M636.8 1344h0M597.9 1352.8h0M597.8 1347.5h0M579.9 1364.4h0M607 1353.9h0M665.5 1348.9h0M512.3 1358h0M757 1310.1h0M554.4 1363h0M692.2 1351.8h0M619.7 1346h0M626.3 1359.7h0M710.6 1310.7h0M611.9 1351.8h0M540.9 1360.6h0M575.3 1355.1h0M558.7 1357.6h0M700.8 1338h0M562.6 1363.2h0M644.3 1353.2h0M578.3 1364.7h0M546.8 1356h0M611 1362.7h0M467.9 1360.4h0M678.3 1333.8h0M675.5 1349.1h0M514.1 1362.2h0M616.1 1356.4h0M502.1 1362.6h0M626.8 1342.8h0M709.4 1323.1h0M525.1 1362.3h0M515.9 1361.9h0M535.7 1361.5h0M649.8 1347h0M765.9 1345.1h0M577.7 1349.5h0M590.8 1349.4h0M530.3 1363h0M563.8 1357.5h0M561 1364.3h0M625.9 1360.8h0M543.2 1358h0M650.6 1361h0M501.6 1362.4h0M611.1 1355.5h0M619.5 1355.5h0M663.5 1338.1h0M484 1362.9h0M505.3 1361.8h0M746.6 1362.6h0M519.6 1357h0M570 1353.9h0M573.6 1362.6h0M632.7 1356.8h0M604.5 1358.7h0M713 1344.9h0M668.2 1363.6h0M503.2 1364.8h0M653.1 1359.2h0M551.6 1361.1h0M521.9 1359.9h0M516.6 1358.8h0M611.4 1363h0M687.6 1356.8h0M602.5 1363.5h0M581.3 1362.6h0M857.1 1257.9h0M541.8 1358.2h0M506.6 1358.5h0M609.9 1360.9h0M599.5 1353.8h0M684.6 1329.3h0M640.6 1352.5h0M608.7 1358.3h0M679.6 1357.1h0M486.2 1359.2h0M521.7 1360.4h0M578.5 1356.3h0M801.9 1280.5h0M581.3 1360.5h0M674 1353.8h0M576.6 1359.8h0M493.5 1364h0M657.3 1340.6h0M619.5 1347.6h0M599.8 1354h0M542.1 1358h0M627.2 1357.4h0M605.5 1353.2h0M684.6 1345.2h0M741.7 1310.7h0M734.5 1302.9h0M631.8 1343.1h0M623.3 1352.3h0M486.1 1361.5h0M669.9 1345.5h0M557.9 1352.2h0M520.2 1356.7h0M533.5 1361.6h0M590.1 1359.3h0M582.4 1353.1h0M655.9 1363.8h0M633.1 1357.6h0M565.5 1353.5h0M512.3 1362.1h0M545 1363h0M550.1 1356h0M534.3 1361.6h0M626.3 1344.6h0M555.7 1357.7h0M724.9 1334.3h0M620.2 1341.9h0M684.4 1335.5h0M586.2 1350.8h0M567.4 1359.7h0M655.7 1339.2h0M582.6 1348.8h0M681.7 1350.9h0M544.9 1360.6h0M580.4 1352.6h0M532.8 1360.3h0M609.1 1357.4h0M625.6 1348.5h0M713.6 1314h0M583.9 1353.5h0M650.3 1355.9h0M683.8 1360h0M543.4 1365.1h0M524.3 1357.2h0M677.3 1348.5h0M740.4 1335.5h0M495.2 1360.2h0M663.5 1332.6h0M581.2 1360.6h0M538.5 1363.3h0M552.4 1355h0M566.3 1359.9h0M732.5 1327.6h0M644.4 1362.6h0M495.3 1362.4h0M550.1 1353.3h0M559 1355.7h0M632.6 1362.8h0M679 1338.9h0M732.2 1331.2h0M746.7 1308.7h0M639.3 1358.4h0M632.9 1339.8h0M511.2 1359.3h0M536.3 1360.1h0M680.8 1352h0M498.8 1363.6h0M645.3 1365h0M513.6 1363.6h0M547.9 1359h0M638.5 1361.3h0M691.6 1352.5h0M476 1361.7h0M557.6 1355.3h0M698.6 1335.6h0M656.6 1334h0M613.7 1350.7h0M746.5 1317.2h0M618 1349.3h0M796.9 1344.1h0M520.9 1359.6h0M654.9 1356.5h0M637.8 1348.1h0M554.7 1363.9h0M558.3 1361.9h0M720.1 1329.7h0M557.6 1363.9h0M519.8 1359.7h0M467 1365.2h0M620 1363h0M519.2 1356.9h0M827.1 1333.2h0M533.2 1356.9h0M537.6 1360.1h0M700.5 1337.9h0M509.5 1363.3h0M620.5 1358.7h0M632.9 1358.3h0M472.7 1363.7h0M601.2 1360.2h0M469.6 1360.1h0M588.5 1365h0M641.5 1359.6h0M513.7 1361.3h0M626.4 1350.4h0M495.9 1361.3h0M710 1357.1h0M608 1347.6h0M726.2 1361.6h0M606.7 1364.6h0M641.9 1343.1h0M764.4 1292.4h0M540.6 1361.6h0M522.9 1359.8h0M576.5 1356.7h0M590.2 1355.6h0M652.6 1348.1h0M751.1 1334.7h0M679.7 1344.9h0M530.4 1359.6h0M554.5 1354.8h0M661.2 1350.4h0M724.9 1357.5h0M482.1 1359.8h0M596.2 1352.6h0M500.6 1363.9h0M531.4 1357.1h0M526.2 1362.7h0M506.2 1363.7h0M709.8 1314.6h0M565.8 1363h0M480.9 1360.3h0M460.9 1362.2h0M542.8 1359.9h0M667.9 1338.1h0M576 1364.4h0M652.5 1341.6h0M634.6 1363.6h0M644.8 1348.2h0M551.8 1360.7h0M652.5 1352.8h0M576.8 1354.6h0M588.4 1353h0M823.1 1338.5h0M695.2 1343.5h0M807.4 1321.4h0M538.4 1358.9h0M608.6 1359.5h0M555.2 1361.2h0M675.7 1338.1h0M611.5 1359.7h0M621.6 1348.9h0M481.7 1361.5h0M675.3 1360.1h0M627.4 1348.5h0M590.7 1347.5h0M560.5 1353.5h0M701.5 1354.8h0M560.1 1362.8h0M734.5 1317.5h0M583.3 1356.8h0M565.9 1357.3h0M516.7 1359.5h0M822.7 1226.3h0M608.4 1345.5h0M586.4 1359.4h0M459.7 1363.3h0M548.2 1364.1h0M504.2 1364h0M492.3 1360.9h0M570.3 1365.2h0M575.7 1357.2h0M696.1 1353.9h0M771.4 1335.9h0M680.3 1342.4h0M585.8 1363.7h0M519.8 1362.4h0M655.6 1352.7h0M675.7 1341h0M803.7 1334.7h0M571.2 1352.1h0M734.6 1328.4h0M542.5 1355.5h0M563.8 1359.2h0M439.1 1363.7h0M536.8 1361.9h0M687.1 1348.8h0M656.1 1359.1h0M527.9 1356.2h0M639.3 1363.7h0M707.6 1315.2h0M786.8 1259.1h0M582.3 1362.6h0M674.3 1359.4h0M600.3 1364.2h0M497.6 1363.3h0M728.9 1333.6h0M749.3 1318.8h0M746.1 1298.3h0M715.4 1336.7h0M614.1 1350.4h0M591.4 1351.7h0M517.4 1357.1h0M609.3 1353.7h0M692.3 1358.9h0M670.5 1351.8h0M682.8 1365.1h0M538.1 1363.8h0M715.4 1352.9h0M536.7 1357.9h0M562 1359.7h0M539.9 1364.2h0M590.6 1361.6h0M606.6 1359.8h0M669.8 1347.1h0M603.1 1349.3h0M590.3 1353.5h0M662.8 1361.1h0M573.6 1364.8h0M566.5 1363.2h0M863.9 1142h0M786 1332.9h0M720.9 1341h0M634.4 1360.6h0M681.5 1353.6h0M598 1351.7h0M524.6 1363.9h0M554.1 1353.3h0M657.2 1364h0M665.6 1362.4h0M648 1349.8h0M603 1360.3h0M515.5 1362.7h0M483.9 1359h0M672.9 1343.4h0M567.1 1362.7h0M668.8 1343.3h0M578.5 1350.2h0M509.9 1358.5h0M845 1321.5h0M816.9 1293.4h0M787.4 1353.6h0M614.3 1358.3h0M702.9 1335.4h0M504 1361.7h0M639.7 1362.8h0M609.3 1352.4h0M676 1350.3h0M645.2 1353.7h0M644.7 1342.8h0M506.6 1361.5h0M525.4 1359.6h0M670 1364.4h0M498.5 1360h0M737.9 1329.4h0M567.6 1357.7h0M574.4 1359.4h0M778.9 1317.4h0M727.7 1352.8h0M510.9 1364.4h0M645.1 1356.5h0M630.1 1362.2h0M560.1 1357.3h0M505.5 1357.6h0M658.4 1338.9h0M526.1 1362.6h0M495 1361.4h0M725 1340.7h0M545.9 1353.6h0M679.6 1347.2h0M451.1 1362.1h0M475.1 1359.9h0M749.7 1356.4h0M615.1 1362.7h0M688.7 1335h0M829.9 1326.5h0M545.4 1363.4h0M564.9 1360.3h0M543.6 1363.9h0M708.3 1333.2h0M640 1358.7h0M704.6 1350.2h0M654.9 1343.5h0M567.4 1351.2h0M584 1353.1h0M617.2 1346.6h0M655.8 1343.9h0M623.3 1361.4h0M522.8 1365.1h0M569.1 1364.8h0M571.9 1353.4h0M550.3 1353.7h0M648 1353.1h0M730.4 1346.3h0M618.8 1347.5h0M549.2 1362.7h0M552.4 1356.4h0M535.8 1355.3h0M649 1361h0M461.9 1364.5h0M536.8 1355.7h0M643.9 1339.5h0M688 1354.2h0M565.2 1363.1h0M584.6 1355.3h0M594.3 1361.8h0M492.8 1361.7h0M649.2 1338.8h0M597.3 1355.9h0M747.8 1353.9h0M732.6 1307.1h0M486.5 1360.2h0M644.7 1353.1h0M490.2 1363.2h0M758.3 1354.6h0M687.7 1354.7h0M469.1 1362.1h0M605.8 1360.1h0M529.7 1362.8h0M499.4 1365h0M589.1 1350.1h0M731 1344.7h0M697.1 1362h0M578.2 1349.7h0M685 1345.1h0M714.5 1339.4h0M696 1362.7h0M509.4 1364h0M555.2 1363.5h0M667.6 1339.5h0M465.5 1361.6h0M573.2 1354.4h0M632.7 1360h0M798.9 1343.6h0M591.5 1355.1h0M767.9 1336h0M654 1340.8h0M731.2 1338.8h0M582.9 1350.7h0M628.4 1347.5h0M521 1359.6h0M660.7 1356.3h0M596.4 1362h0M620.3 1349.5h0M515.4 1364.4h0M552.8 1354.3h0M547.6 1353.4h0M764.7 1321.4h0M668.7 1342.3h0M576.5 1361.2h0M561.1 1362.8h0M499.7 1358.3h0M534.3 1357.5h0M810.2 1298.5h0M621.5 1356.8h0M645.8 1339.2h0M595.1 1358.2h0M543.9 1361.5h0M550.8 1353.9h0M654.4 1360.6h0M512.6 1364.9h0M682.3 1344.5h0M599.5 1346.8h0M515.8 1358h0M673.7 1358.3h0M585.8 1354.2h0M581.8 1358.9h0M628 1362.7h0M609.2 1362.9h0M554 1363.6h0M544.9 1360.5h0M567 1357.4h0M571.4 1358.9h0M682.5 1344.5h0M544.4 1354.1h0M695.2 1357.3h0M563 1355.7h0M662.1 1339.2h0M609.5 1356.1h0M595 1364.6h0M737.8 1340.9h0M637.9 1345.9h0M618.5 1352.4h0M604.3 1361.9h0M809.6 1285.6h0M472 1360.4h0M529.5 1357.5h0M508.1 1363.5h0M495.1 1364.1h0M572.8 1364.4h0M788.5 1329.7h0M557.6 1359.2h0M660.7 1332.3h0M605.5 1354.3h0M598.7 1362.2h0M570.5 1362.3h0M702.9 1346.4h0M872.3 1220h0M888.3 1328h0M970.4 1144h0M970.4 1263.4h0M982.4 1091h0M1016.5 1210h0M819.5 1240h0" stroke="#0000ff"/>
</g>
<g clip-path="url(#cC)">
<path d="M421 1354.5L426.6 1354.2L432.2 1353.9L437.7 1353.6L443.3 1353.2L448.8 1352.9L454.4 1352.6L460 1352.2L465.5 1351.9L471.1 1351.5L476.6 1351.2L482.2 1350.8L487.8 1350.4L493.3 1350L498.9 1349.6L504.4 1349.1L510 1348.7L515.6 1348.3L521.1 1347.8L526.7 1347.3L532.2 1346.9L537.8 1346.4L543.4 1345.9L548.9 1345.3L554.5 1344.8L560 1344.3L565.6 1343.7L571.2 1343.1L576.7 1342.5L582.3 1341.9L587.8 1341.3L593.4 1340.6L598.9 1340L604.5 1339.3L610.1 1338.6L615.6 1337.9L621.2 1337.2L626.7 1336.4L632.3 1335.6L637.9 1334.8L643.4 1334L649 1333.2L654.5 1332.3L660.1 1331.4L665.7 1330.5L671.2 1329.6L676.8 1328.6L682.3 1327.7L687.9 1326.7L693.5 1325.6L699 1324.6L704.6 1323.5L710.1 1322.3L715.7 1321.2L721.3 1320L726.8 1318.8L732.4 1317.6L737.9 1316.3L743.5 1315L749.1 1313.6L754.6 1312.3L760.2 1310.8L765.7 1309.4L771.3 1307.9L776.8 1306.4L782.4 1304.8L788 1303.2L793.5 1301.5L799.1 1299.8L804.6 1298L810.2 1296.2L815.8 1294.4L821.3 1292.5L826.9 1290.6L832.4 1288.6L838 1286.5L843.6 1284.4L849.1 1282.3L854.7 1280L860.2 1277.8L865.8 1275.4L871.4 1273L876.9 1270.6L882.5 1268L888 1265.4L893.6 1262.8L899.2 1260L904.7 1257.2L910.3 1254.3L915.8 1251.4L921.4 1248.3L927 1245.2L932.5 1242L938.1 1238.7L943.6 1235.3L949.2 1231.8L954.8 1228.3L960.3 1224.6L965.9 1220.9L971.4 1217L977 1213L982.5 1209L988.1 1204.8L993.7 1200.5L999.2 1196.1L1004.8 1191.6L1010.3 1187L1015.9 1182.2L1021.5 1177.3L1027 1172.3L1032.6 1167.2L1038.1 1161.9L1043.7 1156.4L1049.3 1150.9L1054.8 1145.1L1060.4 1139.3L1065.9 1133.2L1071.5 1127L1077.1 1120.7L1082.6 1114.1L1088.2 1107.4L1093.7 1100.6L1099.3 1093.5L1104.9 1086.2L1110.4 1078.8L1116 1071.1L1121.5 1063.3L1127.1 1055.2L1132.7 1047L1138.2 1038.5L1143.8 1029.7L1149.3 1020.8L1154.9 1011.6L1160.5 1002.1L1166 992.5L1171.6 982.5L1177.1 972.3L1182.7 961.8L1188.2 951L1193.8 940L1199.4 928.6" stroke="#000" fill="none" stroke-width="4.6" stroke-dasharray="20 20.3"/>
<path d="M422 1344.4l8.2 10.6l-8.2 10.6l-8.2 -10.6zM458 1342.4l8.2 10.6l-8.2 10.6l-8.2 -10.6zM495 1339.4l8.2 10.6l-8.2 10.6l-8.2 -10.6zM530.5 1336.1l8.2 10.6l-8.2 10.6l-8.2 -10.6zM566.4 1333.3l8.2 10.6l-8.2 10.6l-8.2 -10.6zM602 1329.1l8.2 10.6l-8.2 10.6l-8.2 -10.6zM637.3 1326.4l8.2 10.6l-8.2 10.6l-8.2 -10.6zM673.3 1319.4l8.2 10.6l-8.2 10.6l-8.2 -10.6zM708.8 1311.4l8.2 10.6l-8.2 10.6l-8.2 -10.6zM744.4 1299.4l8.2 10.6l-8.2 10.6l-8.2 -10.6zM780 1278.4l8.2 10.6l-8.2 10.6l-8.2 -10.6zM815.7 1277.4l8.2 10.6l-8.2 10.6l-8.2 -10.6zM851.3 1256.4l8.2 10.6l-8.2 10.6l-8.2 -10.6zM887.4 1278.4l8.2 10.6l-8.2 10.6l-8.2 -10.6zM922.6 1292.4l8.2 10.6l-8.2 10.6l-8.2 -10.6zM958 1192.4l8.2 10.6l-8.2 10.6l-8.2 -10.6zM993.6 1080.4l8.2 10.6l-8.2 10.6l-8.2 -10.6zM1029.2 1199.4l8.2 10.6l-8.2 10.6l-8.2 -10.6z" fill="#000" stroke="none"/>
<path d="M421 1327.7L427 1326.2L432.9 1324.6L438.8 1322.9L444.7 1321.2L450.6 1319.4L456.5 1317.5L462.4 1315.6L468.3 1313.5L474.2 1311.4L480.1 1309.2L486 1306.9L492 1304.5L497.9 1302L503.8 1299.4L509.7 1296.7L515.6 1293.9L521.5 1291L527.4 1288L533.3 1284.8L539.2 1281.5L545.1 1278.1L551 1274.5L557 1270.8L562.9 1266.9L568.8 1262.9L574.7 1258.7L580.6 1254.3L586.5 1249.8L592.4 1245.1L598.3 1240.2L604.2 1235L610.1 1229.7L616 1224.2L622 1218.4L627.9 1212.4L633.8 1206.1L639.7 1199.6L645.6 1192.9L651.5 1185.8L657.4 1178.5L663.3 1170.8L669.2 1162.9L675.1 1154.6L681 1146L687 1137L692.9 1127.7L698.8 1118L704.7 1107.8L710.6 1097.3L716.5 1086.4L722.4 1074.9L728.3 1063.1L734.2 1050.7L740.1 1037.9L746 1024.5L752 1010.5L757.9 996L763.8 980.9L769.7 965.2L775.6 948.9L781.5 931.8L787.4 914.1L793.3 895.7L799.2 876.5L805.1 856.5L811 835.7L817 814L822.9 791.5" stroke="#00b300" fill="none" stroke-width="4.6" stroke-dasharray="20 20.3"/>
<path d="M422 1323.4l8.2 10.6l-8.2 10.6l-8.2 -10.6zM458 1304.2l8.2 10.6l-8.2 10.6l-8.2 -10.6zM495 1296.4l8.2 10.6l-8.2 10.6l-8.2 -10.6zM530.5 1271.4l8.2 10.6l-8.2 10.6l-8.2 -10.6zM566.4 1254.4l8.2 10.6l-8.2 10.6l-8.2 -10.6zM602 1235.6l8.2 10.6l-8.2 10.6l-8.2 -10.6zM637.3 1195.4l8.2 10.6l-8.2 10.6l-8.2 -10.6zM673.3 1129.4l8.2 10.6l-8.2 10.6l-8.2 -10.6z" fill="#00b300" stroke="none"/>
<path d="M421 1352.6L427 1352L432.9 1351.5L438.8 1350.9L444.7 1350.3L450.6 1349.6L456.5 1349L462.4 1348.3L468.3 1347.6L474.2 1346.8L480.1 1346L486 1345.2L492 1344.4L497.9 1343.5L503.8 1342.6L509.7 1341.6L515.6 1340.6L521.5 1339.6L527.4 1338.5L533.3 1337.3L539.2 1336.2L545.1 1334.9L551 1333.6L557 1332.3L562.9 1330.9L568.8 1329.5L574.7 1328L580.6 1326.4L586.5 1324.8L592.4 1323L598.3 1321.3L604.2 1319.4L610.1 1317.5L616 1315.5L622 1313.4L627.9 1311.2L633.8 1308.9L639.7 1306.5L645.6 1304.1L651.5 1301.5L657.4 1298.8L663.3 1296L669.2 1293.1L675.1 1290L681 1286.9L687 1283.6L692.9 1280.1L698.8 1276.6L704.7 1272.8L710.6 1268.9L716.5 1264.9L722.4 1260.7L728.3 1256.3L734.2 1251.7L740.1 1246.9L746 1241.9L752 1236.7L757.9 1231.3L763.8 1225.7L769.7 1219.8L775.6 1213.7L781.5 1207.3L787.4 1200.7L793.3 1193.8L799.2 1186.6L805.1 1179L811 1171.2L817 1163L822.9 1154.5L828.8 1145.7L834.7 1136.5L840.6 1126.8L846.5 1116.8L852.4 1106.4L858.3 1095.5L864.2 1084.1L870.1 1072.3L876 1060L882 1047.2L887.9 1033.8L893.8 1019.9L899.7 1005.4L905.6 990.2L911.5 974.5L917.4 958.1L923.3 940.9L929.2 923.1L935.1 904.5L941 885.2L947 865L952.9 844L958.8 822L964.7 799.2L970.6 775.4" stroke="#b30000" fill="none" stroke-width="4.6" stroke-dasharray="20 20.3"/>
<path d="M422 1340.4l8.2 10.6l-8.2 10.6l-8.2 -10.6zM458 1338.2l8.2 10.6l-8.2 10.6l-8.2 -10.6zM495 1334.9l8.2 10.6l-8.2 10.6l-8.2 -10.6zM530.5 1327.9l8.2 10.6l-8.2 10.6l-8.2 -10.6zM566.4 1319.4l8.2 10.6l-8.2 10.6l-8.2 -10.6zM602 1311.4l8.2 10.6l-8.2 10.6l-8.2 -10.6zM637.3 1297.4l8.2 10.6l-8.2 10.6l-8.2 -10.6zM673.3 1284.4l8.2 10.6l-8.2 10.6l-8.2 -10.6zM708.8 1260.4l8.2 10.6l-8.2 10.6l-8.2 -10.6zM744.4 1238.9l8.2 10.6l-8.2 10.6l-8.2 -10.6zM780 1207.9l8.2 10.6l-8.2 10.6l-8.2 -10.6zM815.7 1126.4l8.2 10.6l-8.2 10.6l-8.2 -10.6zM851.3 1103.4l8.2 10.6l-8.2 10.6l-8.2 -10.6z" fill="#b30000" stroke="none"/>
<path d="M421 1363.2L427 1363.1L432.9 1363L438.8 1362.9L444.7 1362.8L450.6 1362.6L456.5 1362.5L462.4 1362.4L468.3 1362.2L474.2 1362L480.1 1361.9L486 1361.7L492 1361.5L497.9 1361.3L503.8 1361.1L509.7 1360.9L515.6 1360.7L521.5 1360.5L527.4 1360.3L533.3 1360L539.2 1359.7L545.1 1359.5L551 1359.2L557 1358.9L562.9 1358.5L568.8 1358.2L574.7 1357.9L580.6 1357.5L586.5 1357.1L592.4 1356.7L598.3 1356.3L604.2 1355.8L610.1 1355.4L616 1354.9L622 1354.3L627.9 1353.8L633.8 1353.2L639.7 1352.6L645.6 1352L651.5 1351.4L657.4 1350.7L663.3 1350L669.2 1349.2L675.1 1348.4L681 1347.6L687 1346.7L692.9 1345.8L698.8 1344.8L704.7 1343.8L710.6 1342.8L716.5 1341.7L722.4 1340.5L728.3 1339.3L734.2 1338L740.1 1336.7L746 1335.3L752 1333.8L757.9 1332.3L763.8 1330.6L769.7 1328.9L775.6 1327.2L781.5 1325.3L787.4 1323.3L793.3 1321.3L799.2 1319.1L805.1 1316.8L811 1314.5L817 1312L822.9 1309.4L828.8 1306.6L834.7 1303.8L840.6 1300.7L846.5 1297.6L852.4 1294.3L858.3 1290.8L864.2 1287.1L870.1 1283.3L876 1279.3L882 1275.1L887.9 1270.7L893.8 1266L899.7 1261.2L905.6 1256.1L911.5 1250.7L917.4 1245.1L923.3 1239.2L929.2 1233.1L935.1 1226.6L941 1219.8L947 1212.7L952.9 1205.2L958.8 1197.4L964.7 1189.2L970.6 1180.6L976.5 1171.5L982.4 1162.1L988.3 1152.1L994.2 1141.7L1000.1 1130.7L1006 1119.3L1012 1107.2L1017.9 1094.6L1023.8 1081.4L1029.7 1067.5L1035.6 1052.9L1041.5 1037.6L1047.4 1021.6L1053.3 1004.8L1059.2 987.2L1065.1 968.7L1071 949.3L1077 928.9L1082.9 907.6L1088.8 885.2L1094.7 861.7L1100.6 837.1L1106.5 811.2L1112.4 784.1" stroke="#0000b3" fill="none" stroke-width="4.6" stroke-dasharray="20 20.3"/>
<path d="M422 1352.4l8.2 10.6l-8.2 10.6l-8.2 -10.6zM458 1351.8l8.2 10.6l-8.2 10.6l-8.2 -10.6zM495 1351.1l8.2 10.6l-8.2 10.6l-8.2 -10.6zM530.5 1350l8.2 10.6l-8.2 10.6l-8.2 -10.6zM566.4 1347.9l8.2 10.6l-8.2 10.6l-8.2 -10.6zM602 1344.4l8.2 10.6l-8.2 10.6l-8.2 -10.6zM637.3 1341.8l8.2 10.6l-8.2 10.6l-8.2 -10.6zM673.3 1337.4l8.2 10.6l-8.2 10.6l-8.2 -10.6zM708.8 1332.4l8.2 10.6l-8.2 10.6l-8.2 -10.6zM744.4 1321.4l8.2 10.6l-8.2 10.6l-8.2 -10.6zM780 1302.4l8.2 10.6l-8.2 10.6l-8.2 -10.6zM815.7 1298.4l8.2 10.6l-8.2 10.6l-8.2 -10.6zM851.3 1294.4l8.2 10.6l-8.2 10.6l-8.2 -10.6zM887.4 1278.4l8.2 10.6l-8.2 10.6l-8.2 -10.6zM922.6 1292.4l8.2 10.6l-8.2 10.6l-8.2 -10.6zM958 1192.4l8.2 10.6l-8.2 10.6l-8.2 -10.6zM993.6 1080.4l8.2 10.6l-8.2 10.6l-8.2 -10.6zM1029.2 1199.4l8.2 10.6l-8.2 10.6l-8.2 -10.6z" fill="#0000b3" stroke="none"/>
</g>
<g font-family="'Liberation Sans',Arial,Helvetica,sans-serif" font-size="24">
<text transform="translate(736.1 1011.9) rotate(-62.7)" fill="#00b300">m=1.46</text>
<text transform="translate(879.7 1018) rotate(-62.7)" fill="#b30000">m=1.50</text>
<text transform="translate(1023.8 1043.4) rotate(-64.5)" fill="#0000b3">m=1.74</text>
<text transform="translate(1171 993.2) rotate(-52.2)" fill="#000">m=1.02</text>
</g>
<g clip-path="url(#cD)" fill="none" stroke-width="3.9" stroke-linecap="round">
<path d="M527.4 1468.4h0M522.4 1543.6h0M470.4 1564.4h0M470.4 1579.4h0M518.4 1586.4h0M523.6 1585.4h0M481.6 1591.4h0M494.4 1595.4h0M471 1600.4h0M474 1600.4h0M560.4 1601.4h0M495.4 1609.4h0M517.4 1611.4h0M483 1617.4h0M484.6 1617.4h0M472.4 1625.4h0M498.4 1634.4h0M529.6 1639.4h0M525.4 1654.4h0M536.6 1658.4h0M457.6 1659.4h0M447.4 1667.4h0M495.4 1670.4h0M584.2 1669.4h0M511.4 1678.4h0M493.4 1679.4h0M438.4 1681.4h0M436.4 1684.4h0M476.4 1682.4h0M540.4 1681.4h0M483 1685.4h0M502.4 1686.4h0M519.4 1684.4h0M521 1686h0M490.4 1688.4h0M486.4 1690.4h0M496.4 1690.4h0M550.4 1689.4h0M567.4 1691.4h0M509.4 1693.4h0M501.4 1694.4h0M473.4 1695.4h0M521.4 1697.4h0M626.4 1699.4h0M659.4 1701.4h0M561.4 1701.4h0M499.4 1704.4h0M540.4 1705.4h0M567.4 1705.4h0M470.4 1706.4h0M475.4 1709.4h0M544.4 1710.4h0M584.2 1710.4h0M494.4 1713.4h0M506.4 1714.4h0M540.4 1714.4h0M491.4 1717.4h0M483 1719.4h0M526.4 1718.4h0M539.4 1719.4h0M547.4 1719.4h0M503.4 1720.4h0M571.4 1718.4h0M626.4 1718.4h0" stroke="#00ff00"/>
<path d="M450.7 1766.8h0M439.7 1848.7h0M577.6 1807.1h0M584.5 1754.4h0M479.5 1862.2h0M690.7 1854.8h0M706.9 1847.9h0M550.8 1844.3h0M579.6 1859.6h0M442 1828h0M545 1834.4h0M557.8 1804.8h0M496 1861.6h0M508.7 1834.5h0M583.9 1798h0M592.2 1771.9h0M507.5 1868.5h0M541.8 1872.1h0M535.9 1870.7h0M500.2 1850.5h0M550.7 1783.2h0M634.1 1859.2h0M718.2 1850.4h0M511.1 1865.9h0M467.6 1750.9h0M478.7 1819.1h0M618 1876.9h0M606.4 1866.4h0M511.5 1845.4h0M522.6 1875.3h0M714.2 1818.4h0M523.7 1876.6h0M647.6 1855.9h0M490.1 1848.4h0M558.4 1797.5h0M454.8 1834.7h0M580.5 1828.8h0M551.6 1874.1h0M671.1 1872.6h0M631.2 1849.6h0M588.4 1867.6h0M512.5 1843.1h0M546.2 1864.5h0M550.2 1818.2h0M650.7 1842.1h0M480.7 1871.4h0M454.3 1851.5h0M512.7 1854.1h0M507.6 1827.5h0M616.2 1838.6h0M591.4 1795.9h0M457.9 1817.9h0M666.6 1875.5h0M538.5 1722.6h0M626.7 1861.6h0M484.9 1794.5h0M482.2 1732.9h0M603.9 1856.5h0M555.9 1855h0M588.5 1859.4h0M542.2 1857.4h0M509.8 1852.5h0M476.8 1807h0M526.9 1831.9h0M504 1857.1h0M625.8 1826.2h0M542.2 1844.2h0M550.5 1841.6h0M561.8 1876.8h0M536.8 1758h0M513.1 1870.3h0M486.7 1857.6h0M472.6 1871.3h0M541.3 1842.4h0M516.6 1856.7h0M464.8 1846.2h0M488.6 1848.9h0M492.4 1812.4h0M499.9 1872.1h0M511 1789.1h0M702.4 1872.8h0M491.3 1799.4h0M498.8 1777.9h0M636.9 1845.4h0M626.7 1843.1h0M478.7 1832.4h0M457.6 1842.7h0M614.2 1852.3h0M568.4 1841.4h0M528.1 1837.4h0M516.8 1841h0M513.7 1841.8h0M616.5 1800h0M537.9 1870.6h0M536.3 1860.5h0M496.1 1807.5h0M510.8 1860h0M625.7 1858h0M586.2 1824.4h0M497.4 1853.8h0M535.5 1856.5h0M596.9 1872.1h0M478.9 1870.9h0M548.1 1873h0M613.7 1827.3h0M557 1820.7h0M570.7 1856.9h0M723.2 1848h0M433 1849.9h0M628.1 1857.6h0M676.7 1847.1h0M552.4 1867.7h0M499.3 1865h0M603 1875.9h0M585.8 1821.5h0M485.1 1861.8h0M510.9 1827h0M544.5 1855.1h0M564 1871.8h0M621.5 1876.6h0M616.8 1825.7h0M568.1 1812.5h0M528.7 1755.3h0M582.1 1843.6h0M456.8 1831.3h0M614.4 1822.1h0M499.4 1805h0M548.2 1828.6h0M533.8 1869.6h0M556 1848h0M506.2 1821.7h0M621.6 1819.2h0M686.7 1824.9h0M542.7 1869.3h0M471.2 1868.5h0M805.9 1867.1h0M492.9 1850h0M553.7 1855.6h0M607.8 1851.7h0M502 1746.8h0M548.9 1838.1h0M608.9 1867h0M568.6 1846.7h0M480.8 1829.2h0M582.8 1862.9h0M535.8 1832.2h0M550.9 1833.8h0M482.9 1837.2h0M579.2 1875.7h0M451.6 1854.8h0M527.3 1763.2h0M556.5 1873.3h0M524.4 1838.5h0M532 1794.4h0M707 1875.4h0M481.1 1813.5h0M452.9 1873.9h0M549.6 1834.3h0M590.4 1827.2h0M472.9 1782.2h0M771.7 1874.1h0M724.3 1856.6h0M510.9 1787.6h0M573.3 1861.4h0M525.8 1860.9h0M542.3 1808.3h0M582.2 1857.9h0M557.4 1819.8h0M494.7 1791.1h0M547.7 1830.9h0M588.2 1873.6h0M667 1812.6h0M641.4 1793.9h0M591.6 1855.1h0M535.3 1845.8h0M573.1 1829.8h0M536.6 1875.3h0M526.5 1876.5h0M648.5 1844.3h0M712.5 1825.3h0M481.2 1869.6h0M511.1 1846.3h0M680.9 1841.2h0M605.7 1847.2h0M619.4 1828.9h0M500.9 1854.3h0M453.1 1837.6h0M518 1874.7h0M540.6 1836.7h0M458.1 1762.5h0M684.8 1834.8h0M488.6 1856.8h0M530.2 1826.7h0M545 1849.6h0M678.1 1844.8h0M680.4 1840.7h0M582.1 1778.6h0M615.6 1781.9h0M683.1 1869h0M505 1739.7h0M550.5 1804.7h0M615 1847.4h0M648 1869.8h0M644.6 1770.8h0M606.7 1860.5h0M535.5 1860.1h0M549.1 1846.3h0M531.2 1823.7h0M509.7 1865h0M481.1 1845.2h0M617.6 1732.5h0M534 1854.3h0M514 1859.3h0M680.1 1803.5h0M492.4 1876.7h0M535.6 1800.3h0M640.1 1870.6h0M528.9 1852.4h0M582.5 1854.1h0M553.2 1872.8h0M550.8 1873.1h0M514.9 1759.4h0M553.4 1858.7h0M597.8 1846.3h0M529.6 1845.1h0M510.6 1870.6h0M590.9 1871h0M571 1864.5h0M730.4 1836.2h0M559.1 1768.6h0M576.9 1868.8h0M550.9 1830.8h0M757.5 1868.8h0M699.7 1873.3h0M525.2 1846.7h0M436.5 1777.9h0M525.7 1871.2h0M511.5 1874h0M493.9 1855.6h0M540.7 1873h0M568.2 1817.8h0M525.8 1825h0M564.7 1864h0M542.3 1844h0M488.2 1805.7h0M597.9 1869.7h0M580.9 1863.9h0M544.2 1864.2h0M495.3 1809.1h0M485.2 1810.7h0M518.7 1857.1h0M561.6 1856.1h0M785.7 1873.3h0M657.4 1869.4h0M439.7 1859.6h0M515.7 1876.1h0M590.6 1851h0M539.5 1860.8h0M676.1 1822.9h0M554.6 1809.1h0M554.7 1867.8h0M582.2 1751.1h0M504 1860.7h0M630.3 1862.7h0M516.9 1815.1h0M685 1862h0M604.8 1861.2h0M471.1 1852h0M685.8 1866.9h0M823.2 1873.8h0M554.9 1851.3h0M599 1856.5h0M549.5 1846.3h0M472.3 1804h0M492.1 1816.4h0M809.3 1866.4h0M550.2 1860.2h0M632 1854.9h0M700.2 1859.6h0M540 1818.1h0M582.6 1837.6h0M594.3 1853.1h0M536.9 1847.1h0M553.5 1815h0M627.7 1873.8h0M552.6 1848h0M530.8 1858.9h0M508.3 1869.2h0M560.3 1833.5h0M646.2 1817.1h0M529.4 1849.9h0M545.5 1852.7h0M521.4 1860.6h0M455.4 1817.9h0M525 1845.6h0M524.7 1832.6h0M540.2 1844.1h0M525 1868.5h0M478 1839.8h0M661.4 1860.4h0M649 1874.4h0M518.5 1875.6h0M434.7 1809.4h0M595.4 1841.4h0M560.5 1856.5h0M552.3 1818h0M708.1 1845.6h0M559.8 1857.8h0M537.4 1873.5h0M671.1 1872.8h0M590.5 1821.3h0M668.7 1873.6h0M659.4 1846h0M620.9 1825h0M578.1 1874.1h0M618.5 1768.7h0M528.6 1875h0M643.1 1870.5h0M530.8 1866.1h0M547.9 1870.1h0M550.6 1846.9h0M526.4 1865.2h0M557.6 1781.3h0M524.1 1798.6h0M536.2 1876.9h0M507.5 1846.9h0M530.5 1853.7h0M555.7 1854.3h0M569.1 1826.9h0M486 1852.6h0M564.4 1852.5h0M530.6 1837.9h0M505.4 1753.8h0M527.8 1846h0M592.7 1837.4h0M566.6 1875.3h0M499.4 1832.1h0M538.2 1848.1h0M492.2 1751.6h0M488.9 1790.9h0M548.8 1779.8h0M570.8 1732.9h0M453.4 1845.5h0M621.8 1855.6h0M487.3 1839.2h0M519 1797.7h0M576.2 1832.7h0M544.6 1857.3h0M553.4 1758.9h0M585.1 1859.1h0M490.8 1872h0M541.7 1871.7h0M476.2 1871.4h0M688.7 1817h0M523.1 1779.3h0M736.2 1870.2h0M531.6 1794h0M582.1 1768.7h0M550.1 1832.6h0M540.7 1855h0M541.9 1826.4h0M553.3 1828.3h0M547.9 1873h0M604.9 1876.5h0M566.3 1864.4h0M523.4 1875.9h0M564.6 1797h0M452.7 1859.7h0M501.9 1875.2h0M507.6 1837h0M535.8 1860.7h0M575.6 1872.4h0M476.2 1822.2h0M497.4 1825.9h0M567.9 1875.4h0M591.8 1825.4h0M480.8 1838.2h0M593.5 1814.6h0M516.4 1867.9h0M559.6 1778.8h0M536.7 1836.8h0M515.1 1826.2h0M548.1 1870.3h0M625.3 1875.7h0M467.8 1828.2h0M574.1 1845h0M524.8 1808.1h0M439.9 1785.2h0M550.9 1840.1h0M480.8 1740.3h0M582.2 1820.3h0M638.6 1839.4h0M498.3 1819.6h0M674.4 1876.4h0M573.3 1832h0M543 1814.9h0M695.8 1852h0M578.4 1824.6h0M666.7 1867.8h0M488.4 1846.4h0M711.1 1858.2h0M540.5 1837.9h0M485.4 1858.1h0M497.5 1829.2h0M650.2 1876.1h0M481.1 1779.9h0M499 1864h0M568.3 1865.2h0M727.7 1860.3h0M551.4 1847.2h0M537.1 1866.4h0M514.9 1837.8h0M566.3 1792h0M526.3 1867.3h0M721.6 1877.2h0M611.1 1868h0M639.1 1833.9h0M624.9 1874.6h0M557.6 1791h0M451.7 1847.4h0M550.9 1821.7h0M606.7 1840.9h0M583.1 1807.6h0M538.9 1823.7h0M642.3 1785.3h0M463.4 1866.6h0M531.4 1751.4h0M517.6 1816.2h0M499 1876h0M639.3 1847.6h0M468.5 1847.2h0M485.3 1800.2h0M553.6 1861.8h0M668.6 1871.9h0M580.2 1852.5h0M555.9 1854.7h0M475.1 1861h0M517.5 1867.1h0M672.9 1865h0M535.8 1811.9h0M640.3 1856.5h0M629.1 1876.3h0M455.8 1770.7h0M665.8 1877.1h0M535.4 1849.5h0M744.3 1828.2h0M551 1799.6h0M522.1 1841.2h0M691.9 1873.5h0M521.7 1771.6h0M509.2 1846.8h0M544.6 1870.1h0M617.3 1873h0M509 1873h0M515.3 1867.9h0M507.1 1875.9h0M553.5 1752.4h0M479.8 1803.8h0M492.2 1746.6h0M655.5 1856.6h0M467.8 1874.4h0M495.5 1836h0M598.7 1848.3h0M492 1868.8h0M623.7 1876.6h0M778 1867.6h0M493 1859.9h0M517.2 1838.4h0M560.2 1781.4h0M615.5 1827.7h0M680.1 1867.5h0M578.5 1822h0M583.4 1861h0M684 1874.8h0M651 1872.4h0M510.8 1841.9h0M578.1 1829.6h0M463.6 1820.2h0M643 1851.8h0M478.9 1817h0M609.6 1863.4h0M458.1 1875.8h0M517.8 1863h0M660.6 1844.1h0M594 1872.5h0M759 1877.3h0M484.2 1853.9h0M630.6 1866.7h0M492.9 1841.8h0M631.3 1875.8h0M643.4 1847.4h0M482.6 1800.6h0M522.2 1844h0M444 1871.3h0M593.1 1876.6h0M602.4 1847.1h0M618.1 1833.4h0M505.3 1864.5h0M671.3 1850.8h0M568.8 1758.2h0M505.6 1859.4h0M588 1859.6h0M473.9 1866.3h0M480.4 1865h0M537.4 1845.4h0M506.2 1812.7h0M518.7 1741.1h0M516.4 1861.1h0M549 1831h0M595 1870.6h0M572.5 1869.5h0M466.5 1812.4h0M643.3 1816.3h0M602.3 1837.5h0M611.8 1863.4h0M766.9 1861.2h0M508.2 1833.9h0M539.1 1859.6h0M583.3 1849.2h0M524.4 1839.9h0M487.7 1861.6h0M493.9 1858.7h0M513.9 1721.7h0M603.1 1875.3h0M546.2 1793.8h0M571.3 1870.4h0M463.4 1761.1h0M546 1771h0M479.3 1819.3h0M838.1 1875h0M555.8 1861.5h0M779.9 1829.3h0M555.9 1823.5h0M552.5 1858.2h0M470 1775.6h0M518.2 1865h0M580.8 1869.7h0M484.8 1849.7h0M548.7 1855h0M522.9 1865.8h0M538.4 1866.5h0M577.9 1874.5h0M502.1 1801.7h0M633.4 1825.7h0M567.2 1863.5h0M494.8 1780.7h0M651.5 1874.4h0M612.8 1787.9h0M568.8 1875.4h0M615.5 1849.9h0M561.5 1821.4h0M699.5 1860.1h0M495.5 1772.7h0M576.7 1817.3h0M483.2 1768.5h0M577.1 1861.5h0M521.5 1850.9h0M707.2 1863h0M494.6 1799.2h0M526.9 1807.9h0M722.5 1848.2h0M614.4 1869.6h0M582.3 1864h0M590.8 1874.6h0M521.4 1844.2h0M470.7 1828.1h0M581.4 1857.8h0M525.3 1862h0M546.6 1877h0M562.4 1806.6h0M568.4 1862.3h0M587 1872.6h0M623.6 1860.5h0M544.4 1868.3h0M501.9 1785.4h0M490.8 1756.2h0M503.4 1850.4h0M601.8 1868.3h0M517.1 1873.4h0M525.3 1788.1h0M500.3 1851.5h0M551.5 1832.2h0M623.1 1870.8h0M506.2 1854.9h0M472.7 1837.6h0M525.8 1866.6h0M713.3 1815.8h0M530.7 1761.4h0M569.4 1801h0M598.2 1841.2h0M682.1 1868.4h0M623.5 1788.3h0M732.5 1864h0M662.8 1875.3h0M512.1 1853.9h0M504.3 1848.8h0M660.5 1871h0M602.2 1854.5h0M495.9 1854.7h0M548.2 1789.5h0M485.9 1871.3h0M605.4 1832.9h0M511.4 1757.1h0M654.6 1868.4h0M546.6 1874.1h0M503.4 1872.6h0M509.4 1795.2h0M472.4 1733.1h0M469.8 1796.8h0M475.7 1834.4h0M631.6 1875.8h0M616 1865.5h0M535.2 1876.9h0M504.4 1874.3h0M521.3 1824h0M737.6 1828.3h0M569.3 1835.3h0M692.1 1876.9h0M530.6 1745.8h0M494.7 1825.2h0M594.1 1876.7h0M552.9 1855.9h0M509 1811.1h0M498 1833.3h0M583.1 1855.2h0M546.5 1876.4h0M721.1 1858.6h0M515.2 1841.6h0M505.8 1728.6h0M512.1 1876.2h0M508.5 1829.9h0M606.9 1852.8h0M545.1 1867h0M602.9 1865.2h0M649.9 1852.5h0M618.8 1872.9h0M517.8 1853.1h0M593.4 1854.8h0M597.2 1739.1h0M590.5 1869h0M638.4 1838.4h0M606.3 1876.8h0M532.3 1822.9h0M541.4 1840.7h0M520 1823h0M554.6 1820.6h0M498 1836.5h0M591.4 1833.2h0M507.6 1869.5h0M496 1862.3h0M538.8 1771.8h0M536.4 1867.6h0M590.3 1754.5h0M491.4 1860h0M557.5 1813.5h0M494.5 1839.2h0M644.3 1790.8h0M487.3 1808.6h0M614 1871.7h0M639.4 1858.3h0M670.1 1863.2h0M481.1 1866.5h0M577.2 1862.5h0M624.3 1865.2h0M650.6 1859.2h0M639 1814.7h0M591.6 1875.4h0M512.7 1807.5h0M607.5 1828.4h0M659.4 1843.7h0M556.6 1822.5h0M542.6 1852.9h0M538.5 1871.5h0M522.5 1873.2h0M510 1772.3h0M583.9 1859.5h0M712.8 1869h0M706.7 1876.1h0M560.8 1873.9h0M484 1856h0M490.5 1855.4h0M622.4 1837.6h0M600.6 1873.4h0M582.6 1874.3h0M570.8 1846.7h0M522.6 1874.3h0M496.5 1830.4h0M616.4 1853.4h0M579.7 1852h0M535.7 1864.8h0M533.5 1837.6h0M632.5 1870.7h0M536.7 1809.6h0M561.2 1829.3h0M643.6 1876.1h0M519.9 1859.5h0M480.1 1842.4h0M469.9 1789.6h0M663.7 1868.9h0M544.4 1863.5h0M456.9 1834h0M512.2 1863.5h0M705.7 1870.7h0M503 1801.2h0M514.8 1779.2h0M703.4 1851.9h0M582.4 1850.3h0M512.6 1840.3h0M473.9 1837.6h0M617.1 1864.7h0M747.1 1868.7h0M566.9 1828.4h0M512.2 1773.8h0M543.8 1874.8h0M656.6 1858.1h0M469.9 1818h0M517.1 1786.3h0M612.3 1835.8h0M570.6 1872.1h0M601.8 1873.9h0M611 1868.2h0M629.3 1853.4h0M662.8 1860.2h0M518.3 1809.8h0M509.9 1841.1h0M626.8 1842h0M485.9 1876h0M551.4 1815.9h0M562.2 1825.8h0M440.9 1872.3h0M506.4 1789.4h0M594.2 1858.2h0M502.9 1786.6h0M549.1 1758.5h0M604.9 1867.5h0M514.3 1822.3h0M592.4 1812.7h0M479.8 1826.6h0M477.1 1850.6h0M504.5 1864.6h0M526.3 1782.2h0M487 1857.1h0M605.3 1851.3h0M613.1 1754.3h0M467.7 1840.2h0M540.2 1867.8h0M708.3 1796.7h0M628.7 1850h0M559.3 1855.1h0M597.1 1815.3h0M500.3 1865.7h0M550.8 1822.6h0M504.1 1853.3h0M489 1865.4h0M441.9 1854.7h0M531.4 1829h0M619.4 1864.9h0M464.1 1817.3h0M489.8 1852.3h0M495.2 1831.2h0M540.9 1856.3h0M638.2 1862.4h0M760.7 1874.9h0M638.6 1835.9h0M495.6 1872.8h0M471.5 1849.6h0M457.5 1832.7h0M560.2 1827.2h0M544.4 1832h0M668.8 1871h0M656 1828.2h0M507.2 1849.9h0M545.3 1814.3h0M492 1821.5h0M543.7 1870.5h0M530.7 1871.6h0M722 1836.2h0M594.1 1784.7h0M442.7 1858.8h0M599 1832.1h0M462 1841.2h0M555.2 1833.3h0M527.5 1787.3h0M517.1 1855.3h0M494.4 1769.7h0M775.4 1833.8h0M510 1807.2h0M481.8 1843.5h0M727.9 1875.2h0M454.2 1795.4h0M693.9 1869.8h0M544.2 1851.8h0M463.2 1817.2h0M555.1 1848.5h0M658.6 1859.9h0M541.4 1849.9h0M543.2 1875.4h0M570.6 1872.9h0M652.1 1855.4h0M588.4 1853.2h0M483.1 1847.2h0M610.4 1877.2h0M604.2 1774.8h0M519.7 1732.8h0M607.8 1825h0M510.1 1870.2h0M593.5 1860.8h0M482.9 1871.3h0M468.6 1848.1h0M572.7 1824.3h0M699.6 1876.4h0M544.6 1853.8h0M483.9 1743.4h0M515.8 1857.6h0M528.9 1835.1h0M477.3 1856.1h0M539 1826.4h0M540.1 1870.8h0M488.6 1861.7h0M528.6 1873.3h0M548.7 1859.7h0M737 1865.6h0M550.9 1779h0M569.1 1795h0M645.6 1856h0M476.6 1864.7h0M514.8 1845.2h0M538.6 1875.7h0M502 1818.1h0M508.6 1835.8h0M649 1869h0M494.1 1829.6h0M528.8 1806.6h0M630.4 1822.9h0M692.3 1874.6h0M538.9 1832.2h0M684.7 1866.4h0M498.8 1842.3h0M537 1851.1h0M518.3 1849.6h0M519.6 1825.1h0M550.8 1860.8h0M455.8 1834.9h0M654.2 1855.5h0M587.8 1829.5h0M658 1871.7h0M706 1868.6h0M502.4 1855.8h0M637.2 1772.1h0M559.6 1822.9h0M665 1849.4h0M554.9 1877.1h0M560.6 1852.2h0M504.3 1872.3h0M679 1849.8h0M532.4 1839.3h0M474.9 1844.4h0M743.5 1867.4h0M553.9 1738.5h0M611.7 1836.2h0M610.5 1867.8h0M553.3 1771h0M560.7 1827.3h0M493.8 1823.3h0M556.7 1834.5h0M553.3 1865.8h0M451.4 1808.8h0M527.4 1848.7h0M488.6 1834.9h0M576.9 1872.6h0M519.8 1862.9h0M564.8 1774.7h0M682.2 1852.3h0M520.8 1818.3h0M511.9 1873.5h0M552.5 1851.2h0M448.4 1838.4h0M636.6 1871.4h0M508.8 1835.2h0M580.1 1841h0M503 1822.5h0M689.5 1839.6h0M520.1 1865.9h0M506.8 1863.2h0M562 1794.1h0M603.2 1847.7h0M696 1873.8h0M495.7 1818.9h0M477.5 1834.9h0M520.1 1841.8h0M682.6 1874.1h0M629.9 1875.3h0M468.5 1860.2h0M530.5 1858.3h0M557.9 1873.9h0M536 1799.6h0M478.9 1876.8h0M747.6 1873.7h0M520.8 1872.2h0M473.9 1794.3h0M474.8 1872.8h0M459.1 1837.2h0M729.7 1861.1h0M574.1 1813.1h0M489.8 1862.3h0M618.7 1867.6h0M642 1862.3h0M550.9 1848.1h0M553.6 1815.8h0M466.5 1779.4h0M482.6 1794.1h0M637.4 1875.1h0M621.7 1843.1h0M453.4 1871h0M503.4 1865h0M707.3 1871.1h0M564.9 1873.4h0M544.1 1799.4h0M554.8 1872.4h0M508.3 1796.4h0M639.1 1869.1h0M486.4 1825.9h0M537.2 1845.8h0M491.6 1849.9h0M530.8 1772.7h0M624.6 1870.6h0M643.1 1823.7h0M495.6 1847.3h0M526.9 1836.6h0M543.2 1850.6h0M518 1802.2h0M463.9 1836.4h0M529.2 1853.4h0M612.9 1849.3h0M547.3 1832h0M564.2 1800.7h0M564.1 1873.8h0M595 1850.5h0M638.6 1869.2h0M524.3 1827.8h0M599.8 1858.2h0M474.8 1874.8h0M517 1842.3h0M597.1 1845h0M568.7 1800h0M499.9 1767h0M497.6 1766h0M554.9 1850.9h0M584.5 1852h0M568.4 1771.3h0M496 1832.1h0M742 1848.7h0M655.5 1867.9h0M520.4 1729h0M482.4 1771.4h0M619.7 1783.7h0M657.2 1875.8h0M575.4 1871.7h0M564.1 1825.8h0M612.4 1744.8h0M496 1772.1h0M690.1 1871.3h0M507.5 1859h0M552.4 1870.8h0M565.5 1804.6h0M517.1 1839.1h0M491.8 1741.3h0M530.1 1835.8h0M507.3 1870.7h0M478.5 1847.7h0M480.2 1791.2h0M669.9 1868h0M611.5 1858.1h0M479.5 1876.3h0M539.4 1734.3h0M506.6 1827h0M638.2 1857.5h0M492.9 1865h0M538.8 1744.4h0M518 1797h0M516.3 1855.5h0M510.1 1794.3h0M561.2 1806.5h0M587.4 1780.2h0M527.5 1871.5h0M574.2 1876.1h0M589.3 1842.2h0M478.9 1865.3h0M496.3 1858.8h0M634.4 1865.6h0M711.9 1846.8h0M600 1873.8h0M516 1812.3h0M556.3 1859.3h0M529.9 1867.9h0M621.2 1873.9h0M451.1 1870h0M541 1846.1h0M484.2 1864.9h0M676.3 1876.5h0M575.4 1862h0M583.1 1837.2h0M439.4 1750.4h0M583.6 1872.2h0M522.4 1861h0M581.5 1865.4h0M618.1 1808.6h0M549.8 1758.8h0M501 1847.4h0M547.1 1868.2h0M656.1 1864.2h0M527.2 1876h0M518.9 1808.7h0M571.7 1827.5h0M528.1 1875.2h0M630.7 1846.4h0M571.1 1793h0M502 1761.1h0M547.8 1866.2h0M594.2 1875.7h0M496.8 1800.5h0M559 1847.6h0M592.6 1824.6h0M632.8 1863.1h0M499.4 1797.8h0M580.8 1814.1h0M637.1 1849.7h0M579.9 1780h0M674 1860h0M714.3 1876.9h0M470.1 1867.7h0M487.7 1837.5h0M500.9 1805.2h0M528.8 1831h0M482.5 1832.1h0M625.9 1875.3h0M519.9 1818.5h0M558.1 1818.7h0M646.6 1871.1h0M775.7 1838.6h0M646.4 1852.3h0M548.2 1841.4h0M586.9 1859.8h0M751.6 1875.7h0M502.6 1868h0M507.6 1800h0M628.3 1844.2h0M516.1 1867.9h0M621.8 1864.8h0M461.1 1851.6h0M477.4 1873.2h0M663.3 1853.8h0M479.8 1871.6h0M524.2 1856.5h0M565.6 1776.1h0M535.5 1821.4h0M517.4 1764.7h0M539.4 1863.5h0M675.6 1842.4h0M599.7 1784.5h0M652.5 1801.9h0M522.9 1847.4h0M490.9 1781.1h0M516.4 1862.9h0M459.8 1731.4h0M670.6 1839.6h0M561.5 1838.6h0M594.6 1868.5h0M662.1 1824.5h0M534.1 1877.1h0M654.7 1872h0M590.6 1846.2h0M550.8 1874.4h0M519.8 1730.9h0M560.3 1831.6h0M554.9 1866.7h0M502.8 1816.3h0M536 1837.5h0M507.1 1866.9h0M625.9 1859.4h0M549.2 1870.4h0M667.3 1832.4h0M563.7 1809.4h0M621.9 1837.7h0M506 1876.4h0M601.9 1844.2h0M710.2 1858.9h0M523.2 1863.6h0M622 1798h0M512.4 1784.3h0M655.7 1856.4h0M506.9 1819.7h0M565 1841h0M516.5 1845.7h0M555.2 1850.8h0M528.8 1830.1h0M580.6 1725.6h0M573.6 1825.1h0M554.8 1872.9h0M490.5 1796.4h0M527.2 1808h0M629.8 1866.8h0M484.1 1869.4h0M472.9 1769.6h0M495.2 1801.2h0M514.7 1850.1h0M465.4 1829.2h0M556.6 1775.1h0M571.5 1858.5h0M736.8 1846.5h0M516.2 1875.2h0M661.3 1806.6h0M586.4 1807.9h0M501.2 1835h0M565.5 1870.2h0M549.4 1850.5h0M591.7 1868h0M649.3 1862.1h0M577.7 1809.9h0M469.8 1842.5h0M459.4 1801.3h0M478.4 1789.7h0M641.8 1836h0M585.1 1873.5h0M551.7 1852.1h0M463.3 1806.9h0M521.9 1873.2h0M603.6 1813.3h0M643.7 1858h0M587.8 1872.7h0M581.1 1825.8h0M790.2 1874.9h0M667.3 1855h0M737.2 1840.7h0M540.5 1838.8h0M514.1 1850.6h0M690.2 1851.1h0M652.9 1856.9h0M725.7 1858.6h0M517.3 1858.2h0M669.5 1869.3h0M628.6 1855.8h0M524.8 1831.7h0M610.7 1813.3h0M763 1836.6h0M487.4 1821.4h0M490.6 1862.9h0M662.6 1852.6h0M555.5 1865.6h0M735.6 1867h0M562.5 1796.6h0M657.2 1842h0M621.1 1857.1h0M572.6 1796.6h0M563.1 1791.7h0M618.2 1852.3h0M605.2 1876.5h0M763.8 1872.1h0M494.6 1854.9h0M552.8 1875h0M649.8 1856.6h0M499.1 1832.1h0M503.9 1870.5h0M535.5 1770.7h0M497.5 1841.4h0M569 1852.6h0M629.8 1844.8h0M541.2 1840.4h0M664.9 1842.5h0M517.5 1855.9h0M516.3 1794.5h0M641.9 1864.6h0M705 1860.5h0M567.5 1866.5h0M589.1 1842.3h0M481.1 1870.8h0M655 1868.5h0M548.1 1818.5h0M590.1 1767.3h0M512 1859.4h0M604.4 1847.4h0M682.1 1868.5h0M557.3 1757.5h0M497.7 1759.9h0M502.9 1867.7h0M514.9 1793h0M540.2 1821.7h0M522.9 1843.8h0M525.4 1834.7h0M498.6 1795.8h0M560.5 1834.1h0M632.5 1862.6h0M580.4 1829h0M477.9 1753.9h0M526.1 1857.8h0M580.3 1839.4h0M506.2 1867.9h0M537.9 1822.7h0M475.7 1811h0M652.4 1871.2h0M591.4 1852.8h0M580 1869.8h0M639.8 1875.5h0M520.3 1797h0M503.2 1817.5h0M545.2 1870.6h0M557.5 1780.6h0M520.4 1854.1h0M551.2 1847.8h0M527.8 1845.2h0M561 1843.8h0M540.5 1862.6h0M547.3 1826.7h0M566.1 1827.1h0M591 1825.7h0M576.7 1872.6h0M647.6 1840.3h0M559.8 1852.4h0M489.3 1745.5h0M522 1811.9h0M543.4 1871.7h0M547.6 1854.1h0M493.3 1835.1h0M494.6 1844.6h0M703.5 1776.8h0M592.6 1766.7h0M486.1 1806.5h0M530.4 1729.9h0M628.6 1868.6h0M444.7 1877h0M568.8 1873h0M465.4 1842h0M520 1743.8h0M622.5 1805.7h0M472.1 1832.8h0M567 1875.9h0M502.3 1770.3h0M510.7 1843.3h0M512.8 1864.9h0M611.2 1820.7h0M490.2 1817.2h0M552 1818.6h0M504.9 1843.7h0M547.8 1828.3h0M510.8 1805.1h0M525.7 1852.1h0M485.1 1865.4h0M577 1837.2h0M467.2 1804.4h0M589.3 1822.4h0M562.9 1877.1h0M571.5 1754.9h0M526.8 1847.4h0M463 1851.7h0M555.4 1845.1h0M635.5 1862.8h0M513.6 1859h0M499.2 1857.3h0M538.1 1810.7h0M697 1868h0M486.9 1791.4h0M481.1 1760.1h0M502.3 1835.2h0M600.2 1827.3h0M650.7 1864.4h0M575 1799.8h0M614.8 1837.1h0M538.4 1862.3h0M484.8 1841h0M577.6 1866.3h0M533.2 1804.8h0M495.6 1868.6h0M526.8 1864.6h0M569.4 1872.8h0M631.4 1859.4h0M535.7 1859.9h0M735.5 1850.6h0M541.5 1872.7h0M496.8 1873.5h0M525.7 1855h0M605.4 1866h0M579.4 1875h0M521.4 1839.1h0M513.2 1822.5h0M525.8 1846.9h0M557.4 1877.1h0M640.4 1853.7h0M553.6 1836.8h0M657.5 1862h0M452.1 1813.7h0M577.9 1839.6h0M604.1 1838.6h0M470 1835.4h0M481 1861.8h0M510 1868.4h0M568 1877h0M551 1865h0M497.9 1830.7h0M586.3 1844.3h0M792.5 1860.8h0M539 1836.7h0M636 1829.5h0M788.4 1861.3h0M574 1867.7h0M538.4 1850.3h0M530 1826.9h0M508.5 1871.4h0M563.9 1855.1h0M656.6 1839.9h0M572.6 1868.8h0M772.6 1833.7h0M537.9 1721.6h0M588 1831.6h0M499.3 1865.9h0M484.9 1869h0M537.1 1874.3h0M679.6 1875.8h0M571.4 1869.9h0M531.1 1872.8h0M514.9 1824.6h0M564.4 1865.2h0M606.9 1804.8h0M477.6 1868.2h0M565.7 1807.6h0M505 1863.9h0M593.7 1767.1h0M573.5 1855.4h0M457.5 1877.3h0M647.3 1872.3h0M641.4 1872.6h0M804.1 1868.2h0M512.3 1843.7h0M662.3 1861.3h0M518.8 1836.5h0M497.2 1856.1h0M556.1 1845.9h0M551.9 1853.1h0M660.9 1826.7h0M480.6 1858h0M485.1 1822.4h0M627.9 1862.8h0M472.5 1854.1h0M578.6 1825.8h0M630.4 1875.4h0M473.6 1795.7h0M549.8 1837.6h0M600.5 1868.4h0M611 1819.1h0M468.2 1791.8h0M645.4 1877h0M621.5 1863.2h0M529.2 1850.9h0M546.2 1861.2h0M542.9 1871.4h0M607.9 1774.6h0M604.1 1857.6h0M612.1 1811.4h0M572.6 1830.5h0M468.2 1845.3h0M674.1 1830.5h0M564.7 1870.2h0M508.7 1875.7h0M509.1 1780.8h0M698.3 1870.3h0M535.8 1782.4h0M544.6 1872.7h0M529.4 1857.9h0M480.5 1833.1h0M723.2 1850.2h0M592.7 1772.9h0M562.9 1859.2h0M576.9 1755.9h0M577.9 1866.7h0M494.9 1860.5h0M583.8 1865h0M589.4 1827.8h0M527.2 1849.7h0M532.8 1869.7h0M491.8 1788.3h0M510.5 1870.5h0M546.4 1842.5h0M615.5 1850.4h0M649.9 1852.2h0M720.8 1868.7h0M485.1 1779.7h0M606.9 1852.6h0M594.1 1872.8h0M478.3 1826.1h0M569.5 1834.3h0M611.3 1859.5h0M532.6 1864.2h0M495.3 1835.5h0M498.4 1849.9h0M506.3 1769h0M631.3 1852h0M480.8 1761.8h0M701.5 1844.1h0M637.5 1868.5h0M559 1801.2h0M579.3 1815.7h0M601.4 1840.2h0M807 1842.8h0M620 1822.8h0M524.9 1773h0M564.2 1839.3h0M444.8 1832.2h0M491.5 1874.6h0M561.7 1873.3h0M580.7 1747.5h0M520.1 1848.7h0M571.5 1831.1h0M615.2 1825.3h0M681.4 1852.6h0M796.5 1863.1h0M532.6 1734.3h0M522.5 1858.5h0M596.4 1805.6h0M597.2 1856.3h0M543 1867.2h0M470.8 1874.9h0M609.5 1864.6h0M596.9 1807.3h0M678.9 1862.2h0M436.8 1837.9h0M537.7 1778h0M565.6 1819.6h0M506.4 1738.9h0M456.4 1814.9h0M605.7 1723.1h0M668.9 1874.7h0M502.9 1782.8h0M525.4 1824.2h0M500.5 1869.4h0M563.7 1875.4h0M558.2 1848.8h0M696.8 1858.2h0M534.1 1849.6h0M477.1 1833.9h0M662.9 1853.8h0M559.8 1760.5h0M598.6 1769.6h0M526.9 1875.9h0M535.7 1875.2h0M486.5 1873.5h0M460.1 1834.9h0M554.9 1852.2h0M519.5 1817.1h0M576.7 1874.1h0M494 1803.6h0" stroke="#ff0000"/>
<path d="M605.5 1901.3h0M690.3 1896.9h0M536.6 1898.8h0M587.4 1908h0M601.9 1888h0M715.9 1905.6h0M551.5 1895.5h0M620 1897.7h0M491.6 1888.1h0M586.9 1887h0M568.8 1879.4h0M549.9 1899.5h0M690 1884.9h0M666.7 1898.5h0M635.5 1908.5h0M746.4 1891.6h0M702.5 1897.5h0M745.1 1895.2h0M606.8 1891.3h0M476.1 1890.8h0M599.7 1888.4h0M757.3 1889h0M480.5 1893h0M714.7 1892.1h0M526 1889.5h0M476.2 1889.8h0M660.3 1882.8h0M649.6 1906.7h0M601.1 1884.6h0M662.5 1901.9h0M566.6 1881.7h0M616 1908.3h0M673.4 1904.8h0M670.7 1883.3h0M646.2 1892.3h0M702.4 1897.6h0M554.5 1883.7h0M634 1898.7h0M677.8 1894.8h0M551.9 1884h0M647.4 1902h0M713.9 1892.8h0M554.2 1895.4h0M498.3 1891.4h0M536.3 1886.3h0M597.8 1887.8h0M662 1904.7h0M518.1 1900.2h0M727.2 1890.8h0M484.7 1897.5h0M515.7 1890.1h0M663.8 1900.8h0M610 1888.2h0M529.8 1900h0M687.1 1905h0M671.6 1895h0M608.7 1885.8h0M516.9 1893.2h0M482.5 1892h0M501.7 1889h0M614.2 1885h0M527.7 1881.8h0M609.4 1894.1h0M757.6 1888.7h0M696.6 1891.7h0M714.5 1898.5h0M645.6 1889.9h0M536.8 1884h0M621.3 1887.4h0M525.4 1896.4h0M529.9 1891.1h0M678.6 1882.3h0M646.4 1889.3h0M517.2 1890.6h0M564.8 1892.5h0M530.4 1896.8h0M640 1902.9h0M484.3 1887h0M766.7 1892h0M487.2 1889.4h0M540.6 1895.6h0M586.5 1902.7h0M526.2 1877.9h0M788.5 1900.8h0M654.5 1880.5h0M615.7 1887h0M542.1 1884.3h0M556.8 1889.1h0M482.3 1881.6h0M620.8 1906.7h0M655.4 1892.6h0M736.9 1882.5h0M618.8 1906.5h0M608.3 1899.2h0M545.4 1889.8h0M809.7 1905.2h0M562.2 1883.6h0M756.6 1884.6h0M492.4 1895.5h0M609.7 1887.6h0M686.9 1886.6h0M563.7 1880.2h0M577.8 1892.8h0M633.6 1903.2h0M663.9 1877.8h0M786.1 1884.1h0M579.6 1883.3h0M719.6 1892.3h0M618.9 1908.6h0M488.5 1891.6h0M665.3 1882h0M606.6 1877.7h0M810.9 1881h0M568.9 1891.1h0M819.5 1907.8h0M669.5 1902.4h0M550.1 1902.5h0M534.9 1880.5h0M690.4 1892.7h0M596.5 1887.4h0M598.1 1877.4h0M595.5 1898.8h0M696.9 1904.8h0M760 1897h0M679 1881.1h0M482 1889.6h0M696.4 1905.6h0M713.9 1879.5h0M534.8 1896.4h0M533.1 1907.1h0M598.3 1891.1h0M575.3 1906.6h0M582.5 1897.4h0M632 1896.7h0M504.5 1898.6h0M617 1886.7h0M592.8 1906.5h0M604.9 1888.7h0M620.3 1898.1h0M497 1894.1h0M668.5 1906.9h0M520.6 1891.6h0M554.4 1887.7h0M523.2 1903.8h0M523.4 1889.3h0M611.5 1904.1h0M535.6 1902.2h0M490.3 1904h0M576.6 1889.9h0M681.5 1903.8h0M493.3 1886.4h0M807.4 1881.5h0M612.9 1902.4h0M654.3 1902.7h0M485.1 1884h0M635.2 1903.1h0M645.7 1897.9h0M662.5 1902.1h0M548.2 1899.2h0M683.7 1895.1h0M573.2 1883.4h0M542.9 1881.6h0M552.2 1900.2h0M636.9 1908.7h0M673.3 1904h0M634.8 1879.7h0M606.5 1883.6h0M578.1 1880h0M556.6 1882.1h0M578.2 1879.5h0M665.4 1878.9h0M527.2 1877.5h0M614.4 1886h0M675.3 1893h0M510 1881.3h0M623 1901.6h0M654.4 1902.4h0M477.4 1885.4h0M550.2 1892.9h0M619.6 1879.8h0M552.7 1880.9h0M534.2 1885.9h0M612.1 1905.3h0M507.8 1886.3h0M654.6 1907.5h0M655 1896.2h0M681.1 1878.8h0M746 1884.8h0M699.1 1887.6h0M725.1 1899.3h0M545 1895.4h0M625.2 1904.2h0M593.4 1903.1h0M638.1 1906.4h0M779.8 1907.7h0M563.1 1881h0M654.8 1886.3h0M609.4 1900.5h0M495.3 1882.6h0M671.3 1881.9h0M710.9 1904.8h0M488.7 1902.3h0M720.6 1902.2h0M703 1890.2h0M645.2 1890.5h0M511 1879.3h0M696.5 1899.2h0M533 1907.9h0M656.7 1891.6h0M592.3 1886.3h0M736.3 1897.2h0M608.1 1892.2h0M722.6 1902.9h0M806.4 1904.8h0M638.3 1904.9h0M640.9 1901.1h0M593.9 1895.6h0M604.9 1902.1h0M499.2 1898.5h0M777.8 1898.1h0M568.4 1883.7h0M625.9 1884.8h0M543.7 1896.5h0M802.2 1905.5h0M628.4 1896.5h0M524.8 1879.9h0M571.8 1897.2h0M818.9 1897.5h0M585.1 1906.1h0M535.3 1892.4h0M636.2 1901.7h0M621.8 1892.4h0M628.4 1901.4h0M643.1 1901.6h0M601.8 1898.6h0M643.1 1901.7h0M621.7 1884.3h0M560.1 1901.7h0M729.9 1902.7h0M717.7 1887.4h0M671 1885.1h0M603.1 1904.3h0M626.4 1900.3h0M615 1900.1h0M528.1 1884.9h0M530.2 1898.1h0M535.3 1893.6h0M652.8 1879.1h0M649.5 1894.9h0M752.7 1898.1h0M689.1 1884.7h0M524.6 1904.1h0M551.8 1903.7h0M589.6 1892h0M673.5 1879.2h0M627.3 1904.9h0M694.3 1896.4h0M647 1901.1h0M578.2 1887.8h0M617.1 1897.2h0M665.6 1908.1h0M707.4 1898.1h0M631.9 1903.9h0M806 1888h0M631 1898.6h0M767.1 1892.8h0M522.2 1905.6h0M559.4 1888.8h0M683.2 1907.6h0M589.8 1894.6h0M684.6 1881.7h0M555.8 1902.6h0M648.1 1891.1h0M557.6 1891h0M554.7 1885.5h0M696.6 1883.3h0M654.6 1896.2h0M520.7 1893.2h0M758 1905.4h0M529.5 1902.9h0M696.2 1888.5h0M633.7 1903.8h0M663.1 1904.4h0M676.9 1904.2h0M559.6 1902.9h0M507.7 1902.5h0M573.7 1904.3h0M646.1 1907.8h0M478.6 1902.5h0M492 1880.1h0M668.9 1877.9h0M505.1 1882.6h0M493.2 1884.5h0M747.2 1888.7h0M663 1887.8h0M724 1880.7h0M565.6 1907.1h0M475.9 1892.9h0M545 1900.6h0M657 1890h0M674.8 1883.2h0M491.3 1884.2h0M563.1 1878h0M671.4 1903.4h0M670.3 1884.6h0M555.7 1907.5h0M489.4 1883.5h0M541.2 1902.5h0M635 1882.1h0M666.4 1893.1h0M719.2 1907.3h0M551.2 1906.1h0M564.7 1906h0M654.3 1907h0M619.7 1897.2h0M587.1 1899.3h0M771.9 1878h0M571.1 1906h0M607.4 1879h0M727.9 1898.9h0M552.2 1881.1h0M567.5 1879.6h0M637 1880.3h0M691.8 1878.2h0M641.9 1893.7h0M519.8 1903.8h0M730.8 1899.6h0M659.3 1894.4h0M663.6 1900.5h0M622.7 1902.7h0M693.2 1905.3h0M590.3 1879.8h0M547.4 1890.5h0M566.9 1897.5h0M677.7 1883.9h0M527.4 1904.8h0M544.9 1898.3h0M632.8 1908.4h0M526 1898.1h0M738.7 1898.9h0M587 1896.8h0M572.4 1889.3h0M508.7 1892h0M636.5 1890.2h0M548.7 1894.2h0M645.8 1906.3h0M512.2 1892.6h0M579 1891.3h0M680.3 1899.6h0M673.8 1889.1h0M638.1 1892.5h0M568.1 1879.1h0M685.8 1885h0M629.4 1886.6h0M728.2 1881.7h0M626.8 1904.2h0M649.5 1901.7h0M632.9 1892.9h0M648.9 1908.2h0M601.4 1902.6h0M673.1 1892.2h0M650.8 1880.4h0M581.9 1898.7h0M544.4 1888.6h0M524.2 1900.7h0M712.5 1901.6h0M573.5 1891.6h0M559.4 1908h0M529.4 1890.8h0M563.1 1890.3h0M626.3 1885.5h0M727.8 1895.2h0M537.8 1905.9h0M686.9 1891.6h0M692.2 1882h0M604.2 1907.2h0M588.7 1904.1h0M662.5 1885.1h0M784.8 1890.8h0M572.5 1902.1h0M602.4 1896.4h0M655 1888.9h0M581.2 1903.7h0M598.9 1894.6h0M612 1906.3h0M559.6 1894.3h0M692.5 1886.7h0M584.9 1907.4h0M561.8 1899.6h0M481.6 1893.1h0M609.4 1905.1h0M832.8 1894.7h0M559.8 1887.4h0M599.8 1904.7h0M523.9 1901.5h0M626.4 1901.8h0M695.6 1903.3h0M479.6 1881.7h0M568.7 1902.6h0M569.8 1890.6h0M541.3 1908.6h0M505.4 1891.7h0M612.1 1878.5h0M585.3 1895.1h0M737 1883.9h0M497.4 1885.3h0M484.9 1882.3h0M681.5 1881.1h0M599.9 1887.3h0M483.9 1877.5h0M568.7 1908.1h0M538.6 1896.4h0M697.7 1899.7h0M555.9 1882.6h0M507.9 1906.4h0M687.3 1892.5h0M575.4 1899h0M597.5 1890.6h0M530.5 1879.2h0M532.8 1900h0M577.7 1893.3h0M619.2 1899.2h0M572.9 1886.3h0M587.9 1880.5h0M536 1896.6h0M541.3 1885.9h0M692.7 1893.3h0M716 1907.4h0M438.7 1893h0M585.7 1890.2h0M518.6 1891.3h0M529.6 1899.2h0M560.1 1906.3h0M525.8 1886.3h0M605.4 1893.6h0M616.6 1904.4h0M698.9 1898.4h0M677 1895.5h0M553 1882.5h0M676.6 1891.3h0M703.9 1888.5h0M573.1 1905.9h0M526 1889.7h0M700.2 1897.4h0M521.6 1899.7h0M575.9 1888.9h0M524.1 1894.6h0M688.6 1903.4h0M548.7 1891.3h0M796.7 1898.6h0M496.5 1896.5h0M613.9 1903h0M678.2 1903.9h0M533.5 1887.9h0M622.4 1905.8h0M530.1 1879.3h0M523.9 1899h0M530.2 1906.8h0M515.6 1904.2h0M624.8 1879.1h0M683.4 1884.2h0M747 1893.3h0M468.2 1896.7h0M566.8 1881.5h0M605.7 1908.3h0M532.9 1904.1h0M510.6 1888.2h0M603.1 1893.2h0M582.6 1900.6h0M482.4 1894h0M549.3 1904h0M555.1 1895.3h0M582.3 1890.7h0M654.6 1885.6h0M542.5 1900.3h0M660.4 1896h0M524.7 1889.8h0M675.3 1899.2h0M664.3 1901.7h0M531.5 1908.2h0M517.5 1907.9h0M567.9 1881.8h0M547.7 1891.1h0M512.9 1880.2h0M692.6 1906.8h0M560.7 1908.1h0M527 1881.2h0M667.5 1905.6h0M727.6 1878.9h0M652.1 1887.8h0M728.3 1884.4h0M698.9 1882.9h0M527.1 1888.3h0M636.6 1897.4h0M774.4 1894.5h0M549.5 1897.8h0M709.8 1907.7h0M724.3 1893.9h0M563.4 1898.1h0M638.7 1905.3h0M674.6 1892.7h0M773.8 1903h0M587.6 1886.1h0M634.8 1882.2h0M509.1 1882.7h0M530.7 1899h0M535.8 1879.8h0M637.2 1905.8h0M650 1882.9h0M644.7 1900.3h0M570.6 1881.5h0M483.4 1879.2h0M604.5 1887.6h0M591.9 1881h0M704.9 1887.4h0M582.6 1879.9h0M605.8 1900.2h0M669.9 1903.4h0M610.5 1903.3h0M609.9 1894h0M599.5 1889.5h0M527.3 1894.4h0M619.3 1901.5h0M508.4 1898.9h0M656.2 1892.3h0M673.5 1901.3h0M541.6 1899.1h0M516 1878.4h0M488.1 1904.7h0M560.4 1897.9h0M525.3 1881.3h0M620.5 1895.2h0M719.7 1878.2h0M627.9 1881.1h0M677.5 1880.2h0M645.2 1886.4h0M516.5 1896.8h0M659.5 1902.5h0M483.4 1893.9h0M755.5 1904.7h0M603 1886.1h0M636.5 1900.4h0M522.9 1896.9h0M637 1895.9h0M529.9 1901h0M690.6 1882.7h0M746.3 1900.6h0M646.3 1878.1h0M719.4 1883.5h0M776.7 1890.3h0M738.8 1894.3h0M754.5 1900.8h0M676.5 1890.3h0M542.3 1895.4h0M580.9 1890.9h0M527.7 1887.6h0M584.9 1886.7h0M517.4 1895.6h0M504.2 1902.2h0M564.9 1904.3h0M602 1905.7h0M679.5 1891.7h0M752.7 1891.1h0M487.8 1894.6h0M516.9 1883.5h0M475.1 1881.2h0M534 1905.3h0M539.9 1893.2h0M557.3 1889.4h0M584.5 1908.6h0M657.3 1904.9h0M708.8 1897.4h0M668.3 1887.8h0M525.7 1881.8h0M733.6 1886.2h0M614.7 1896.2h0M682.8 1879.1h0M617.3 1881.6h0M575.7 1892.5h0M635.7 1894.7h0M671.4 1895.5h0M750.6 1907.4h0M686.7 1897.3h0M710.3 1905.3h0M488.7 1906.7h0M710.3 1894.8h0M606.9 1894.4h0M543.9 1886.8h0M463.4 1890.9h0M700.1 1889.4h0M713.5 1896.5h0M648.8 1879.7h0M659.3 1887.3h0M594.9 1881.6h0M569.5 1902.6h0M591.6 1900.6h0M584.2 1879.4h0M583.8 1892.6h0M512.9 1881.3h0M557.6 1892.5h0M667.2 1906.8h0M679.8 1878.2h0M518 1884.5h0M632.9 1888.3h0M451.2 1889.8h0M618.1 1885h0M618.8 1893.1h0M527.6 1901.9h0M686.6 1893.3h0M712.4 1883.9h0M588 1888.9h0M558.5 1891.8h0M532.4 1882.3h0M510.8 1887h0M542.4 1882h0M632.4 1907.6h0M564 1903.5h0M647.3 1898.4h0M725.5 1880.1h0M690.5 1887.9h0M695.9 1884.5h0M647.3 1882h0M659.1 1903.8h0M569.7 1886.2h0M536.5 1886.7h0M684.5 1902h0M573 1902.3h0M751 1900.9h0M556 1900.5h0M630 1907.3h0M538.4 1886.8h0M517.6 1895.9h0M662.3 1908.6h0M584.4 1903.6h0M541.1 1895.4h0M515 1880.9h0M718.4 1893.5h0M713.5 1899.5h0M745.4 1904h0M604.7 1891.2h0M526.8 1896h0M685.7 1892.4h0M496.6 1891.5h0M588.5 1879.8h0M556.2 1899.1h0M655 1889.9h0M463.7 1899.4h0M739.2 1885.1h0M667.6 1879.1h0M600.6 1885.6h0M715 1907h0M651.2 1892.2h0M630 1897.9h0M770.5 1882.1h0M702.7 1900.9h0M574.3 1906.9h0M557.2 1903.6h0M465 1879.7h0M622 1899.6h0M561.6 1882.3h0M526 1905.9h0M635.7 1888.3h0M672 1899.5h0M608.3 1896.8h0M624.5 1895.5h0M568.4 1882.6h0M520.3 1895.6h0M553 1896.3h0M624.8 1905.7h0M556.5 1898.5h0M680.5 1878.7h0M719.9 1896.8h0M650.1 1883.8h0M596.6 1879.7h0M590.2 1883.2h0M517.8 1880.8h0M586.9 1904h0M529.1 1879.6h0M611.7 1905.2h0M731.4 1886.6h0M717.4 1901.7h0M533.5 1897.6h0M734.1 1893.8h0M620.7 1880.6h0M691.2 1897.3h0M695.7 1880.8h0M518.2 1898.8h0M574.1 1885h0M772.4 1887.3h0M684 1897.6h0M549.2 1896.4h0M683.2 1893.4h0M573 1895.5h0M567.8 1886.2h0M702.4 1881.7h0M612.5 1907h0M635.9 1902h0M624.7 1902.3h0M632.1 1903.1h0M515 1907.4h0M696 1904.8h0M653.3 1898h0M642.9 1899.6h0M564.8 1893.9h0M645.5 1886.2h0M593.2 1904.7h0M673.5 1879.3h0M612.8 1888.9h0M693.2 1899.2h0M586.9 1903h0M625.4 1896h0M495.8 1892.4h0M697.4 1887.4h0M750.7 1905.7h0M608.1 1903.8h0M503.5 1886.9h0M577 1904.8h0M770.8 1894.3h0M539.5 1897.3h0M531.8 1891.7h0M557.8 1895.4h0M641.2 1897h0M569.1 1903h0M724.9 1880.1h0M477 1891h0M617.4 1887.3h0M495.5 1900h0M539.1 1884.7h0M628.9 1901.1h0M610.3 1897.5h0M748.9 1894.7h0M651.9 1893.1h0M581.8 1904.2h0M598.1 1898.8h0M653.9 1894.1h0M540.1 1890.4h0M735.9 1895.2h0M579.3 1885.6h0M648.2 1902.2h0M740.8 1889.6h0M633.3 1899.4h0M739.4 1904.1h0M601.9 1904.7h0M553 1895.9h0M589.6 1895.8h0M513.4 1882.5h0M761.9 1905.2h0M545.5 1879.5h0M525.6 1901.6h0M675.4 1892.2h0M564.6 1880.5h0M621.7 1886.8h0M547.8 1891.3h0M667.6 1881.6h0M618.1 1883.7h0M566.5 1902.8h0M782.6 1881.9h0M537.1 1882.7h0M536.8 1888.6h0M624.8 1885.3h0M628.6 1891.6h0M519.1 1894.4h0M785.1 1895.5h0M692.1 1901.9h0M554.4 1894.3h0M737 1895.6h0M475.3 1901.9h0M505.2 1896.7h0M530 1894.9h0M551.2 1900.2h0M629.7 1889.6h0M651.8 1905.4h0M620.8 1879.7h0M577.1 1894.1h0M705.5 1879.4h0M566.1 1893.4h0M643.9 1903.3h0M583.3 1891.9h0M661 1906.5h0M682.7 1888.5h0M732.7 1904.1h0M704.9 1883.3h0M544.9 1899.4h0M529.3 1889h0M499.2 1904.7h0M648 1879.8h0M836 1895.6h0M507.9 1877.9h0M650.8 1902.3h0M602.5 1906h0M578.7 1902.3h0M631.2 1887.1h0M525 1893.6h0M629.1 1885.9h0M568.6 1882.2h0M641.2 1900.3h0M480 1896.2h0M558.1 1884.8h0M585.5 1889.2h0M530.7 1883.8h0M613.9 1894h0M869.6 1907.7h0M595 1881.7h0M676.9 1892.5h0M584.1 1902.6h0M670.1 1900.1h0M566.2 1887.2h0M629.4 1899.3h0M513.7 1893.6h0M556.1 1899.2h0M654 1887h0M551.8 1883.4h0M612.2 1887.5h0M587.9 1899.6h0M508 1904.1h0M490.7 1877.7h0M500.7 1881.9h0M594.8 1881.5h0M569.1 1904h0M694.8 1893.4h0M654.6 1879.9h0M724.9 1891.4h0M592.6 1898.3h0M460.4 1895.2h0M531.9 1889.6h0M570.2 1905.5h0M747.3 1904.5h0M654.4 1906.8h0M481.8 1900.9h0M621.8 1895.6h0M540.5 1897.9h0M743.6 1906.1h0M696.6 1895.8h0M598.1 1893.2h0M568.2 1903.8h0M645.2 1906.8h0M549.5 1897.9h0M757.2 1900.8h0M596.6 1902.8h0M609.8 1890.5h0M650 1884.8h0M567.3 1896.5h0M514.3 1901.6h0M779.2 1896.7h0M642.2 1897h0M543.3 1906.5h0M458.5 1885.7h0M545.2 1898.1h0M682.7 1891h0M509.3 1895.2h0M820.3 1884.2h0M658.8 1903.4h0M666.5 1887.4h0M738.9 1897.2h0M663.6 1907.3h0M477.8 1879.5h0M793.5 1904.2h0M659.9 1885.3h0M629.9 1878.6h0M617.6 1907.4h0M715.3 1896.7h0M675.9 1878.3h0M836.7 1895.4h0M556.9 1908.6h0M664.9 1891h0M742.2 1899.2h0M609.1 1898.4h0M554.9 1882.3h0M692.5 1894.8h0M742.9 1903h0M547.6 1892.1h0M796.7 1894h0M621 1903.4h0M769.6 1904.3h0M571.6 1907h0M614.4 1886.5h0M677.7 1891.2h0M839.8 1894.6h0M655.6 1902h0M720.4 1905.5h0M726.2 1898.6h0M562.5 1896.4h0M709.6 1890.9h0M600.3 1898.2h0M565.2 1904.6h0M555.7 1905.9h0M730.5 1898.3h0M493.4 1883.3h0M578.1 1898.1h0M563.2 1904.6h0M700.4 1898.8h0M549.5 1884.4h0M570.9 1884.4h0M583.9 1901.1h0M479.2 1886h0M689 1904.8h0M538.5 1884.5h0M501.1 1900.7h0M624.5 1894.5h0M609.9 1884.5h0M686.2 1880.5h0M618.7 1905.7h0M653.1 1891.2h0M507.7 1897.9h0M532.7 1888.7h0M586 1879.1h0M543.2 1906.2h0M487.6 1902.7h0M715.5 1891.4h0M652.6 1880.9h0M578.1 1905.9h0M630.3 1894.3h0M599.4 1900.4h0M695.7 1904.1h0M600.8 1904.4h0M522.1 1905h0M743.8 1893.7h0M753.2 1879.8h0M594.2 1900.9h0M653.2 1882.1h0M583 1908h0M668.5 1892.4h0M563.2 1887.7h0M617.2 1907.5h0M798.3 1896h0M564.3 1883.5h0M685.9 1877.5h0M740.2 1898.3h0M601.4 1886.3h0M457.5 1888.5h0M643.4 1906.6h0M567 1882.5h0M504.7 1900.7h0M631.9 1892.7h0M726.1 1886.7h0M598.7 1885.3h0M812.1 1899.3h0M583.7 1904.9h0M732.1 1895.5h0M772.1 1901.4h0M770 1895h0M635.4 1893.3h0M512.4 1898.1h0M656.3 1888.6h0M489.5 1895.1h0M554.5 1896.5h0M555.5 1884.2h0M683.5 1882h0M509.2 1903.4h0M548.1 1906.7h0M525.4 1906.3h0M820.5 1900.4h0M650.8 1887.9h0M743 1894.3h0M589.9 1897.6h0M552 1884.8h0M652.2 1879.8h0M619.8 1887.3h0M617.6 1906.5h0M612.7 1901.1h0M540.5 1905.1h0M720.4 1891.4h0M725.1 1887.6h0M703 1894.1h0M609.8 1887.4h0M582.9 1900h0M556.1 1897.1h0M531.6 1898.4h0M681.4 1906.2h0M589.8 1885.5h0M546.7 1896.3h0M583.6 1908.2h0M578.1 1900.5h0M516.5 1901.1h0M612.9 1898.1h0M732 1905.9h0M659.4 1880.1h0M630.8 1894.8h0M598 1878.4h0M549.3 1906.5h0M510.3 1879.7h0M530.9 1885.6h0M658.8 1886.2h0M602.9 1897.9h0M646.6 1881.8h0M533.1 1906.6h0M617.1 1908.5h0M771.9 1899.6h0M552.1 1877.5h0M511.3 1902.4h0M658.6 1905.7h0M721.3 1902.2h0M593.3 1897.2h0M562.2 1888.5h0M774 1900.9h0M622.7 1879.1h0M658.3 1906.1h0M508.3 1882.5h0M526.8 1881.4h0M558.9 1908.2h0M817.3 1900.6h0M540.6 1896.1h0M643.1 1878.9h0M513.9 1888.3h0M610.4 1896.3h0M592.2 1907h0M614.5 1907.8h0M540.9 1902.9h0M589.3 1896.2h0M533 1904.8h0M581.9 1901.8h0M581.7 1886.7h0M682.6 1892.6h0M666.2 1886.4h0M717 1877.6h0M653.5 1891h0M689.7 1900h0M515.4 1901.2h0M600.1 1906.3h0M633.7 1904.1h0M712.5 1892.2h0M464.6 1880.9h0M775.1 1884.4h0M525.5 1882.6h0M607.7 1889.3h0M559.5 1904.1h0M737.1 1879.1h0M596.2 1892.1h0M543.3 1893.1h0M525.7 1902.8h0M588.2 1895h0M683.8 1881.3h0M474.7 1897.1h0M565.1 1883.7h0M545.4 1877.5h0M537.2 1904h0M452.6 1898.8h0M765.3 1903.1h0M553.5 1899.8h0M515.4 1883.9h0M577.9 1903.6h0M666.4 1897.1h0M495.4 1892.5h0M495.9 1885.6h0M619.3 1908h0M505.2 1904.9h0M667.8 1901.3h0M630.1 1892.4h0M654.4 1901.8h0M567.5 1893.5h0M710.2 1902h0M669.5 1893.1h0M820.9 1900.2h0M611.9 1884.6h0M621.5 1908.5h0M605.2 1897.9h0M594 1882.2h0M509.6 1897.2h0M488 1899.5h0M714.6 1899.6h0M561.2 1890.9h0M713.5 1894h0M646.6 1892.7h0M614.1 1897.7h0M797.7 1898.9h0M558.7 1903.4h0M534.5 1900.7h0M533.3 1904h0M643 1899.6h0M693.9 1893.1h0M590 1888.3h0M502.2 1886.7h0M531.1 1889.4h0M731.4 1895.5h0M696.4 1899.1h0M541.8 1906.9h0M590.6 1890h0M671.1 1879h0M635.7 1881.3h0M638.9 1888.9h0M488 1898h0M565.4 1908.4h0M576.7 1882.4h0M542.9 1904.3h0M602.8 1894h0M524.1 1890.3h0M592.3 1887.9h0M779 1887.4h0M707.1 1902.6h0M780.9 1885.5h0M605.4 1877.7h0M737.4 1892.6h0M595.7 1883.6h0M557.1 1885.9h0M608.5 1888.8h0M695.7 1887.4h0M494.5 1902.2h0M521.1 1907.7h0M567.7 1899h0M672.8 1901.7h0M691.8 1899.1h0M702.8 1906.4h0M521.5 1880.2h0M726.6 1884.2h0M485.9 1879.8h0M501.3 1878.4h0M651.2 1881.7h0M659.9 1900h0M517.3 1898.3h0M659.8 1892.6h0M607 1890.7h0M464.9 1897.1h0M683.2 1905.9h0M655 1895.6h0M581.9 1883.5h0M548.9 1905.4h0M539.3 1878.2h0M539.3 1882.4h0M664.4 1896.5h0M575 1892.5h0M558.1 1886.2h0M687.6 1898.2h0M840.6 1880.4h0M663.4 1891h0M744.4 1886.1h0M738.2 1884.7h0M567.1 1883.5h0M545 1898.1h0M602.8 1902.6h0M686.8 1893.1h0M570.8 1907.9h0M500.4 1892.1h0M523.4 1883.3h0M613.3 1902.1h0M618.7 1905.6h0M549.9 1883.5h0M547.8 1888.8h0M581.1 1902.2h0M769.7 1883.9h0M653 1886.2h0M599.1 1902.8h0M702.2 1895.4h0M659.5 1901.5h0M612.5 1904.2h0M557.9 1880.3h0M755 1882.2h0M642.8 1886.6h0M725.1 1903.2h0M487.2 1901.5h0M736.4 1893.3h0M530.5 1894.9h0M524.4 1888.6h0M613.7 1891.9h0M664.9 1885.7h0M737.7 1895.4h0M509.8 1905.6h0M788.7 1883.3h0M736.4 1896.6h0M674.2 1900h0M654.3 1896.5h0M516.8 1878.1h0M537.3 1896.7h0M612 1895.3h0M477.3 1900.5h0M601.4 1887.6h0M556.8 1893.4h0M512.7 1899.1h0M523.5 1904.7h0M531.9 1882.9h0M584.6 1905.2h0M580 1899.5h0M537.7 1908.2h0M588.9 1900.2h0M589.4 1907.6h0M721.1 1902.8h0M624.6 1887.6h0M687.8 1883.6h0M580.2 1901h0M511.3 1883.5h0M775.4 1898.2h0M595.2 1897.5h0M510.2 1895.3h0M586.2 1899.3h0M655 1902h0M604.9 1908.4h0M636.8 1884.3h0M597.9 1888.2h0M597.8 1879.6h0M579.9 1906.7h0M607 1891.5h0M665.5 1894.3h0M512.3 1881.9h0M757 1888.1h0M554.4 1902.9h0M692.2 1899.4h0M619.7 1882.9h0M626.3 1901.5h0M710.6 1877.4h0M611.9 1889.2h0M540.9 1895.3h0M575.3 1888h0M558.7 1890.4h0M700.8 1891.5h0M562.6 1903.7h0M644.3 1895.8h0M578.3 1907.3h0M546.8 1884.1h0M611 1904.8h0M467.9 1881.3h0M678.3 1884.3h0M675.5 1895.7h0M514.1 1897.2h0M616.1 1896.3h0M502.1 1897.7h0M626.8 1880.6h0M709.4 1884.2h0M525.1 1898.6h0M515.9 1896.6h0M535.7 1897.2h0M649.8 1890.1h0M765.9 1901.7h0M577.7 1877.3h0M590.8 1880.8h0M530.3 1901.3h0M563.8 1891.1h0M561 1906.1h0M625.9 1902.8h0M543.2 1888.5h0M650.6 1904.2h0M501.6 1896.8h0M611.1 1894.4h0M619.5 1895.5h0M663.5 1884.5h0M484 1897.1h0M505.3 1895h0M746.6 1907.5h0M519.6 1880.5h0M570 1884.5h0M573.6 1902.9h0M632.7 1898.5h0M604.5 1898.5h0M713 1897.2h0M668.2 1907.2h0M503.2 1906.3h0M653.1 1902.6h0M551.6 1898h0M521.9 1890.7h0M516.6 1885.7h0M611.4 1905.3h0M687.6 1902.6h0M602.5 1905.7h0M581.3 1903.3h0M857.1 1892.9h0M541.8 1889h0M506.6 1882.3h0M609.9 1902.1h0M599.5 1890.1h0M684.6 1882.4h0M640.6 1894.5h0M608.7 1898.2h0M679.6 1902.3h0M486.2 1880.2h0M521.7 1892h0M578.5 1890.9h0M801.9 1887.9h0M581.3 1899.4h0M674 1899.3h0M576.6 1897.6h0M493.5 1902.7h0M657.3 1885.4h0M619.5 1885h0M599.8 1890.4h0M542.1 1888.5h0M627.2 1898.7h0M605.5 1890.1h0M684.6 1894h0M741.7 1885.2h0M734.5 1880h0M631.8 1882.1h0M623.3 1891.8h0M486.1 1890.9h0M669.9 1892.1h0M557.9 1877.5h0M520.2 1879.4h0M533.5 1897.3h0M590.1 1898.1h0M582.4 1885.5h0M655.9 1907.2h0M633.1 1899.5h0M565.5 1882.4h0M512.3 1896.7h0M545 1902.4h0M550.1 1884.7h0M534.3 1897.5h0M626.3 1882.7h0M555.7 1890.2h0M724.9 1893.1h0M620.2 1877.5h0M684.4 1886.8h0M586.2 1882.1h0M567.4 1896.3h0M655.7 1883.8h0M582.6 1877.6h0M681.7 1897.8h0M544.9 1895.9h0M580.4 1884.2h0M532.8 1893.5h0M609.1 1896.9h0M625.6 1887.4h0M713.6 1880.1h0M583.9 1886.5h0M650.3 1899.2h0M683.8 1904.7h0M543.4 1907.8h0M524.3 1882.1h0M677.3 1895.5h0M740.4 1895.7h0M495.2 1886.6h0M663.5 1879.6h0M581.2 1899.6h0M538.5 1902.6h0M552.4 1882.8h0M566.3 1896.6h0M732.5 1891h0M644.4 1905.7h0M495.3 1896h0M550.1 1878h0M559 1886h0M632.6 1905.6h0M679 1888.3h0M732.2 1892.7h0M746.7 1885.5h0M639.3 1901h0M632.9 1878.5h0M511.2 1886.3h0M536.3 1893.5h0M680.8 1898.5h0M498.8 1901.2h0M645.3 1908.3h0M513.6 1902.3h0M547.9 1892h0M638.5 1904.1h0M691.6 1899.9h0M476 1890.2h0M557.6 1884.8h0M698.6 1889.6h0M656.6 1879h0M613.7 1888h0M746.5 1888.9h0M618 1886.9h0M796.9 1903.2h0M520.9 1889.4h0M654.9 1900.1h0M637.8 1889.2h0M554.7 1905h0M558.3 1900.4h0M720.1 1890h0M557.6 1905.2h0M519.8 1889.6h0M467 1907.4h0M620 1905.5h0M519.2 1880.1h0M827.1 1902.4h0M533.2 1883.5h0M537.6 1893.6h0M700.5 1891.4h0M509.5 1900.8h0M620.5 1899.9h0M632.9 1900.3h0M472.7 1899.9h0M601.2 1900.5h0M469.6 1880.1h0M588.5 1907.9h0M641.5 1902.4h0M513.7 1893.9h0M626.4 1889.9h0M495.9 1891.4h0M710 1903.9h0M608 1882.3h0M726.2 1906.8h0M606.7 1907.5h0M641.9 1884.6h0M764.4 1883.3h0M540.6 1898.1h0M522.9 1890.4h0M576.5 1891.3h0M590.2 1891.5h0M652.6 1891.7h0M751.1 1896.6h0M679.7 1893.1h0M530.4 1890.9h0M554.5 1882.7h0M661.2 1895.1h0M724.9 1904.7h0M482.1 1881.7h0M596.2 1887.5h0M500.6 1902.7h0M531.4 1883.6h0M526.2 1900.2h0M506.2 1902.1h0M709.8 1879.4h0M565.8 1903.4h0M480.9 1884.2h0M460.9 1890h0M542.8 1893.6h0M667.9 1885.4h0M576 1906.7h0M652.5 1885.3h0M634.6 1906.5h0M644.8 1890.5h0M551.8 1896.8h0M652.5 1896.3h0M576.8 1887.2h0M588.4 1886.6h0M823.1 1903.3h0M695.2 1894.2h0M807.4 1898.4h0M538.4 1890.3h0M608.6 1900h0M555.2 1898.5h0M675.7 1887.1h0M611.5 1900.5h0M621.6 1887.2h0M481.7 1889.9h0M675.3 1904.4h0M627.4 1887.7h0M590.7 1877.6h0M560.5 1881.1h0M701.5 1902.1h0M560.1 1902.6h0M734.5 1886.7h0M583.3 1892.6h0M565.9 1890.9h0M516.7 1888.3h0M822.7 1880.6h0M608.4 1879.2h0M586.4 1897.8h0M459.7 1896.5h0M548.2 1905.2h0M504.2 1903.2h0M492.3 1889.3h0M570.3 1908.3h0M575.7 1892.3h0M696.1 1901.1h0M771.4 1899.1h0M680.3 1891.2h0M585.8 1905.6h0M519.8 1898.4h0M655.6 1896.6h0M675.7 1889.4h0M803.7 1901.3h0M571.2 1880.9h0M734.6 1891.7h0M542.5 1881.6h0M563.8 1894.8h0M439.1 1896.6h0M536.8 1898.6h0M687.1 1896.8h0M656.1 1902.7h0M527.9 1880h0M639.3 1906.8h0M707.6 1879.2h0M786.8 1878.7h0M582.3 1903.4h0M674.3 1903.9h0M600.3 1906.7h0M497.6 1900h0M728.9 1893.3h0M749.3 1890.1h0M746.1 1881h0M715.4 1893h0M614.1 1887.6h0M591.4 1885h0M517.4 1880h0M609.3 1891.6h0M692.3 1904.3h0M670.5 1897.4h0M682.8 1908.5h0M538.1 1904.1h0M715.4 1901.9h0M536.7 1887h0M562 1895.7h0M539.9 1905.4h0M590.6 1902.1h0M606.6 1900.3h0M669.8 1893.4h0M603.1 1883.7h0M590.3 1887.8h0M662.8 1904.9h0M573.6 1907.3h0M566.5 1903.9h0M863.9 1877.9h0M786 1899.4h0M720.9 1896h0M634.4 1903.1h0M681.5 1899.8h0M598 1886.4h0M524.6 1903.9h0M554.1 1879.2h0M657.2 1907.4h0M665.6 1906.1h0M648 1892.7h0M603 1900.8h0M515.5 1899.4h0M483.9 1878.6h0M672.9 1890.8h0M567.1 1902.8h0M668.8 1890h0M578.5 1879h0M509.9 1883.3h0M845 1901.5h0M816.9 1893.3h0M787.4 1905.4h0M614.3 1898.8h0M702.9 1890.2h0M504 1894.1h0M639.7 1905.8h0M609.3 1889.6h0M676 1896.8h0M645.2 1896.4h0M644.7 1884.8h0M506.6 1893.9h0M525.4 1890.1h0M670 1907.8h0M498.5 1886.5h0M737.9 1892.7h0M567.6 1892h0M574.4 1896.6h0M778.9 1894.1h0M727.7 1902.5h0M510.9 1905h0M645.1 1899.3h0M630.1 1904.8h0M560.1 1890h0M505.5 1878.6h0M658.4 1884.1h0M526.1 1899.8h0M495 1891.7h0M725 1896.3h0M545.9 1877.6h0M679.6 1894.8h0M451.1 1887.8h0M475.1 1880.6h0M749.7 1905.1h0M615.1 1904.9h0M688.7 1887.4h0M829.9 1901.3h0M545.4 1903.3h0M564.9 1897.4h0M543.6 1904.7h0M708.3 1889.8h0M640 1901.3h0M704.6 1899.5h0M654.9 1887.7h0M567.4 1878h0M584 1885.9h0M617.2 1883.1h0M655.8 1888.2h0M623.3 1903.6h0M522.8 1907.9h0M569.1 1907.4h0M571.9 1883.8h0M550.3 1879.1h0M648 1896.1h0M730.4 1899.6h0M618.8 1884.7h0M549.2 1901.8h0M552.4 1886.3h0M535.8 1879.5h0M649 1904.2h0M461.9 1903.4h0M536.8 1880.8h0M643.9 1881.1h0M688 1900.8h0M565.2 1903.5h0M584.6 1890.1h0M594.3 1902.6h0M492.8 1892.5h0M649.2 1881.7h0M597.3 1893.1h0M747.8 1904h0M732.6 1881.5h0M486.5 1885h0M644.7 1895.7h0M490.2 1899h0M758.3 1904.7h0M687.7 1901.1h0M469.1 1890.8h0M605.8 1900.7h0M529.7 1900.6h0M499.4 1906.9h0M589.1 1881.6h0M731 1898.9h0M697.1 1906.4h0M578.2 1877.9h0M685 1893.9h0M714.5 1894.3h0M696 1906.9h0M509.4 1903.3h0M555.2 1904.1h0M667.6 1886.6h0M465.5 1887.7h0M573.2 1886.2h0M632.7 1902.3h0M798.9 1903.2h0M591.5 1890.8h0M767.9 1898.8h0M654 1884.8h0M731.2 1896.1h0M582.9 1881.1h0M628.4 1886.7h0M521 1889.4h0M660.7 1900.4h0M596.4 1903.1h0M620.3 1887.6h0M515.4 1905.3h0M552.8 1881.1h0M547.6 1877.5h0M764.7 1893.4h0M668.7 1889.2h0M576.5 1900.3h0M561.1 1902.7h0M499.7 1880.1h0M534.3 1885.5h0M810.2 1893.5h0M621.5 1897.4h0M645.8 1881.3h0M595.1 1896.6h0M543.9 1898.1h0M550.8 1879.7h0M654.4 1904h0M512.6 1906.8h0M682.3 1893.1h0M599.5 1878.9h0M515.8 1883h0M673.7 1903h0M585.8 1888.3h0M581.8 1896.5h0M628 1905.3h0M609.2 1905h0M554 1904.4h0M544.9 1895.7h0M567 1891.3h0M571.4 1895h0M682.5 1893.2h0M544.4 1878.5h0M695.2 1903.3h0M563 1886.8h0M662.1 1885.2h0M609.5 1895.1h0M595 1907.4h0M737.8 1897.8h0M637.9 1886.8h0M618.5 1891.2h0M604.3 1903.3h0M809.6 1890.5h0M472 1882.3h0M529.5 1884.4h0M508.1 1901.7h0M495.1 1903.3h0M572.8 1906.6h0M788.5 1898.8h0M557.6 1894h0M660.7 1878.5h0M605.5 1891.8h0M598.7 1903.6h0M570.5 1902.1h0M702.9 1897h0M872.3 1890.1h0M888.3 1904.6h0M970.4 1897.3h0M970.4 1903.4h0M982.4 1896.1h0M1016.5 1903.5h0M819.5 1882.6h0" stroke="#0000ff"/>
</g>
<path d="M421.4 1828L458.6 1827.6L495 1843L530 1856L566 1865L602 1871.6L638 1880.4L674 1882L709 1885L744.4 1887L780 1886L816 1892L851.4 1894.4L887.4 1901L922.6 1905L958 1901.6L993.6 1897L1031 1905" fill="none" stroke="#000" stroke-width="3.6" stroke-linejoin="round"/>
<g clip-path="url(#cE)" fill="none" stroke-width="3.4" stroke-dasharray="13.6 10.6">
<path d="M1329.2 1364.7L1537 1356.9L1590.3 1351.4L1412 1315L1412 1301.4L1339 1262.4L1329.2 1240L1319 1203L1314.6 1170L1312.3 1136L1310.6 1060L1309.2 1000L1308.8 888" stroke="#000"/>
<path d="M1329.2 1364.7L1518.2 1356.9L1513.3 1351L1428.6 1341.3L1390.6 1335.5L1383.8 1326.7L1337 1317.3L1332.1 1311.1L1339.9 1286.8L1316.6 1263.4L1310.7 1240L1309.6 1212L1309.2 1136L1308.8 984L1308.6 888" stroke="#0000ff"/>
<path d="M1308.2 1359.8L1428.6 1341.3L1387.7 1317.9L1382.8 1308.2L1378 1301.4L1340 1285.8L1329.2 1265.3L1326.3 1240L1315.5 1203L1312.2 1170L1310.6 1136L1309.6 1150" stroke="#ff0000"/>
<path d="M1308.4 1366.6L1308.6 1340L1313.6 1314L1312.7 1279L1309.7 1251.7L1308.8 1212" stroke="#00ff00"/>
<path d="M1308.7 888V1150" stroke="#ff0000" stroke-dasharray="13.6 10.5" stroke-dashoffset="3.25"/>
<path d="M1308.5 888V1212" stroke="#00ff00" stroke-dasharray="13.2 10.9" stroke-dashoffset="15.1"/>
</g>
<g clip-path="url(#cF)" fill="none">
<path d="M1389.2 1907.8L1558.6 1894.8L1470.6 1884.5L1455.2 1877.3L1437.1 1869L1413.9 1857.4L1367.4 1843.2L1351.9 1830.3L1336.5 1823.1L1335.2 1812.3L1337.7 1799.4L1335.9 1787.7L1323 1774.8L1314.5 1738.7L1315 1711.6L1312.7 1700L1313.7 1689.7L1310.6 1674.2L1309.6 1652.3L1309.4 1623.9L1310.6 1600.6L1310.1 1575.6L1308.8 1527.1L1309.4 1479.4L1308.6 1435.5" stroke="#000" stroke-width="3.4" stroke-dasharray="13.6 10.6"/>
<path d="M1308.6 1435.5L1309.4 1479.4L1308.8 1527.1L1310.1 1575.6L1310.6 1600.6L1309.4 1623.9L1309.6 1652.3L1310.6 1674.2L1313.7 1689.7L1312.7 1700L1315 1711.6L1314.5 1738.7L1323 1774.8L1330.8 1787.7L1332.1 1798.1L1330.8 1811L1336.5 1823.1L1351.9 1834.2L1360.2 1847.6L1394.5 1859.2L1416.5 1871.1L1468.1 1883.7L1592.7 1895.4L1458.4 1908.2" stroke="#000" stroke-width="3.4" stroke-linejoin="miter"/>
<path d="M1308.4 1877.3H1621.6" stroke="#808080" stroke-width="2.3" stroke-dasharray="8.2 8.3"/>
<path d="M1308.4 1720.5H1621.6" stroke="#808080" stroke-width="2.3" stroke-dasharray="8.2 8.3"/>
</g>
<g font-family="'Liberation Sans',Arial,Helvetica,sans-serif" font-size="25" font-weight="bold" fill="#000">
<text x="191" y="46.6">A)</text>
<text x="195.2" y="491.2">B)</text>
<text x="196.8" y="915.2">C)</text>
<text x="207.7" y="1463.8">D)</text>
<text x="1568.3" y="924.7">E)</text>
<text x="1565.6" y="1470">F)</text>
</g>
<rect x="1292.5" y="23.2" width="374.3" height="624.3" fill="#fff" stroke="#000" stroke-width="2.4"/>
<g font-family="'Liberation Sans',Arial,Helvetica,sans-serif" font-size="25" fill="#000">
<text x="1303.2" y="49.6" xml:space="preserve">ID: B5486_30</text>
<text x="1303.2" y="75.5" xml:space="preserve">Sample Date: 04-Dec-2014</text>
<text x="1303.2" y="101.8" xml:space="preserve">Sample Time: 12:43:50 PM</text>
<text x="1303.2" y="128" xml:space="preserve">Depth=5.66917 m</text>
<text x="1303.2" y="154.2" xml:space="preserve">N=3188 particles</text>
<text x="1303.2" y="180.4" xml:space="preserve">d<tspan font-size="20" dy="12.5">50,p</tspan><tspan dy="-12.5">=  66.1 </tspan><tspan font-family="'Liberation Serif','DejaVu Serif',serif" font-style="italic" font-size="26">μ</tspan><tspan dx="3.5">m</tspan></text>
<text x="1303.2" y="217" xml:space="preserve">d<tspan font-size="20" dy="12.5">50,m</tspan><tspan dy="-12.5">=  94.1 </tspan><tspan font-family="'Liberation Serif','DejaVu Serif',serif" font-style="italic" font-size="26">μ</tspan><tspan dx="3.5">m</tspan></text>
<text x="1303.2" y="262" xml:space="preserve">ws<tspan font-size="20" dy="12.5">50,p</tspan><tspan dy="-12.5">= 0.223 mm·s</tspan><tspan font-size="20" dy="-12.5">-1</tspan></text>
<text x="1303.2" y="307" xml:space="preserve">ws<tspan font-size="20" dy="12.5">50,m</tspan><tspan dy="-12.5">= 0.472 mm·s</tspan><tspan font-size="20" dy="-12.5">-1</tspan></text>
<text x="1303.2" y="344.6" xml:space="preserve">%_f(c,m): 56.6 47.9</text>
<text x="1303.2" y="370.4" xml:space="preserve">%_ba(c,m): 41.4 49.8</text>
<text x="1303.2" y="396.2" xml:space="preserve">%_p(c,m): 2.0 2.3</text>
<text x="1303.2" y="422.3" xml:space="preserve">AnalysisDate: 27-Nov-2016</text>
<text x="1303.2" y="448" xml:space="preserve">File: 20141204124350.seq</text>
</g>
</g>
</svg>
</body></html>
